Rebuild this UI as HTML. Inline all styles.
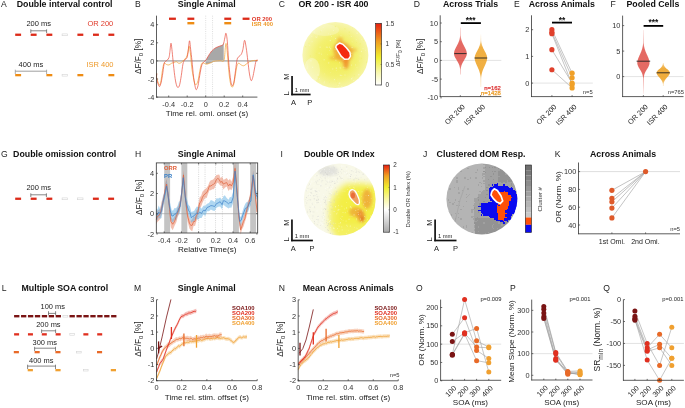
<!DOCTYPE html><html><head><meta charset="utf-8"><style>html,body{margin:0;padding:0;background:#fff;width:685px;height:408px;overflow:hidden}svg{display:block;font-family:"Liberation Sans",sans-serif;-webkit-font-smoothing:antialiased;will-change:transform}</style></head><body><svg width="685" height="408" viewBox="0 0 685 408" font-family="Liberation Sans, sans-serif"><defs><filter id="bl3" x="-50%" y="-50%" width="200%" height="200%"><feGaussianBlur stdDeviation="3"/></filter><filter id="bl15" x="-50%" y="-50%" width="200%" height="200%"><feGaussianBlur stdDeviation="1.5"/></filter><radialGradient id="gC" cx="0.52" cy="0.52" r="0.55"><stop offset="0" stop-color="#f1ec4c"/><stop offset="0.55" stop-color="#f3f070"/><stop offset="0.85" stop-color="#f6f4a0"/><stop offset="1" stop-color="#f8f7c0"/></radialGradient><radialGradient id="gC2" cx="0.5" cy="0.5" r="0.5"><stop offset="0" stop-color="#ee6a1c" stop-opacity="0.95"/><stop offset="0.45" stop-color="#f09a30" stop-opacity="0.55"/><stop offset="1" stop-color="#f2d040" stop-opacity="0"/></radialGradient><clipPath id="cC"><circle cx="335.4" cy="55.0" r="33.0"/></clipPath><linearGradient id="cbC" x1="0" y1="1" x2="0" y2="0"><stop offset="0" stop-color="#ffffff"/><stop offset="0.2" stop-color="#f8f8b0"/><stop offset="0.45" stop-color="#f0ee30"/><stop offset="0.7" stop-color="#f0a020"/><stop offset="1" stop-color="#e82010"/></linearGradient><linearGradient id="vg1" x1="0" y1="0" x2="0" y2="1"><stop offset="0" stop-color="#e05048" stop-opacity="0.3"/><stop offset="0.31" stop-color="#e05048" stop-opacity="0.85"/><stop offset="0.78" stop-color="#e05048" stop-opacity="0.85"/><stop offset="1" stop-color="#e05048" stop-opacity="0.5"/></linearGradient><linearGradient id="vg2" x1="0" y1="0" x2="0" y2="1"><stop offset="0" stop-color="#eea428" stop-opacity="0.05"/><stop offset="0.25" stop-color="#eea428" stop-opacity="0.88"/><stop offset="0.73" stop-color="#eea428" stop-opacity="0.88"/><stop offset="1" stop-color="#eea428" stop-opacity="0.3"/></linearGradient><linearGradient id="vg3" x1="0" y1="0" x2="0" y2="1"><stop offset="0" stop-color="#e05048" stop-opacity="0.2"/><stop offset="0.28" stop-color="#e05048" stop-opacity="0.85"/><stop offset="0.76" stop-color="#e05048" stop-opacity="0.85"/><stop offset="1" stop-color="#e05048" stop-opacity="0.15"/></linearGradient><linearGradient id="vg4" x1="0" y1="0" x2="0" y2="1"><stop offset="0" stop-color="#eea428" stop-opacity="0.5"/><stop offset="0.23" stop-color="#eea428" stop-opacity="0.9"/><stop offset="0.71" stop-color="#eea428" stop-opacity="0.9"/><stop offset="1" stop-color="#eea428" stop-opacity="0.4"/></linearGradient><clipPath id="cI"><circle cx="339.7" cy="199.5" r="35.9"/></clipPath><linearGradient id="cbI" x1="0" y1="1" x2="0" y2="0"><stop offset="0" stop-color="#a8a8a8"/><stop offset="0.333" stop-color="#ffffff"/><stop offset="0.5" stop-color="#f8f6a0"/><stop offset="0.667" stop-color="#f0ee30"/><stop offset="0.84" stop-color="#f0a020"/><stop offset="1" stop-color="#e82010"/></linearGradient><clipPath id="cJ"><circle cx="481.9" cy="199.0" r="35.5"/></clipPath></defs><text x="1" y="7.3" font-size="8.6" fill="#222">A</text>
<text x="16.7" y="7.3" font-size="8.8" font-weight="bold" fill="#111">Double interval control</text>
<rect x="15.2" y="33.6" width="5.9" height="2.3" fill="#dc2a18"/>
<rect x="30.7" y="33.6" width="5.9" height="2.3" fill="#dc2a18"/>
<rect x="46.4" y="33.6" width="5.9" height="2.3" fill="#dc2a18"/>
<rect x="62.1" y="33.9" width="5.4" height="1.8" fill="none" stroke="#d4d4d4" stroke-width="0.6"/>
<rect x="77.4" y="33.6" width="5.9" height="2.3" fill="#dc2a18"/>
<rect x="93" y="33.6" width="5.9" height="2.3" fill="#dc2a18"/>
<rect x="108.4" y="33.6" width="5.9" height="2.3" fill="#dc2a18"/>
<text x="26.4" y="26.2" font-size="7.5" fill="#222">200 ms</text>
<line x1="30.8" y1="30.8" x2="46.6" y2="30.8" stroke="#555" stroke-width="0.7"/>
<line x1="30.8" y1="29.3" x2="30.8" y2="33" stroke="#555" stroke-width="0.7"/>
<line x1="46.6" y1="29.3" x2="46.6" y2="33" stroke="#555" stroke-width="0.7"/>
<text x="113.3" y="26.2" font-size="7.5" text-anchor="end" fill="#e03a2a">OR 200</text>
<rect x="15.2" y="74" width="5.9" height="2.3" fill="#ee8c14"/>
<rect x="46.4" y="74" width="5.9" height="2.3" fill="#ee8c14"/>
<rect x="62.1" y="74.3" width="5.4" height="1.8" fill="none" stroke="#d4d4d4" stroke-width="0.6"/>
<rect x="77.4" y="74" width="5.9" height="2.3" fill="#ee8c14"/>
<rect x="108.4" y="74" width="5.9" height="2.3" fill="#ee8c14"/>
<text x="18.6" y="66.7" font-size="7.5" fill="#222">400 ms</text>
<line x1="15.3" y1="71.2" x2="46.6" y2="71.2" stroke="#888" stroke-width="0.8"/>
<line x1="15.3" y1="69.7" x2="15.3" y2="74" stroke="#888" stroke-width="0.7"/>
<line x1="46.6" y1="69.7" x2="46.6" y2="74" stroke="#888" stroke-width="0.7"/>
<text x="113.5" y="66.7" font-size="7.5" text-anchor="end" fill="#ee9a2a">ISR 400</text>
<text x="135.1" y="7.4" font-size="8.6" fill="#222">B</text>
<text x="177.8" y="7.4" font-size="8.8" font-weight="bold" fill="#111">Single Animal</text>
<line x1="205.7" y1="15.65" x2="205.7" y2="97.1" stroke="#c8c8c8" stroke-width="0.6" stroke-dasharray="1 1.2"/>
<line x1="212.54" y1="15.65" x2="212.54" y2="97.1" stroke="#c8c8c8" stroke-width="0.6" stroke-dasharray="1 1.2"/>
<path d="M205.7 60.28 L206.1 59.77 L206.5 59.1 L206.9 58.44 L207.3 57.77 L207.7 57.1 L208.1 56.44 L208.5 55.78 L208.9 55.18 L209.3 54.58 L209.7 53.98 L210.1 53.38 L210.5 52.78 L210.9 52.18 L211.3 51.58 L211.7 50.99 L212.1 50.67 L212.5 50.35 L212.9 50.03 L213.3 49.71 L213.7 49.39 L214.1 49.07 L214.5 48.75 L214.9 48.43 L215.3 48.11 L215.7 47.79 L216.1 47.6 L216.5 47.44 L216.9 47.28 L217.3 47.12 L217.7 46.96 L218.1 46.8 L218.5 46.64 L218.9 46.48 L219.3 46.32 L219.7 46.16 L220.1 45.98 L220.5 45.78 L220.9 45.58 L221.3 45.38 L221.7 45.18 L222.1 44.98 L222.5 44.78 L222.9 44.58 L223.3 43.99 L223.7 42.39 L223.7 60.4 L223.3 60.44 L222.9 60.48 L222.5 60.52 L222.1 60.56 L221.7 60.6 L221.3 60.64 L220.9 60.68 L220.5 60.71 L220.1 60.73 L219.7 60.75 L219.3 60.77 L218.9 60.79 L218.5 60.81 L218.1 60.83 L217.7 60.85 L217.3 60.88 L216.9 60.93 L216.5 60.97 L216.1 61.02 L215.7 61.07 L215.3 61.12 L214.9 61.17 L214.5 61.21 L214.1 61.26 L213.7 61.31 L213.3 61.38 L212.9 61.66 L212.5 61.94 L212.1 62.22 L211.7 62.5 L211.3 62.63 L210.9 62.77 L210.5 62.9 L210.1 63.03 L209.7 63.17 L209.3 63.3 L208.9 63.43 L208.5 63.57 L208.1 63.7 L207.7 63.83 L207.3 63.97 L206.9 64.1 L206.5 64.06 L206.1 63.93 L205.7 63.8" fill="#a8a8a8" stroke="none" stroke-width="0.8" stroke="none"/>
<line x1="156.5" y1="60.9" x2="257.4" y2="60.9" stroke="#bcbcbc" stroke-width="1.6"/>
<path d="M156.8 73.04 C156.77 73.75 156.26 75.35 156.64 77.29 C157.03 79.23 158.42 83.87 159.11 84.69 C159.79 85.51 160.2 84.55 160.75 82.22 C161.3 79.9 161.85 73.87 162.39 70.72 C162.94 67.57 163.35 64.37 164.04 63.33 C164.72 62.29 165.68 64.2 166.5 64.48 C167.32 64.75 168.14 65.16 168.97 64.97 C169.79 64.78 170.61 63.74 171.43 63.33 C172.25 62.92 173.07 62.78 173.9 62.51 C174.72 62.23 175.54 61.55 176.36 61.68 C177.18 61.82 178 63.19 178.83 63.33 C179.65 63.46 180.47 63.05 181.29 62.51 C182.11 61.96 182.93 60.86 183.75 60.04 C184.58 59.22 185.53 58.81 186.22 57.58 C186.9 56.34 187.4 54.56 187.86 52.65 C188.33 50.73 188.6 46.07 189.01 46.07 C189.42 46.07 189.83 48.81 190.33 52.65 C190.82 56.48 191.29 64.15 191.97 69.08 C192.65 74.01 193.75 79.62 194.43 82.22 C195.12 84.82 195.48 84.96 196.08 84.69 C196.68 84.41 197.36 83.18 198.05 80.58 C198.73 77.98 199.56 71.95 200.19 69.08 C200.82 66.2 201.14 64.29 201.83 63.33 C202.51 62.37 203.47 63.19 204.29 63.33 C205.12 63.46 205.94 64.15 206.76 64.15 C207.58 64.15 208.4 63.6 209.22 63.33 C210.04 63.05 211 62.83 211.69 62.51 C212.37 62.18 212.37 61.63 213.33 61.36 C214.29 61.08 216.21 60.97 217.44 60.86 C218.67 60.75 219.63 60.78 220.72 60.7 C221.82 60.62 223.24 62.53 224.01 60.37 C224.78 58.21 224.97 50.51 225.33 47.72 C225.68 44.92 225.82 42.79 226.15 43.61 C226.48 44.43 226.83 47.85 227.3 52.65 C227.76 57.44 228.39 67.16 228.94 72.36 C229.49 77.57 230.04 81.4 230.58 83.87 C231.13 86.33 231.68 87.15 232.23 87.15 C232.77 87.15 233.32 86.06 233.87 83.87 C234.42 81.68 234.96 77.16 235.51 74.01 C236.06 70.86 236.61 66.75 237.16 64.97 C237.7 63.19 238.11 63.33 238.8 63.33 C239.48 63.33 240.44 64.56 241.26 64.97 C242.09 65.38 242.91 65.93 243.73 65.79 C244.55 65.65 245.23 64.83 246.19 64.15 C247.15 63.46 248.25 62.29 249.48 61.68 C250.71 61.08 252.22 60.73 253.59 60.53 C254.96 60.34 257.01 60.53 257.69 60.53" fill="none" stroke="#f0a030" stroke-width="0.7" stroke-linejoin="round"/>
<path d="M156.8 73.86 C156.77 74.71 156.26 76.86 156.64 78.94 C157.03 81.01 158.42 85.51 159.11 86.33 C159.79 87.15 160.2 85.65 160.75 83.87 C161.3 82.09 161.85 78.94 162.39 75.65 C162.94 72.36 163.57 66.48 164.04 64.15 C164.5 61.82 164.64 62.37 165.19 61.68 C165.74 61 166.69 60.73 167.32 60.04 C167.95 59.36 168.56 58.81 168.97 57.58 C169.38 56.34 169.46 55.03 169.79 52.65 C170.12 50.26 170.58 43.83 170.94 43.28 C171.29 42.73 171.57 46.43 171.92 49.36 C172.28 52.29 172.61 56.48 173.07 60.86 C173.54 65.24 174.17 71.68 174.72 75.65 C175.27 79.62 175.81 82.72 176.36 84.69 C176.91 86.66 177.46 87.48 178 87.48 C178.55 87.48 179.1 86.66 179.65 84.69 C180.19 82.72 180.74 79.07 181.29 75.65 C181.84 72.23 182.39 66.75 182.93 64.15 C183.48 61.55 183.89 61.14 184.58 60.04 C185.26 58.95 186.44 59.08 187.04 57.58 C187.64 56.07 187.78 53.8 188.19 51 C188.6 48.21 189.09 41.09 189.51 40.82 C189.92 40.54 190.24 46.02 190.66 49.36 C191.07 52.7 191.48 56.21 191.97 60.86 C192.46 65.52 193.07 72.91 193.61 77.29 C194.16 81.68 194.79 85.1 195.26 87.15 C195.72 89.21 195.94 89.89 196.41 89.62 C196.87 89.34 197.5 87.84 198.05 85.51 C198.6 83.18 199.06 79.07 199.69 75.65 C200.32 72.23 201.06 67.3 201.83 64.97 C202.6 62.64 203.61 62.51 204.29 61.68 C204.98 60.86 205.25 61 205.94 60.04 C206.62 59.08 207.44 57.44 208.4 55.93 C209.36 54.43 210.46 52.37 211.69 51 C212.92 49.63 214.43 48.54 215.8 47.72 C217.16 46.9 218.67 46.62 219.9 46.07 C221.14 45.53 222.37 45.8 223.19 44.43 C224.01 43.06 224.37 39.72 224.83 37.86 C225.3 36 225.57 32.71 225.98 33.26 C226.39 33.81 226.86 36.54 227.3 41.14 C227.74 45.75 228.12 54.84 228.61 60.86 C229.1 66.89 229.71 73.19 230.25 77.29 C230.8 81.4 231.3 84.69 231.9 85.51 C232.5 86.33 233.27 84.69 233.87 82.22 C234.47 79.76 234.96 74.55 235.51 70.72 C236.06 66.89 236.61 61.55 237.16 59.22 C237.7 56.89 238.11 57.58 238.8 56.75 C239.48 55.93 240.58 55.52 241.26 54.29 C241.95 53.06 242.36 51.69 242.91 49.36 C243.45 47.03 244 40.6 244.55 40.32 C245.1 40.05 245.65 44.29 246.19 47.72 C246.74 51.14 247.29 56.48 247.84 60.86 C248.38 65.24 248.93 70.72 249.48 74.01 C250.03 77.29 250.57 80.03 251.12 80.58 C251.67 81.13 252.22 79.21 252.77 77.29 C253.31 75.38 253.86 71.82 254.41 69.08 C254.96 66.34 255.5 62.37 256.05 60.86 C256.6 59.36 257.42 60.18 257.69 60.04" fill="none" stroke="#e84c3c" stroke-width="0.7" stroke-linejoin="round"/>
<line x1="156.5" y1="15.65" x2="156.5" y2="97.5" stroke="#333333" stroke-width="0.8"/>
<line x1="156.1" y1="97.1" x2="257.4" y2="97.1" stroke="#333333" stroke-width="0.8"/>
<line x1="156.5" y1="97.1" x2="158.1" y2="97.1" stroke="#333333" stroke-width="0.7"/>
<text x="154.3" y="99.75" font-size="7.35" text-anchor="end" fill="#333333">-4</text>
<line x1="156.5" y1="79" x2="158.1" y2="79" stroke="#333333" stroke-width="0.7"/>
<text x="154.3" y="81.65" font-size="7.35" text-anchor="end" fill="#333333">-2</text>
<line x1="156.5" y1="60.9" x2="158.1" y2="60.9" stroke="#333333" stroke-width="0.7"/>
<text x="154.3" y="63.55" font-size="7.35" text-anchor="end" fill="#333333">0</text>
<line x1="156.5" y1="42.8" x2="158.1" y2="42.8" stroke="#333333" stroke-width="0.7"/>
<text x="154.3" y="45.45" font-size="7.35" text-anchor="end" fill="#333333">2</text>
<line x1="156.5" y1="24.7" x2="158.1" y2="24.7" stroke="#333333" stroke-width="0.7"/>
<text x="154.3" y="27.35" font-size="7.35" text-anchor="end" fill="#333333">4</text>
<line x1="168.7" y1="97.1" x2="168.7" y2="95.5" stroke="#333333" stroke-width="0.7"/>
<text x="168.7" y="106.5" font-size="7.35" text-anchor="middle" fill="#333333">-0.4</text>
<line x1="187.2" y1="97.1" x2="187.2" y2="95.5" stroke="#333333" stroke-width="0.7"/>
<text x="187.2" y="106.5" font-size="7.35" text-anchor="middle" fill="#333333">-0.2</text>
<line x1="205.7" y1="97.1" x2="205.7" y2="95.5" stroke="#333333" stroke-width="0.7"/>
<text x="205.7" y="106.5" font-size="7.35" text-anchor="middle" fill="#333333">0</text>
<line x1="224.2" y1="97.1" x2="224.2" y2="95.5" stroke="#333333" stroke-width="0.7"/>
<text x="224.2" y="106.5" font-size="7.35" text-anchor="middle" fill="#333333">0.2</text>
<line x1="242.7" y1="97.1" x2="242.7" y2="95.5" stroke="#333333" stroke-width="0.7"/>
<text x="242.7" y="106.5" font-size="7.35" text-anchor="middle" fill="#333333">0.4</text>
<text x="141.2" y="56.3" font-size="8.2" text-anchor="middle" fill="#222" transform="rotate(-90 141.2 56.3)">ΔF/F<tspan font-size="6.0" dy="2.3">0</tspan><tspan dy="-2.3"> [%]</tspan></text>
<text x="207" y="115.8" font-size="8.1" text-anchor="middle" fill="#222">Time rel. omi. onset (s)</text>
<rect x="169" y="17.6" width="6.9" height="2.3" fill="#dc2a18"/>
<rect x="187.4" y="17.6" width="6.9" height="2.3" fill="#dc2a18"/>
<rect x="224.3" y="17.6" width="6.9" height="2.3" fill="#dc2a18"/>
<rect x="242.6" y="17.6" width="6.9" height="2.3" fill="#dc2a18"/>
<rect x="187.4" y="22" width="6.9" height="2.4" fill="#ee8c14"/>
<rect x="224.3" y="22" width="6.9" height="2.4" fill="#ee8c14"/>
<text x="251.8" y="20.9" font-size="5.9" font-weight="bold" fill="#e03a2a">OR 200</text>
<text x="251.8" y="26" font-size="5.9" font-weight="bold" fill="#ee9a2a">ISR 400</text>
<text x="278.7" y="7.4" font-size="8.6" fill="#222">C</text>
<text x="298.5" y="7.4" font-size="8.8" font-weight="bold" fill="#111">OR 200 - ISR 400</text>
<circle cx="335.4" cy="55" r="33" fill="url(#gC)"/>
<g clip-path="url(#cC)">
<ellipse cx="312" cy="70" rx="8" ry="12" fill="#fafad8" opacity="0.45"/>
<ellipse cx="325" cy="30" rx="14" ry="6" fill="#fafad8" opacity="0.35"/>
<g filter="url(#bl15)">
<ellipse cx="343" cy="52" rx="9" ry="11" fill="#f09a30" opacity="0.75" transform="rotate(-35 343 52)"/>
<ellipse cx="346" cy="63" rx="3" ry="6" fill="#f08a28" opacity="0.8"/>
<ellipse cx="336" cy="58" rx="7" ry="1.8" fill="#f0a030" opacity="0.6"/>
<ellipse cx="352" cy="50" rx="5" ry="1.8" fill="#f0a030" opacity="0.55"/>
<ellipse cx="340" cy="40" rx="3" ry="3" fill="#f0a030" opacity="0.55"/>
</g>
</g>
<g opacity="0.5"><rect x="332.96" y="46.64" width="0.68" height="0.68" fill="#f0ee60"/><rect x="338.98" y="62.7" width="0.62" height="0.62" fill="#f8f8d0"/><rect x="365.18" y="49.89" width="0.7" height="0.7" fill="#fbfbe8"/><rect x="309.72" y="55.41" width="1.15" height="1.15" fill="#f0ee60"/><rect x="306.58" y="67.44" width="1.07" height="1.07" fill="#fbfbe8"/><rect x="317.2" y="74.34" width="1.13" height="1.13" fill="#f8f8d0"/><rect x="362.55" y="48.17" width="0.8" height="0.8" fill="#fbfbe8"/><rect x="327.4" y="54.45" width="0.61" height="0.61" fill="#f8f8d0"/><rect x="350.99" y="78.15" width="1.18" height="1.18" fill="#fbfbe8"/><rect x="310.4" y="60.19" width="1.14" height="1.14" fill="#fbfbe8"/><rect x="324.19" y="80.9" width="0.68" height="0.68" fill="#fbfbe8"/><rect x="335.45" y="59.82" width="0.92" height="0.92" fill="#fbfbe8"/><rect x="330.13" y="48.28" width="0.98" height="0.98" fill="#fbfbe8"/><rect x="348.66" y="31.59" width="1.16" height="1.16" fill="#f0ee60"/><rect x="339.03" y="62.02" width="0.69" height="0.69" fill="#f8f8d0"/><rect x="351.03" y="59.97" width="0.62" height="0.62" fill="#f0ee60"/><rect x="328.96" y="81.81" width="0.7" height="0.7" fill="#f0ee60"/><rect x="305.24" y="46.15" width="1" height="1" fill="#f0ee60"/><rect x="339.71" y="67.39" width="1.12" height="1.12" fill="#fbfbe8"/><rect x="359.43" y="60.55" width="0.87" height="0.87" fill="#f8f8d0"/><rect x="351.62" y="47.01" width="0.96" height="0.96" fill="#fbfbe8"/><rect x="331.02" y="36.09" width="0.87" height="0.87" fill="#f8f8d0"/><rect x="356.17" y="42.27" width="0.77" height="0.77" fill="#f0ee60"/><rect x="353.93" y="75.3" width="0.9" height="0.9" fill="#f0ee60"/><rect x="353.73" y="59.36" width="0.64" height="0.64" fill="#f0ee60"/><rect x="328.86" y="46.62" width="1.12" height="1.12" fill="#f8f8d0"/><rect x="311.58" y="41.16" width="1.02" height="1.02" fill="#f8f8d0"/><rect x="355.83" y="39.36" width="0.7" height="0.7" fill="#fbfbe8"/><rect x="328.07" y="62.36" width="1.18" height="1.18" fill="#f8f8d0"/><rect x="321.21" y="53.74" width="0.77" height="0.77" fill="#fbfbe8"/><rect x="351.73" y="41.54" width="0.67" height="0.67" fill="#f8f8d0"/><rect x="332.19" y="68.45" width="1.06" height="1.06" fill="#f8f8d0"/><rect x="341.22" y="74.98" width="1" height="1" fill="#f8f8d0"/><rect x="353.33" y="80.1" width="0.9" height="0.9" fill="#fbfbe8"/><rect x="363.33" y="40.27" width="0.68" height="0.68" fill="#f0ee60"/><rect x="356.55" y="32.71" width="1.07" height="1.07" fill="#fbfbe8"/><rect x="315.79" y="53.26" width="0.95" height="0.95" fill="#f0ee60"/><rect x="328.03" y="33.42" width="0.89" height="0.89" fill="#f8f8d0"/><rect x="337.74" y="84.12" width="0.62" height="0.62" fill="#f0ee60"/><rect x="361.07" y="57.93" width="0.91" height="0.91" fill="#f0ee60"/><rect x="344.75" y="74.54" width="1.13" height="1.13" fill="#f0ee60"/><rect x="338.18" y="41.82" width="1.03" height="1.03" fill="#f0ee60"/><rect x="334.85" y="25.99" width="1.13" height="1.13" fill="#f0ee60"/><rect x="305.89" y="61.79" width="0.82" height="0.82" fill="#f8f8d0"/><rect x="317.65" y="76.33" width="1.04" height="1.04" fill="#f0ee60"/><rect x="335.13" y="38.04" width="0.97" height="0.97" fill="#fbfbe8"/><rect x="342.88" y="66.75" width="0.84" height="0.84" fill="#fbfbe8"/><rect x="352.08" y="27.57" width="0.62" height="0.62" fill="#f0ee60"/><rect x="333.44" y="57.35" width="0.62" height="0.62" fill="#fbfbe8"/><rect x="324.43" y="73.67" width="0.61" height="0.61" fill="#f8f8d0"/><rect x="341.36" y="86.44" width="1.19" height="1.19" fill="#fbfbe8"/><rect x="309.41" y="45.02" width="0.74" height="0.74" fill="#fbfbe8"/><rect x="315.08" y="36.6" width="0.67" height="0.67" fill="#fbfbe8"/><rect x="307.33" y="64.59" width="0.65" height="0.65" fill="#fbfbe8"/><rect x="351.31" y="52.86" width="0.91" height="0.91" fill="#f8f8d0"/><rect x="319.12" y="62.31" width="1.18" height="1.18" fill="#f0ee60"/><rect x="318.98" y="78.21" width="0.96" height="0.96" fill="#fbfbe8"/><rect x="344.57" y="66.96" width="0.68" height="0.68" fill="#fbfbe8"/><rect x="308.63" y="42.97" width="0.75" height="0.75" fill="#f0ee60"/><rect x="323.64" y="59.18" width="1.13" height="1.13" fill="#f8f8d0"/><rect x="330.79" y="27.18" width="0.78" height="0.78" fill="#f8f8d0"/><rect x="342.69" y="59.52" width="0.86" height="0.86" fill="#fbfbe8"/><rect x="324.15" y="25.89" width="0.66" height="0.66" fill="#f8f8d0"/><rect x="338.3" y="34.45" width="1.03" height="1.03" fill="#f0ee60"/><rect x="365.91" y="61.57" width="1.16" height="1.16" fill="#f0ee60"/><rect x="350.81" y="35.94" width="0.93" height="0.93" fill="#f8f8d0"/><rect x="307.41" y="66.21" width="0.85" height="0.85" fill="#fbfbe8"/><rect x="359.62" y="43.36" width="1.1" height="1.1" fill="#f0ee60"/><rect x="335.55" y="52.57" width="0.6" height="0.6" fill="#f0ee60"/><rect x="315.94" y="36.77" width="1.19" height="1.19" fill="#f8f8d0"/><rect x="345.25" y="48.1" width="1.13" height="1.13" fill="#f0ee60"/><rect x="359.71" y="55.58" width="0.81" height="0.81" fill="#f8f8d0"/><rect x="339.84" y="74.77" width="1.07" height="1.07" fill="#fbfbe8"/><rect x="334" y="79.14" width="1.01" height="1.01" fill="#fbfbe8"/><rect x="320.41" y="31.48" width="0.87" height="0.87" fill="#f0ee60"/><rect x="312.08" y="66.79" width="1.05" height="1.05" fill="#fbfbe8"/><rect x="338.4" y="83.31" width="0.62" height="0.62" fill="#fbfbe8"/><rect x="337.89" y="84.74" width="1.06" height="1.06" fill="#f8f8d0"/><rect x="311.28" y="35.91" width="0.93" height="0.93" fill="#f8f8d0"/><rect x="316.69" y="35.39" width="1.01" height="1.01" fill="#f8f8d0"/><rect x="325.82" y="46.56" width="0.82" height="0.82" fill="#f8f8d0"/><rect x="360.92" y="50.87" width="1.04" height="1.04" fill="#fbfbe8"/><rect x="339.09" y="82.58" width="1.18" height="1.18" fill="#fbfbe8"/><rect x="361.2" y="39.17" width="0.75" height="0.75" fill="#f8f8d0"/><rect x="337.46" y="83.57" width="0.92" height="0.92" fill="#f0ee60"/><rect x="341.12" y="86.07" width="0.99" height="0.99" fill="#f8f8d0"/><rect x="321.11" y="30.56" width="0.78" height="0.78" fill="#fbfbe8"/><rect x="318.6" y="52.64" width="1.02" height="1.02" fill="#f8f8d0"/><rect x="313.82" y="31.49" width="0.94" height="0.94" fill="#fbfbe8"/><rect x="344.45" y="74.49" width="1.15" height="1.15" fill="#f8f8d0"/><rect x="358.17" y="74.13" width="1.15" height="1.15" fill="#fbfbe8"/><rect x="329.86" y="71.39" width="1.1" height="1.1" fill="#f0ee60"/><rect x="344.38" y="28.24" width="1.18" height="1.18" fill="#f0ee60"/><rect x="319.63" y="46.67" width="1.06" height="1.06" fill="#f8f8d0"/><rect x="351.13" y="64.68" width="0.88" height="0.88" fill="#fbfbe8"/><rect x="333.07" y="30.14" width="0.79" height="0.79" fill="#fbfbe8"/><rect x="329.77" y="39.94" width="1.17" height="1.17" fill="#f8f8d0"/><rect x="323.73" y="82.39" width="0.93" height="0.93" fill="#fbfbe8"/><rect x="319.45" y="80.28" width="0.86" height="0.86" fill="#f8f8d0"/><rect x="339.2" y="68.56" width="0.65" height="0.65" fill="#f0ee60"/><rect x="329.34" y="50.13" width="0.71" height="0.71" fill="#fbfbe8"/><rect x="340.18" y="55.54" width="1.11" height="1.11" fill="#f8f8d0"/><rect x="348.77" y="34.69" width="0.98" height="0.98" fill="#f0ee60"/><rect x="336.42" y="80.98" width="0.62" height="0.62" fill="#f0ee60"/><rect x="323.06" y="52.18" width="0.77" height="0.77" fill="#f0ee60"/><rect x="330.37" y="72.19" width="0.63" height="0.63" fill="#f8f8d0"/><rect x="356.58" y="66.9" width="0.73" height="0.73" fill="#f8f8d0"/><rect x="326.48" y="46.71" width="1.2" height="1.2" fill="#f8f8d0"/><rect x="335.96" y="70.17" width="0.64" height="0.64" fill="#fbfbe8"/><rect x="355.12" y="64.54" width="0.85" height="0.85" fill="#fbfbe8"/><rect x="322.8" y="27.2" width="0.76" height="0.76" fill="#fbfbe8"/><rect x="340.49" y="35.26" width="0.97" height="0.97" fill="#f8f8d0"/><rect x="335.81" y="67.6" width="1.13" height="1.13" fill="#fbfbe8"/><rect x="337.17" y="65.76" width="0.69" height="0.69" fill="#f0ee60"/><rect x="330.19" y="33.99" width="0.78" height="0.78" fill="#f8f8d0"/><rect x="345.52" y="53.33" width="1.05" height="1.05" fill="#f0ee60"/><rect x="335.82" y="78.81" width="0.64" height="0.64" fill="#f0ee60"/><rect x="344.29" y="53.47" width="0.65" height="0.65" fill="#f8f8d0"/><rect x="352.16" y="77.53" width="0.8" height="0.8" fill="#f8f8d0"/><rect x="334.66" y="49.26" width="0.9" height="0.9" fill="#fbfbe8"/></g>
<path d="M336.2 45.39 L339.53 43.04 L343.06 44.41 L346.59 47.94 L349.92 52.25 L350.51 56.18 L348.55 59.12 L344.63 59.31 L341.1 56.18 L338.16 51.27 L335.8 47.35 L336.2 45.39" fill="#f42a10" stroke="#ffffff" stroke-width="1.5" stroke-linejoin="round"/>
<rect x="375.6" y="23.4" width="6" height="61.6" fill="url(#cbC)" stroke="#222" stroke-width="0.6"/>
<line x1="381.6" y1="85" x2="380.6" y2="85" stroke="#333" stroke-width="0.5"/>
<text x="385.4" y="87.2" font-size="6.3" fill="#333">0</text>
<line x1="381.6" y1="64.47" x2="380.6" y2="64.47" stroke="#333" stroke-width="0.5"/>
<text x="385.4" y="66.67" font-size="6.3" fill="#333">0.5</text>
<line x1="381.6" y1="43.93" x2="380.6" y2="43.93" stroke="#333" stroke-width="0.5"/>
<text x="385.4" y="46.13" font-size="6.3" fill="#333">1</text>
<line x1="381.6" y1="23.4" x2="380.6" y2="23.4" stroke="#333" stroke-width="0.5"/>
<text x="385.4" y="25.6" font-size="6.3" fill="#333">1.5</text>
<text x="400" y="53" font-size="6.2" text-anchor="middle" fill="#333" transform="rotate(-90 400 53)">ΔF/F<tspan font-size="4.8" dy="1.7">0</tspan><tspan dy="-1.7"> [%]</tspan></text>
<line x1="292.05" y1="76" x2="292.05" y2="95.35" stroke="#111" stroke-width="1.7"/>
<line x1="291.2" y1="94.5" x2="310.6" y2="94.5" stroke="#111" stroke-width="1.7"/>
<text x="288.95" y="76.5" font-size="7.5" text-anchor="middle" fill="#222" transform="rotate(-90 288.95 76.5)">M</text>
<text x="288.95" y="93.5" font-size="7.5" text-anchor="middle" fill="#222" transform="rotate(-90 288.95 93.5)">L</text>
<text x="294.85" y="91.5" font-size="5.8" fill="#222">1 mm</text>
<text x="293.45" y="104.8" font-size="7.5" text-anchor="middle" fill="#222">A</text>
<text x="309.7" y="104.8" font-size="7.5" text-anchor="middle" fill="#222">P</text>
<text x="413.8" y="7.4" font-size="8.6" fill="#222">D</text>
<text x="442.9" y="7.4" font-size="8.8" font-weight="bold" fill="#111">Across Trials</text>
<line x1="440.2" y1="60.4" x2="501.3" y2="60.4" stroke="#d0d0d0" stroke-width="0.6"/>
<path d="M460.65 27.5 L460.65 28.15 L460.65 28.8 L460.65 29.46 L460.65 30.11 L460.65 30.76 L460.65 31.41 L460.65 32.07 L460.65 32.72 L460.65 33.37 L460.65 34.02 L460.65 34.68 L460.66 35.33 L460.72 35.98 L460.8 36.64 L460.89 37.29 L461 37.94 L461.13 38.59 L461.28 39.25 L461.45 39.9 L461.64 40.55 L461.85 41.2 L462.09 41.86 L462.35 42.51 L462.64 43.16 L462.94 43.81 L463.26 44.47 L463.6 45.12 L463.94 45.77 L464.29 46.42 L464.64 47.08 L464.99 47.73 L465.32 48.38 L465.63 49.03 L465.92 49.69 L466.18 50.34 L466.39 50.99 L466.57 51.64 L466.7 52.3 L466.77 52.95 L466.8 53.6 L466.78 54.12 L466.71 54.65 L466.6 55.17 L466.46 55.69 L466.27 56.21 L466.05 56.73 L465.81 57.26 L465.54 57.78 L465.24 58.3 L464.94 58.83 L464.62 59.35 L464.3 59.87 L463.98 60.39 L463.66 60.91 L463.35 61.44 L463.05 61.96 L462.77 62.48 L462.5 63.01 L462.25 63.53 L462.02 64.05 L461.8 64.57 L461.61 65.09 L461.44 65.62 L461.28 66.14 L461.15 66.66 L461.03 67.19 L460.92 67.71 L460.83 68.23 L460.75 68.75 L460.69 69.28 L460.65 69.8 L460.65 70.32 L460.65 70.84 L460.65 71.36 L460.65 71.89 L460.65 72.41 L460.65 72.93 L460.65 73.45 L460.65 73.98 L460.65 74.5 L460.15 74.5 L460.15 73.98 L460.15 73.45 L460.15 72.93 L460.15 72.41 L460.15 71.89 L460.15 71.36 L460.15 70.84 L460.15 70.32 L460.15 69.8 L460.11 69.28 L460.05 68.75 L459.97 68.23 L459.88 67.71 L459.77 67.19 L459.65 66.66 L459.52 66.14 L459.36 65.62 L459.19 65.09 L459 64.57 L458.78 64.05 L458.55 63.53 L458.3 63.01 L458.03 62.48 L457.75 61.96 L457.45 61.44 L457.14 60.91 L456.82 60.39 L456.5 59.87 L456.18 59.35 L455.86 58.83 L455.56 58.3 L455.26 57.78 L454.99 57.26 L454.75 56.73 L454.53 56.21 L454.34 55.69 L454.2 55.17 L454.09 54.65 L454.02 54.12 L454 53.6 L454.03 52.95 L454.1 52.3 L454.23 51.64 L454.41 50.99 L454.62 50.34 L454.88 49.69 L455.17 49.03 L455.48 48.38 L455.81 47.73 L456.16 47.08 L456.51 46.42 L456.86 45.77 L457.2 45.12 L457.54 44.47 L457.86 43.81 L458.16 43.16 L458.45 42.51 L458.71 41.86 L458.95 41.2 L459.16 40.55 L459.35 39.9 L459.52 39.25 L459.67 38.59 L459.8 37.94 L459.91 37.29 L460 36.64 L460.08 35.98 L460.14 35.33 L460.15 34.68 L460.15 34.02 L460.15 33.37 L460.15 32.72 L460.15 32.07 L460.15 31.41 L460.15 30.76 L460.15 30.11 L460.15 29.46 L460.15 28.8 L460.15 28.15 L460.15 27.5" fill="url(#vg1)" stroke="none" stroke-width="0.8"/>
<path d="M481.15 34 L481.15 34.6 L481.15 35.2 L481.15 35.8 L481.15 36.4 L481.15 37 L481.15 37.6 L481.15 38.2 L481.15 38.8 L481.15 39.4 L481.15 40 L481.18 40.6 L481.25 41.2 L481.33 41.8 L481.42 42.4 L481.52 43 L481.65 43.6 L481.79 44.2 L481.95 44.8 L482.13 45.4 L482.33 46 L482.55 46.6 L482.79 47.2 L483.04 47.8 L483.32 48.4 L483.61 49 L483.92 49.6 L484.23 50.2 L484.55 50.8 L484.88 51.4 L485.19 52 L485.5 52.6 L485.8 53.2 L486.08 53.8 L486.33 54.4 L486.56 55 L486.75 55.6 L486.9 56.2 L487.01 56.8 L487.08 57.4 L487.1 58 L487.07 58.73 L487 59.45 L486.88 60.17 L486.71 60.9 L486.5 61.62 L486.25 62.35 L485.97 63.08 L485.67 63.8 L485.35 64.53 L485.01 65.25 L484.67 65.97 L484.33 66.7 L484 67.42 L483.67 68.15 L483.36 68.88 L483.07 69.6 L482.79 70.33 L482.54 71.05 L482.31 71.78 L482.1 72.5 L481.91 73.22 L481.75 73.95 L481.61 74.67 L481.48 75.4 L481.38 76.12 L481.29 76.85 L481.21 77.58 L481.15 78.3 L481.15 79.03 L481.15 79.75 L481.15 80.47 L481.15 81.2 L481.15 81.92 L481.15 82.65 L481.15 83.38 L481.15 84.1 L481.15 84.83 L481.15 85.55 L481.15 86.28 L481.15 87 L480.65 87 L480.65 86.28 L480.65 85.55 L480.65 84.83 L480.65 84.1 L480.65 83.38 L480.65 82.65 L480.65 81.92 L480.65 81.2 L480.65 80.47 L480.65 79.75 L480.65 79.03 L480.65 78.3 L480.59 77.58 L480.51 76.85 L480.42 76.12 L480.32 75.4 L480.19 74.67 L480.05 73.95 L479.89 73.22 L479.7 72.5 L479.49 71.78 L479.26 71.05 L479.01 70.33 L478.73 69.6 L478.44 68.88 L478.13 68.15 L477.8 67.42 L477.47 66.7 L477.13 65.97 L476.79 65.25 L476.45 64.53 L476.13 63.8 L475.83 63.08 L475.55 62.35 L475.3 61.62 L475.09 60.9 L474.92 60.17 L474.8 59.45 L474.73 58.73 L474.7 58 L474.72 57.4 L474.79 56.8 L474.9 56.2 L475.05 55.6 L475.24 55 L475.47 54.4 L475.72 53.8 L476 53.2 L476.3 52.6 L476.61 52 L476.92 51.4 L477.25 50.8 L477.57 50.2 L477.88 49.6 L478.19 49 L478.48 48.4 L478.76 47.8 L479.01 47.2 L479.25 46.6 L479.47 46 L479.67 45.4 L479.85 44.8 L480.01 44.2 L480.15 43.6 L480.28 43 L480.38 42.4 L480.47 41.8 L480.55 41.2 L480.62 40.6 L480.65 40 L480.65 39.4 L480.65 38.8 L480.65 38.2 L480.65 37.6 L480.65 37 L480.65 36.4 L480.65 35.8 L480.65 35.2 L480.65 34.6 L480.65 34" fill="url(#vg2)" stroke="none" stroke-width="0.8"/>
<line x1="454.3" y1="53.6" x2="466.5" y2="53.6" stroke="#222" stroke-width="0.9"/>
<line x1="474.6" y1="58" x2="487.2" y2="58" stroke="#222" stroke-width="0.9"/>
<line x1="460.8" y1="23.1" x2="480.9" y2="23.1" stroke="#000" stroke-width="1.8"/>
<text x="470.6" y="22.8" font-size="8.4" text-anchor="middle" font-weight="bold" fill="#111">***</text>
<line x1="440.2" y1="15.3" x2="440.2" y2="97" stroke="#333333" stroke-width="0.8"/>
<line x1="439.8" y1="96.6" x2="501.3" y2="96.6" stroke="#333333" stroke-width="0.8"/>
<line x1="440.2" y1="97.8" x2="441.8" y2="97.8" stroke="#333333" stroke-width="0.7"/>
<text x="438" y="100.45" font-size="7.35" text-anchor="end" fill="#333333">-10</text>
<line x1="440.2" y1="79.1" x2="441.8" y2="79.1" stroke="#333333" stroke-width="0.7"/>
<text x="438" y="81.75" font-size="7.35" text-anchor="end" fill="#333333">-5</text>
<line x1="440.2" y1="60.4" x2="441.8" y2="60.4" stroke="#333333" stroke-width="0.7"/>
<text x="438" y="63.05" font-size="7.35" text-anchor="end" fill="#333333">0</text>
<line x1="440.2" y1="41.7" x2="441.8" y2="41.7" stroke="#333333" stroke-width="0.7"/>
<text x="438" y="44.35" font-size="7.35" text-anchor="end" fill="#333333">5</text>
<line x1="440.2" y1="23" x2="441.8" y2="23" stroke="#333333" stroke-width="0.7"/>
<text x="438" y="25.65" font-size="7.35" text-anchor="end" fill="#333333">10</text>
<line x1="460.3" y1="96.6" x2="460.3" y2="95.2" stroke="#333333" stroke-width="0.7"/>
<line x1="480.5" y1="96.6" x2="480.5" y2="95.2" stroke="#333333" stroke-width="0.7"/>
<text x="500.8" y="89.8" font-size="5.9" text-anchor="end" fill="#dc3434" stroke="#dc3434" stroke-width="0.25">n=162</text>
<text x="500.8" y="94.6" font-size="5.9" text-anchor="end" fill="#eb9a22" stroke="#eb9a22" stroke-width="0.25">n=1428</text>
<text x="423.2" y="56.3" font-size="8.2" text-anchor="middle" fill="#222" transform="rotate(-90 423.2 56.3)">ΔF/F<tspan font-size="6.0" dy="2.3">0</tspan><tspan dy="-2.3"> [%]</tspan></text>
<text x="465.3" y="107.4" font-size="7.2" text-anchor="end" fill="#222" transform="rotate(-45 465.3 107.4)">OR 200</text>
<text x="485.5" y="107.4" font-size="7.2" text-anchor="end" fill="#222" transform="rotate(-45 485.5 107.4)">ISR 400</text>
<text x="514.1" y="7.4" font-size="8.6" fill="#222">E</text>
<text x="528.7" y="7.4" font-size="8.8" font-weight="bold" fill="#111">Across Animals</text>
<line x1="531.5" y1="83.1" x2="592.8" y2="83.1" stroke="#d0d0d0" stroke-width="0.6"/>
<line x1="551.9" y1="29.7" x2="572.1" y2="73.22" stroke="#a0a0a0" stroke-width="0.6"/>
<line x1="551.9" y1="32.37" x2="572.1" y2="77.76" stroke="#a0a0a0" stroke-width="0.6"/>
<line x1="551.9" y1="33.7" x2="572.1" y2="84.43" stroke="#a0a0a0" stroke-width="0.6"/>
<line x1="551.9" y1="49.72" x2="572.1" y2="83.1" stroke="#a0a0a0" stroke-width="0.6"/>
<line x1="551.9" y1="69.75" x2="572.1" y2="87.91" stroke="#a0a0a0" stroke-width="0.6"/>
<circle cx="551.9" cy="29.7" r="2.6" fill="#e0402c"/>
<circle cx="551.9" cy="32.37" r="2.6" fill="#e0402c"/>
<circle cx="551.9" cy="33.7" r="2.6" fill="#e0402c"/>
<circle cx="551.9" cy="49.72" r="2.6" fill="#e0402c"/>
<circle cx="551.9" cy="69.75" r="2.6" fill="#e0402c"/>
<circle cx="572.1" cy="73.22" r="2.6" fill="#f0a028"/>
<circle cx="572.1" cy="77.76" r="2.6" fill="#f0a028"/>
<circle cx="572.1" cy="83.1" r="2.6" fill="#f0a028"/>
<circle cx="572.1" cy="84.43" r="2.6" fill="#f0a028"/>
<circle cx="572.1" cy="87.91" r="2.6" fill="#f0a028"/>
<line x1="552" y1="22.6" x2="572" y2="22.6" stroke="#000" stroke-width="1.8"/>
<text x="562" y="23" font-size="8.4" text-anchor="middle" font-weight="bold" fill="#111">**</text>
<line x1="531.5" y1="15.3" x2="531.5" y2="97" stroke="#333333" stroke-width="0.8"/>
<line x1="531.1" y1="96.6" x2="592.8" y2="96.6" stroke="#333333" stroke-width="0.8"/>
<line x1="531.5" y1="83.1" x2="533.1" y2="83.1" stroke="#333333" stroke-width="0.7"/>
<text x="529.3" y="85.75" font-size="7.35" text-anchor="end" fill="#333333">0</text>
<line x1="531.5" y1="56.4" x2="533.1" y2="56.4" stroke="#333333" stroke-width="0.7"/>
<text x="529.3" y="59.05" font-size="7.35" text-anchor="end" fill="#333333">1</text>
<line x1="531.5" y1="29.7" x2="533.1" y2="29.7" stroke="#333333" stroke-width="0.7"/>
<text x="529.3" y="32.35" font-size="7.35" text-anchor="end" fill="#333333">2</text>
<line x1="551.9" y1="96.6" x2="551.9" y2="95.2" stroke="#333333" stroke-width="0.7"/>
<line x1="572.1" y1="96.6" x2="572.1" y2="95.2" stroke="#333333" stroke-width="0.7"/>
<text x="592.7" y="93.8" font-size="5.8" text-anchor="end" fill="#333">n=5</text>
<text x="556.9" y="107.4" font-size="7.2" text-anchor="end" fill="#222" transform="rotate(-45 556.9 107.4)">OR 200</text>
<text x="577.1" y="107.4" font-size="7.2" text-anchor="end" fill="#222" transform="rotate(-45 577.1 107.4)">ISR 400</text>
<text x="610.5" y="7.2" font-size="8.6" fill="#222">F</text>
<text x="626.5" y="7.2" font-size="8.8" font-weight="bold" fill="#111">Pooled Cells</text>
<line x1="622.6" y1="76.6" x2="683.5" y2="76.6" stroke="#d0d0d0" stroke-width="0.6"/>
<path d="M643.65 30 L643.65 30.82 L643.65 31.65 L643.65 32.48 L643.65 33.3 L643.65 34.12 L643.65 34.95 L643.65 35.77 L643.65 36.6 L643.65 37.42 L643.65 38.25 L643.65 39.08 L643.65 39.9 L643.65 40.73 L643.65 41.55 L643.65 42.38 L643.69 43.2 L643.77 44.02 L643.87 44.85 L643.98 45.67 L644.13 46.5 L644.29 47.33 L644.49 48.15 L644.71 48.98 L644.96 49.8 L645.24 50.62 L645.55 51.45 L645.88 52.27 L646.24 53.1 L646.61 53.92 L646.98 54.75 L647.37 55.58 L647.74 56.4 L648.1 57.23 L648.44 58.05 L648.74 58.88 L649 59.7 L649.21 60.52 L649.37 61.35 L649.47 62.17 L649.5 63 L649.45 63.77 L649.3 64.55 L649.06 65.33 L648.74 66.1 L648.35 66.88 L647.92 67.65 L647.45 68.42 L646.98 69.2 L646.5 69.97 L646.05 70.75 L645.62 71.53 L645.23 72.3 L644.89 73.08 L644.59 73.85 L644.33 74.62 L644.12 75.4 L643.95 76.17 L643.81 76.95 L643.7 77.72 L643.65 78.5 L643.65 79.28 L643.65 80.05 L643.65 80.83 L643.65 81.6 L643.65 82.38 L643.65 83.15 L643.65 83.92 L643.65 84.7 L643.65 85.47 L643.65 86.25 L643.65 87.03 L643.65 87.8 L643.65 88.58 L643.65 89.35 L643.65 90.12 L643.65 90.9 L643.65 91.67 L643.65 92.45 L643.65 93.22 L643.65 94 L643.15 94 L643.15 93.22 L643.15 92.45 L643.15 91.67 L643.15 90.9 L643.15 90.12 L643.15 89.35 L643.15 88.58 L643.15 87.8 L643.15 87.03 L643.15 86.25 L643.15 85.47 L643.15 84.7 L643.15 83.92 L643.15 83.15 L643.15 82.38 L643.15 81.6 L643.15 80.83 L643.15 80.05 L643.15 79.28 L643.15 78.5 L643.1 77.72 L642.99 76.95 L642.85 76.17 L642.68 75.4 L642.47 74.62 L642.21 73.85 L641.91 73.08 L641.57 72.3 L641.18 71.53 L640.75 70.75 L640.3 69.97 L639.82 69.2 L639.35 68.42 L638.88 67.65 L638.45 66.88 L638.06 66.1 L637.74 65.33 L637.5 64.55 L637.35 63.77 L637.3 63 L637.33 62.17 L637.43 61.35 L637.59 60.52 L637.8 59.7 L638.06 58.88 L638.36 58.05 L638.7 57.23 L639.06 56.4 L639.43 55.58 L639.82 54.75 L640.19 53.92 L640.56 53.1 L640.92 52.27 L641.25 51.45 L641.56 50.62 L641.84 49.8 L642.09 48.98 L642.31 48.15 L642.51 47.33 L642.67 46.5 L642.82 45.67 L642.93 44.85 L643.03 44.02 L643.11 43.2 L643.15 42.38 L643.15 41.55 L643.15 40.73 L643.15 39.9 L643.15 39.08 L643.15 38.25 L643.15 37.42 L643.15 36.6 L643.15 35.77 L643.15 34.95 L643.15 34.12 L643.15 33.3 L643.15 32.48 L643.15 31.65 L643.15 30.82 L643.15 30" fill="url(#vg3)" stroke="none" stroke-width="0.8"/>
<path d="M663.45 63 L663.45 63.24 L663.45 63.49 L663.48 63.73 L663.53 63.98 L663.59 64.22 L663.65 64.47 L663.73 64.72 L663.82 64.96 L663.91 65.2 L664.02 65.45 L664.14 65.69 L664.27 65.94 L664.42 66.19 L664.58 66.43 L664.75 66.67 L664.94 66.92 L665.14 67.16 L665.35 67.41 L665.58 67.66 L665.81 67.9 L666.06 68.14 L666.32 68.39 L666.58 68.63 L666.85 68.88 L667.12 69.12 L667.39 69.37 L667.66 69.61 L667.93 69.86 L668.19 70.11 L668.44 70.35 L668.67 70.59 L668.89 70.84 L669.09 71.08 L669.27 71.33 L669.43 71.58 L669.56 71.82 L669.66 72.06 L669.74 72.31 L669.78 72.55 L669.8 72.8 L669.78 73.13 L669.73 73.46 L669.64 73.79 L669.52 74.12 L669.37 74.45 L669.19 74.78 L668.99 75.11 L668.76 75.44 L668.51 75.77 L668.24 76.1 L667.97 76.43 L667.68 76.76 L667.39 77.09 L667.1 77.42 L666.8 77.75 L666.52 78.08 L666.23 78.41 L665.96 78.74 L665.7 79.07 L665.45 79.4 L665.22 79.73 L665 80.06 L664.79 80.39 L664.6 80.72 L664.43 81.05 L664.27 81.38 L664.13 81.71 L664 82.04 L663.89 82.37 L663.79 82.7 L663.7 83.03 L663.62 83.36 L663.55 83.69 L663.49 84.02 L663.45 84.35 L663.45 84.68 L663.45 85.01 L663.45 85.34 L663.45 85.67 L663.45 86 L662.95 86 L662.95 85.67 L662.95 85.34 L662.95 85.01 L662.95 84.68 L662.95 84.35 L662.91 84.02 L662.85 83.69 L662.78 83.36 L662.7 83.03 L662.61 82.7 L662.51 82.37 L662.4 82.04 L662.27 81.71 L662.13 81.38 L661.97 81.05 L661.8 80.72 L661.61 80.39 L661.4 80.06 L661.18 79.73 L660.95 79.4 L660.7 79.07 L660.44 78.74 L660.17 78.41 L659.88 78.08 L659.6 77.75 L659.3 77.42 L659.01 77.09 L658.72 76.76 L658.43 76.43 L658.16 76.1 L657.89 75.77 L657.64 75.44 L657.41 75.11 L657.21 74.78 L657.03 74.45 L656.88 74.12 L656.76 73.79 L656.67 73.46 L656.62 73.13 L656.6 72.8 L656.62 72.55 L656.66 72.31 L656.74 72.06 L656.84 71.82 L656.97 71.58 L657.13 71.33 L657.31 71.08 L657.51 70.84 L657.73 70.59 L657.96 70.35 L658.21 70.11 L658.47 69.86 L658.74 69.61 L659.01 69.37 L659.28 69.12 L659.55 68.88 L659.82 68.63 L660.08 68.39 L660.34 68.14 L660.59 67.9 L660.82 67.66 L661.05 67.41 L661.26 67.16 L661.46 66.92 L661.65 66.67 L661.82 66.43 L661.98 66.19 L662.13 65.94 L662.26 65.69 L662.38 65.45 L662.49 65.2 L662.58 64.96 L662.67 64.72 L662.75 64.47 L662.81 64.22 L662.87 63.98 L662.92 63.73 L662.95 63.49 L662.95 63.24 L662.95 63" fill="url(#vg4)" stroke="none" stroke-width="0.8"/>
<line x1="636.6" y1="61.2" x2="650.2" y2="61.2" stroke="#222" stroke-width="0.9"/>
<line x1="656.6" y1="72.8" x2="669.8" y2="72.8" stroke="#222" stroke-width="0.9"/>
<line x1="643.6" y1="25.9" x2="663.2" y2="25.9" stroke="#000" stroke-width="1.8"/>
<text x="653.4" y="25.1" font-size="8.4" text-anchor="middle" font-weight="bold" fill="#111">***</text>
<line x1="622.6" y1="15.6" x2="622.6" y2="97" stroke="#333333" stroke-width="0.8"/>
<line x1="622.2" y1="96.6" x2="683.5" y2="96.6" stroke="#333333" stroke-width="0.8"/>
<line x1="622.6" y1="76.6" x2="624.2" y2="76.6" stroke="#333333" stroke-width="0.7"/>
<text x="620.4" y="79.25" font-size="7.35" text-anchor="end" fill="#333333">0</text>
<line x1="622.6" y1="51.1" x2="624.2" y2="51.1" stroke="#333333" stroke-width="0.7"/>
<text x="620.4" y="53.75" font-size="7.35" text-anchor="end" fill="#333333">5</text>
<line x1="622.6" y1="25.6" x2="624.2" y2="25.6" stroke="#333333" stroke-width="0.7"/>
<text x="620.4" y="28.25" font-size="7.35" text-anchor="end" fill="#333333">10</text>
<line x1="643.4" y1="96.6" x2="643.4" y2="95.2" stroke="#333333" stroke-width="0.7"/>
<line x1="663.2" y1="96.6" x2="663.2" y2="95.2" stroke="#333333" stroke-width="0.7"/>
<text x="684" y="94" font-size="5.8" text-anchor="end" fill="#333">n=765</text>
<text x="648.4" y="107.4" font-size="7.2" text-anchor="end" fill="#222" transform="rotate(-45 648.4 107.4)">OR 200</text>
<text x="668.2" y="107.4" font-size="7.2" text-anchor="end" fill="#222" transform="rotate(-45 668.2 107.4)">ISR 400</text>
<text x="0.9" y="157.3" font-size="8.6" fill="#222">G</text>
<text x="13.1" y="157.3" font-size="8.8" font-weight="bold" fill="#111">Double omission control</text>
<rect x="15.2" y="197.6" width="5.9" height="2.3" fill="#dc2a18"/>
<rect x="30.7" y="197.6" width="5.9" height="2.3" fill="#dc2a18"/>
<rect x="46.4" y="197.6" width="5.9" height="2.3" fill="#dc2a18"/>
<rect x="62.1" y="197.9" width="5.4" height="1.8" fill="none" stroke="#d4d4d4" stroke-width="0.6"/>
<rect x="77.6" y="197.9" width="5.4" height="1.8" fill="none" stroke="#d4d4d4" stroke-width="0.6"/>
<rect x="92.9" y="197.6" width="5.9" height="2.3" fill="#dc2a18"/>
<rect x="108.2" y="197.6" width="5.9" height="2.3" fill="#dc2a18"/>
<text x="26.4" y="190.3" font-size="7.5" fill="#222">200 ms</text>
<line x1="30.8" y1="194.8" x2="46.4" y2="194.8" stroke="#555" stroke-width="0.7"/>
<line x1="30.8" y1="193.3" x2="30.8" y2="197" stroke="#555" stroke-width="0.7"/>
<line x1="46.4" y1="193.3" x2="46.4" y2="197" stroke="#555" stroke-width="0.7"/>
<text x="135.1" y="156.9" font-size="8.6" fill="#222">H</text>
<text x="177.8" y="156.9" font-size="8.8" font-weight="bold" fill="#111">Single Animal</text>
<rect x="164.2" y="162.9" width="5.9" height="70.1" fill="#c4c4c4"/>
<rect x="181.4" y="162.9" width="5.9" height="70.1" fill="#c4c4c4"/>
<rect x="233" y="162.9" width="5.9" height="70.1" fill="#c4c4c4"/>
<rect x="250.2" y="162.9" width="5.9" height="70.1" fill="#c4c4c4"/>
<line x1="198.6" y1="162.9" x2="198.6" y2="233" stroke="#c0c0c0" stroke-width="0.6" stroke-dasharray="1 1.2"/>
<line x1="205.05" y1="162.9" x2="205.05" y2="233" stroke="#c0c0c0" stroke-width="0.6" stroke-dasharray="1 1.2"/>
<line x1="215.54" y1="162.9" x2="215.54" y2="233" stroke="#c0c0c0" stroke-width="0.6" stroke-dasharray="1 1.2"/>
<line x1="222.42" y1="162.9" x2="222.42" y2="233" stroke="#c0c0c0" stroke-width="0.6" stroke-dasharray="1 1.2"/>
<line x1="156.3" y1="213.7" x2="257.7" y2="213.7" stroke="#9a9a9a" stroke-width="0.6"/>
<path d="M156.3 214.19 L157.51 210.44 L158.72 209.71 L160.12 208.68 L161.52 202.08 L162.73 198.37 L163.94 193.22 L165.24 183.72 L166.54 178.66 L168.41 192.1 L169.62 202.89 L170.83 216.41 L172.69 219.43 L174.55 216.41 L176.41 211.02 L177.62 206.95 L178.83 205.09 L181.07 193.48 L182.28 182.7 L183.49 170.04 L185.35 191.93 L187.58 211.49 L189.44 217.6 L190.84 221.11 L192.24 219.13 L193.63 216.31 L195.03 217.05 L196.24 210.48 L197.45 208.94 L199.68 197.16 L201.08 196 L202.48 191.74 L203.87 190.3 L205.27 189.01 L206.67 187.63 L208.06 185.71 L209.46 182.12 L210.86 180.22 L212.25 179.89 L213.65 179.12 L215.04 177 L216.44 175.02 L217.84 174.63 L219.23 174.59 L220.63 178.37 L222.03 176.56 L223.42 179.85 L224.82 179.28 L226.68 177.97 L228.54 180.4 L229.94 178.79 L231.34 181.73 L233.2 176.56 L235.06 163.05 L236.92 183.51 L238.78 212.03 L240.65 224.87 L242.04 221.47 L243.44 216.62 L244.83 213.86 L246.23 207.43 L247.63 201.42 L249.02 198.9 L250.89 189.45 L253.12 170.56 L254.98 187.07 L257.1 208.21 L257.1 215.61 L254.98 195.91 L253.12 181.18 L250.89 199.3 L249.02 206.26 L247.63 212.27 L246.23 217.79 L244.83 222.37 L243.44 226.72 L242.04 229.15 L240.65 234.38 L238.78 220.75 L236.92 192.51 L235.06 173.45 L233.2 186.52 L231.34 190.2 L229.94 189.07 L228.54 191 L226.68 186.62 L224.82 187.8 L223.42 189.38 L222.03 185.71 L220.63 185.82 L219.23 184.35 L217.84 182.51 L216.44 183.83 L215.04 187.33 L213.65 189.17 L212.25 189.37 L210.86 190.37 L209.46 190.27 L208.06 193.85 L206.67 197.96 L205.27 197.72 L203.87 199.97 L202.48 202.76 L201.08 206.58 L199.68 208.12 L197.45 218.45 L196.24 221.64 L195.03 226.01 L193.63 225.86 L192.24 231.32 L190.84 230.16 L189.44 228.57 L187.58 221.36 L185.35 202.47 L183.49 180.81 L182.28 192.05 L181.07 204.63 L178.83 214.55 L177.62 217.31 L176.41 221.95 L174.55 225.8 L172.69 230.21 L170.83 227.13 L169.62 215.11 L168.41 201.71 L166.54 189.06 L165.24 194.28 L163.94 201.77 L162.73 209.81 L161.52 214.69 L160.12 219.04 L158.72 220.7 L157.51 221.66 L156.3 224.25" fill="#e88060" stroke="none" stroke-width="0.8" fill-opacity="0.5"/>
<path d="M156.3 208.78 L157.51 209.56 L158.72 205.43 L160.12 209 L161.52 204.46 L162.91 196.24 L164.31 191.91 L166.54 179.87 L167.75 187.26 L168.96 197.41 L170.36 204.11 L171.76 210.43 L173.15 210.48 L174.55 208.01 L175.95 208.25 L177.34 206.38 L178.74 201.98 L180.13 200.65 L181.72 187.15 L183.3 172.74 L184.51 183.94 L185.72 196.01 L187.12 199.74 L188.51 205.07 L189.91 206.36 L191.31 211.92 L192.7 211.52 L194.1 211.08 L195.5 208.6 L196.89 206.53 L198.29 207.06 L199.68 206.35 L201.55 208.84 L203.41 205.74 L205.27 205.68 L207.13 203.67 L208.99 203.09 L210.86 200.12 L212.72 200.69 L214.58 201.98 L216.44 198.29 L218.3 198.53 L220.16 197.43 L222.03 199.85 L223.42 196.32 L224.82 195.34 L226.68 198.11 L228.54 199.63 L229.94 196.9 L231.34 197.21 L233.2 191.6 L235.06 167.04 L237.29 191.83 L238.5 203.81 L239.71 216.49 L241.11 216.74 L242.51 211.16 L243.9 206.96 L245.3 203.71 L246.7 201.94 L248.09 202.14 L249.49 197.41 L250.89 196.33 L253.12 171.14 L254.33 176.92 L255.54 189.11 L257.4 193.18 L257.4 200.85 L255.54 197.6 L254.33 187.39 L253.12 180.37 L250.89 205.11 L249.49 207.55 L248.09 211.91 L246.7 212.35 L245.3 213.56 L243.9 216.52 L242.51 220.17 L241.11 225.08 L239.71 226.55 L238.5 213.55 L237.29 201.03 L235.06 175.1 L233.2 202.78 L231.34 207.7 L229.94 207.45 L228.54 208.41 L226.68 207.31 L224.82 206.03 L223.42 204.47 L222.03 209.36 L220.16 206.42 L218.3 206.86 L216.44 207.67 L214.58 211 L212.72 210.45 L210.86 209.57 L208.99 211.31 L207.13 211.27 L205.27 216 L203.41 214.5 L201.55 218.03 L199.68 217.95 L198.29 219.67 L196.89 219.23 L195.5 218.79 L194.1 221.46 L192.7 221.62 L191.31 222.65 L189.91 218.74 L188.51 215.74 L187.12 211.77 L185.72 207.05 L184.51 195.58 L183.3 183.7 L181.72 197.43 L180.13 212.36 L178.74 214.11 L177.34 216.46 L175.95 220.62 L174.55 219.3 L173.15 222.61 L171.76 221.94 L170.36 216.88 L168.96 207.57 L167.75 197.28 L166.54 190.99 L164.31 203.08 L162.91 208.5 L161.52 217.9 L160.12 218.67 L158.72 217.54 L157.51 220.46 L156.3 218.49" fill="#60b0e4" stroke="none" stroke-width="0.8" fill-opacity="0.5"/>
<path d="M156.3 219.58 L157.51 216.11 L158.72 215.86 L160.12 213.66 L161.52 208.41 L162.73 203.98 L163.94 197.24 L165.24 189.64 L166.54 184.2 L168.41 197.24 L169.62 209.32 L170.83 221.44 L172.69 224.23 L174.55 221.44 L176.41 215.86 L177.62 212.84 L178.83 210.27 L181.07 199.1 L182.28 187.66 L183.49 174.89 L185.35 197.24 L187.58 215.86 L189.44 223.3 L190.84 225.5 L192.24 225.16 L193.63 221.52 L195.03 221.44 L196.24 215.64 L197.45 213.99 L199.68 202.82 L201.08 201.51 L202.48 197.24 L203.87 195.08 L205.27 193.51 L206.67 192.81 L208.06 189.79 L209.46 185.74 L210.86 186.07 L212.25 184.89 L213.65 184.2 L215.04 182.85 L216.44 179.55 L217.84 178.36 L219.23 179.55 L220.63 182.44 L222.03 181.41 L223.42 184.11 L224.82 183.27 L226.68 182.6 L228.54 186.07 L229.94 183.98 L231.34 186.07 L233.2 182.34 L235.06 168.38 L236.92 187.93 L238.78 215.86 L240.65 229.82 L242.04 225.81 L243.44 221.44 L244.83 218.72 L246.23 212.13 L247.63 206.95 L249.02 202.82 L250.89 193.51 L253.12 175.83 L254.98 191.65 L257.1 212.13" fill="none" stroke="#e0603a" stroke-width="0.7"/>
<path d="M156.3 213.99 L157.51 215.07 L158.72 212.13 L160.12 213.64 L161.52 211.2 L162.91 202.27 L164.31 197.24 L166.54 186.07 L167.75 192.62 L168.96 202.82 L170.36 210.82 L171.76 215.86 L173.15 215.96 L174.55 213.99 L175.95 213.81 L177.34 212.13 L178.74 208.49 L180.13 206.55 L181.72 192.58 L183.3 177.69 L184.51 189.79 L185.72 200.96 L187.12 205.97 L188.51 210.27 L189.91 212.49 L191.31 217.72 L192.7 216.48 L194.1 215.86 L195.5 213.99 L196.89 213.06 L198.29 213.58 L199.68 212.13 L201.55 213.38 L203.41 210.27 L205.27 210.85 L207.13 207.48 L208.99 206.74 L210.86 205.62 L212.72 205.84 L214.58 206.55 L216.44 203.66 L218.3 202.82 L220.16 201.71 L222.03 204.68 L223.42 200.74 L224.82 200.96 L226.68 202.2 L228.54 203.75 L229.94 202.49 L231.34 202.82 L233.2 197.24 L235.06 171.17 L237.29 197.24 L238.5 208.81 L239.71 221.44 L241.11 220.37 L242.51 215.86 L243.9 212.25 L245.3 208.41 L246.7 207.74 L248.09 206.55 L249.49 202.59 L250.89 200.96 L253.12 174.89 L254.33 182.11 L255.54 193.51 L257.4 197.24" fill="none" stroke="#3a80c8" stroke-width="0.7"/>
<rect x="156.3" y="162.9" width="101.4" height="70.1" fill="none" stroke="#333333" stroke-width="0.8"/>
<line x1="156.3" y1="233.9" x2="157.9" y2="233.9" stroke="#333333" stroke-width="0.7"/>
<text x="154.1" y="236.55" font-size="7.35" text-anchor="end" fill="#333333">-2</text>
<line x1="156.3" y1="213.7" x2="157.9" y2="213.7" stroke="#333333" stroke-width="0.7"/>
<text x="154.1" y="216.35" font-size="7.35" text-anchor="end" fill="#333333">0</text>
<line x1="156.3" y1="193.5" x2="157.9" y2="193.5" stroke="#333333" stroke-width="0.7"/>
<text x="154.1" y="196.15" font-size="7.35" text-anchor="end" fill="#333333">2</text>
<line x1="156.3" y1="173.3" x2="157.9" y2="173.3" stroke="#333333" stroke-width="0.7"/>
<text x="154.1" y="175.95" font-size="7.35" text-anchor="end" fill="#333333">4</text>
<line x1="164.2" y1="233" x2="164.2" y2="231.4" stroke="#333333" stroke-width="0.7"/>
<text x="164.2" y="242.6" font-size="7.35" text-anchor="middle" fill="#333333">-0.4</text>
<line x1="181.4" y1="233" x2="181.4" y2="231.4" stroke="#333333" stroke-width="0.7"/>
<text x="181.4" y="242.6" font-size="7.35" text-anchor="middle" fill="#333333">-0.2</text>
<line x1="198.6" y1="233" x2="198.6" y2="231.4" stroke="#333333" stroke-width="0.7"/>
<text x="198.6" y="242.6" font-size="7.35" text-anchor="middle" fill="#333333">0</text>
<line x1="215.8" y1="233" x2="215.8" y2="231.4" stroke="#333333" stroke-width="0.7"/>
<text x="215.8" y="242.6" font-size="7.35" text-anchor="middle" fill="#333333">0.2</text>
<line x1="233" y1="233" x2="233" y2="231.4" stroke="#333333" stroke-width="0.7"/>
<text x="233" y="242.6" font-size="7.35" text-anchor="middle" fill="#333333">0.4</text>
<line x1="250.2" y1="233" x2="250.2" y2="231.4" stroke="#333333" stroke-width="0.7"/>
<text x="250.2" y="242.6" font-size="7.35" text-anchor="middle" fill="#333333">0.6</text>
<line x1="164.2" y1="162.9" x2="164.2" y2="164.5" stroke="#333333" stroke-width="0.7"/>
<line x1="181.4" y1="162.9" x2="181.4" y2="164.5" stroke="#333333" stroke-width="0.7"/>
<line x1="198.6" y1="162.9" x2="198.6" y2="164.5" stroke="#333333" stroke-width="0.7"/>
<line x1="215.8" y1="162.9" x2="215.8" y2="164.5" stroke="#333333" stroke-width="0.7"/>
<line x1="233" y1="162.9" x2="233" y2="164.5" stroke="#333333" stroke-width="0.7"/>
<line x1="250.2" y1="162.9" x2="250.2" y2="164.5" stroke="#333333" stroke-width="0.7"/>
<line x1="257.7" y1="233.9" x2="256.1" y2="233.9" stroke="#333333" stroke-width="0.7"/>
<line x1="257.7" y1="213.7" x2="256.1" y2="213.7" stroke="#333333" stroke-width="0.7"/>
<line x1="257.7" y1="193.5" x2="256.1" y2="193.5" stroke="#333333" stroke-width="0.7"/>
<line x1="257.7" y1="173.3" x2="256.1" y2="173.3" stroke="#333333" stroke-width="0.7"/>
<text x="142.2" y="197.3" font-size="8.2" text-anchor="middle" fill="#222" transform="rotate(-90 142.2 197.3)">ΔF/F<tspan font-size="6.0" dy="2.3">0</tspan><tspan dy="-2.3"> [%]</tspan></text>
<text x="207.2" y="252.4" font-size="8.1" text-anchor="middle" fill="#222">Relative Time(s)</text>
<text x="164.1" y="170.3" font-size="5.8" font-weight="bold" fill="#e0603a">ORR</text>
<text x="164.1" y="178.1" font-size="5.8" font-weight="bold" fill="#3a80c8">PR</text>
<text x="280.5" y="157.3" font-size="8.6" fill="#222">I</text>
<text x="303.9" y="157.3" font-size="8.8" font-weight="bold" fill="#111">Double OR Index</text>
<circle cx="339.7" cy="199.5" r="35.9" fill="#f8f8e8"/>
<g clip-path="url(#cI)">
<g filter="url(#bl3)">
<path d="M345 184 L334 194 L329 207 L329 226 L337 240 L380 240 L380 186 L362 183" fill="#f4f060" stroke="none" stroke-width="0.8"/>
<path d="M345 186 L338 200 L338 225 L376 225 L376 186" fill="#f3ee44" stroke="none" stroke-width="0.8"/>
</g>
<g filter="url(#bl15)">
<ellipse cx="367" cy="199" rx="5" ry="10" fill="#ec8a30" opacity="0.6"/>
<ellipse cx="356" cy="212" rx="7" ry="5" fill="#ec8a30" opacity="0.55"/>
<ellipse cx="361" cy="216" rx="4" ry="6" fill="#ea7a2c" opacity="0.6"/>
<ellipse cx="362.5" cy="219" rx="1.2" ry="3" fill="#d84018" opacity="0.9"/>
<ellipse cx="328" cy="171" rx="10" ry="5" fill="#d4d4d4" opacity="0.6"/>
</g>
</g>
<g opacity="0.5"><rect x="305.88" y="197.03" width="1.07" height="1.07" fill="#d0d0d0"/><rect x="337.48" y="181.3" width="0.83" height="0.83" fill="#ffffff"/><rect x="321.7" y="216.1" width="0.74" height="0.74" fill="#dcdcdc"/><rect x="315.26" y="220.84" width="0.58" height="0.58" fill="#ffffff"/><rect x="335.74" y="173.09" width="1.08" height="1.08" fill="#d0d0d0"/><rect x="318.84" y="179.07" width="1.09" height="1.09" fill="#dcdcdc"/><rect x="329.73" y="175.52" width="0.59" height="0.59" fill="#d0d0d0"/><rect x="327.63" y="222.29" width="0.85" height="0.85" fill="#ffffff"/><rect x="326.05" y="222.37" width="0.79" height="0.79" fill="#c4c4c4"/><rect x="317.07" y="197.53" width="0.61" height="0.61" fill="#c4c4c4"/><rect x="330.09" y="205.14" width="0.51" height="0.51" fill="#d0d0d0"/><rect x="321.47" y="222.44" width="0.78" height="0.78" fill="#ffffff"/><rect x="329.27" y="201.27" width="0.97" height="0.97" fill="#d0d0d0"/><rect x="330.17" y="184.84" width="0.76" height="0.76" fill="#d0d0d0"/><rect x="318.77" y="200.42" width="0.72" height="0.72" fill="#dcdcdc"/><rect x="328.21" y="229.96" width="0.83" height="0.83" fill="#c4c4c4"/><rect x="309.61" y="206.73" width="1.05" height="1.05" fill="#d0d0d0"/><rect x="320.84" y="206.25" width="1" height="1" fill="#ffffff"/><rect x="350.54" y="174.06" width="1.09" height="1.09" fill="#d0d0d0"/><rect x="344.3" y="173.13" width="1.04" height="1.04" fill="#ffffff"/><rect x="311.46" y="194.8" width="0.59" height="0.59" fill="#ffffff"/><rect x="324.97" y="196.14" width="1.1" height="1.1" fill="#dcdcdc"/><rect x="332.79" y="174.12" width="0.73" height="0.73" fill="#ffffff"/><rect x="310.2" y="183.15" width="0.97" height="0.97" fill="#ffffff"/><rect x="329.74" y="220.04" width="0.96" height="0.96" fill="#ffffff"/><rect x="329.89" y="214.18" width="0.67" height="0.67" fill="#ffffff"/><rect x="328.22" y="176.43" width="1.01" height="1.01" fill="#ffffff"/><rect x="341.81" y="175.53" width="1" height="1" fill="#ffffff"/><rect x="324.11" y="169.26" width="0.9" height="0.9" fill="#ffffff"/><rect x="316.14" y="219.63" width="0.85" height="0.85" fill="#ffffff"/><rect x="325.53" y="203.32" width="1.02" height="1.02" fill="#c4c4c4"/><rect x="315.29" y="195.27" width="0.89" height="0.89" fill="#dcdcdc"/><rect x="358.3" y="176.56" width="0.93" height="0.93" fill="#ffffff"/><rect x="329.01" y="211.17" width="0.54" height="0.54" fill="#dcdcdc"/><rect x="320.88" y="228.45" width="0.5" height="0.5" fill="#ffffff"/><rect x="325" y="200.41" width="1.07" height="1.07" fill="#c4c4c4"/><rect x="314" y="206.39" width="0.84" height="0.84" fill="#dcdcdc"/><rect x="329.01" y="227.75" width="0.5" height="0.5" fill="#d0d0d0"/><rect x="327.21" y="229.4" width="0.82" height="0.82" fill="#c4c4c4"/><rect x="330.79" y="194.59" width="0.64" height="0.64" fill="#c4c4c4"/><rect x="331.36" y="224.99" width="0.6" height="0.6" fill="#ffffff"/><rect x="338.04" y="172.35" width="0.87" height="0.87" fill="#ffffff"/><rect x="313.6" y="191.77" width="0.79" height="0.79" fill="#ffffff"/><rect x="323.02" y="174.71" width="1.09" height="1.09" fill="#c4c4c4"/><rect x="324.07" y="214.44" width="0.87" height="0.87" fill="#ffffff"/><rect x="311.53" y="212.96" width="0.61" height="0.61" fill="#ffffff"/><rect x="331.94" y="224.77" width="0.62" height="0.62" fill="#c4c4c4"/><rect x="326.13" y="175.48" width="0.92" height="0.92" fill="#ffffff"/><rect x="334.36" y="202.47" width="0.53" height="0.53" fill="#dcdcdc"/><rect x="322.99" y="169.72" width="0.54" height="0.54" fill="#d0d0d0"/><rect x="327.71" y="194.43" width="0.54" height="0.54" fill="#ffffff"/><rect x="364.26" y="179.34" width="0.89" height="0.89" fill="#d0d0d0"/><rect x="354.95" y="173.27" width="0.68" height="0.68" fill="#ffffff"/><rect x="314.55" y="207.44" width="0.75" height="0.75" fill="#dcdcdc"/><rect x="344.81" y="172.1" width="0.74" height="0.74" fill="#ffffff"/><rect x="313.45" y="194.59" width="0.69" height="0.69" fill="#ffffff"/><rect x="313.73" y="184.76" width="0.84" height="0.84" fill="#ffffff"/><rect x="343.28" y="179.44" width="0.54" height="0.54" fill="#dcdcdc"/><rect x="322.05" y="217.49" width="0.81" height="0.81" fill="#dcdcdc"/><rect x="336.35" y="191.52" width="0.58" height="0.58" fill="#d0d0d0"/><rect x="350.83" y="169.72" width="0.9" height="0.9" fill="#d0d0d0"/><rect x="336.36" y="191.59" width="0.78" height="0.78" fill="#c4c4c4"/><rect x="311.52" y="201.7" width="0.83" height="0.83" fill="#ffffff"/><rect x="319.82" y="171.93" width="1.08" height="1.08" fill="#ffffff"/><rect x="362.72" y="173.64" width="0.87" height="0.87" fill="#c4c4c4"/><rect x="325.05" y="208.93" width="1.08" height="1.08" fill="#c4c4c4"/><rect x="332.2" y="170.56" width="0.52" height="0.52" fill="#dcdcdc"/><rect x="317.84" y="198.78" width="1.06" height="1.06" fill="#c4c4c4"/><rect x="334.58" y="197.03" width="0.56" height="0.56" fill="#dcdcdc"/><rect x="350.71" y="168.71" width="1.02" height="1.02" fill="#ffffff"/><rect x="314.72" y="181.84" width="0.67" height="0.67" fill="#dcdcdc"/><rect x="328.52" y="217.59" width="0.69" height="0.69" fill="#d0d0d0"/><rect x="312.27" y="211.6" width="0.67" height="0.67" fill="#dcdcdc"/><rect x="356.16" y="175.32" width="0.62" height="0.62" fill="#d0d0d0"/><rect x="317.05" y="189.55" width="0.54" height="0.54" fill="#ffffff"/><rect x="315.53" y="180.87" width="0.9" height="0.9" fill="#d0d0d0"/><rect x="333.25" y="166.83" width="0.83" height="0.83" fill="#ffffff"/><rect x="317.3" y="180.38" width="1.06" height="1.06" fill="#d0d0d0"/><rect x="335.48" y="189.28" width="0.75" height="0.75" fill="#ffffff"/><rect x="341.3" y="173.13" width="0.51" height="0.51" fill="#c4c4c4"/><rect x="313.76" y="198.3" width="0.97" height="0.97" fill="#c4c4c4"/><rect x="321.38" y="169.65" width="0.76" height="0.76" fill="#ffffff"/><rect x="331.07" y="218.83" width="0.5" height="0.5" fill="#c4c4c4"/><rect x="315.96" y="182.45" width="0.91" height="0.91" fill="#c4c4c4"/><rect x="306.24" y="202.54" width="0.94" height="0.94" fill="#d0d0d0"/><rect x="313.14" y="189.24" width="1.02" height="1.02" fill="#ffffff"/><rect x="304.99" y="201.47" width="0.58" height="0.58" fill="#dcdcdc"/><rect x="355.99" y="170.44" width="0.82" height="0.82" fill="#dcdcdc"/><rect x="349.07" y="173.94" width="0.96" height="0.96" fill="#ffffff"/><rect x="360.86" y="172.09" width="0.69" height="0.69" fill="#dcdcdc"/><rect x="333.92" y="167.36" width="1.09" height="1.09" fill="#d0d0d0"/><rect x="337.13" y="178.06" width="0.99" height="0.99" fill="#c4c4c4"/><rect x="329.06" y="181.42" width="1.09" height="1.09" fill="#d0d0d0"/><rect x="314.07" y="223.31" width="0.79" height="0.79" fill="#d0d0d0"/><rect x="310.53" y="192.1" width="0.95" height="0.95" fill="#c4c4c4"/><rect x="317.06" y="191.54" width="0.69" height="0.69" fill="#d0d0d0"/><rect x="318.65" y="184.16" width="0.52" height="0.52" fill="#c4c4c4"/><rect x="329.03" y="221.12" width="1.06" height="1.06" fill="#ffffff"/><rect x="347.67" y="178.59" width="0.81" height="0.81" fill="#d0d0d0"/><rect x="316.59" y="210.49" width="1.04" height="1.04" fill="#ffffff"/><rect x="326.88" y="186.88" width="1.01" height="1.01" fill="#ffffff"/><rect x="321.68" y="170.78" width="0.68" height="0.68" fill="#c4c4c4"/><rect x="333.46" y="176.91" width="0.89" height="0.89" fill="#ffffff"/><rect x="333.73" y="194.14" width="0.82" height="0.82" fill="#dcdcdc"/><rect x="325.51" y="183.76" width="0.86" height="0.86" fill="#c4c4c4"/><rect x="312.1" y="203.99" width="0.86" height="0.86" fill="#dcdcdc"/><rect x="334.95" y="187.01" width="0.56" height="0.56" fill="#c4c4c4"/><rect x="338.03" y="170.84" width="0.62" height="0.62" fill="#dcdcdc"/><rect x="311.81" y="187.71" width="0.72" height="0.72" fill="#d0d0d0"/><rect x="326.97" y="218.86" width="0.61" height="0.61" fill="#ffffff"/><rect x="318.62" y="190.48" width="0.78" height="0.78" fill="#d0d0d0"/><rect x="331.16" y="188.2" width="0.95" height="0.95" fill="#ffffff"/><rect x="325.05" y="171.99" width="0.79" height="0.79" fill="#c4c4c4"/><rect x="357.72" y="177.63" width="0.71" height="0.71" fill="#dcdcdc"/><rect x="324.66" y="199.41" width="0.92" height="0.92" fill="#d0d0d0"/><rect x="327.99" y="224.49" width="0.81" height="0.81" fill="#d0d0d0"/><rect x="323.26" y="215.3" width="0.59" height="0.59" fill="#d0d0d0"/><rect x="316.72" y="224.19" width="1.01" height="1.01" fill="#dcdcdc"/><rect x="310.39" y="189.14" width="0.99" height="0.99" fill="#d0d0d0"/><rect x="362.53" y="173.71" width="0.99" height="0.99" fill="#d0d0d0"/><rect x="321.81" y="196.5" width="0.73" height="0.73" fill="#ffffff"/><rect x="317.72" y="221.29" width="0.51" height="0.51" fill="#ffffff"/><rect x="309.93" y="183.64" width="1.07" height="1.07" fill="#ffffff"/><rect x="340.26" y="167.41" width="0.74" height="0.74" fill="#ffffff"/><rect x="335.01" y="206.22" width="1.04" height="1.04" fill="#ffffff"/><rect x="349.45" y="166.19" width="0.51" height="0.51" fill="#ffffff"/><rect x="315.76" y="187.9" width="0.68" height="0.68" fill="#dcdcdc"/><rect x="334.06" y="183.05" width="0.78" height="0.78" fill="#c4c4c4"/><rect x="309.32" y="212.96" width="0.52" height="0.52" fill="#ffffff"/><rect x="313.59" y="180.58" width="1.05" height="1.05" fill="#ffffff"/><rect x="334.6" y="182.75" width="0.95" height="0.95" fill="#c4c4c4"/><rect x="327.79" y="179.01" width="0.68" height="0.68" fill="#ffffff"/><rect x="330.27" y="197.9" width="0.85" height="0.85" fill="#dcdcdc"/><rect x="331.46" y="180.65" width="0.9" height="0.9" fill="#d0d0d0"/><rect x="333.87" y="199.8" width="0.87" height="0.87" fill="#c4c4c4"/><rect x="307.83" y="199.54" width="0.52" height="0.52" fill="#ffffff"/><rect x="323.59" y="205.47" width="0.86" height="0.86" fill="#ffffff"/><rect x="309.36" y="195.82" width="0.94" height="0.94" fill="#ffffff"/><rect x="348.26" y="170.67" width="0.81" height="0.81" fill="#ffffff"/><rect x="330.59" y="192.95" width="0.77" height="0.77" fill="#d0d0d0"/><rect x="318.69" y="196.19" width="0.54" height="0.54" fill="#d0d0d0"/><rect x="330.67" y="188.07" width="0.99" height="0.99" fill="#ffffff"/><rect x="322.62" y="223.13" width="0.88" height="0.88" fill="#ffffff"/><rect x="315.73" y="220.26" width="0.92" height="0.92" fill="#ffffff"/><rect x="346.08" y="172.03" width="0.93" height="0.93" fill="#ffffff"/><rect x="346.28" y="166.65" width="0.93" height="0.93" fill="#c4c4c4"/><rect x="355.56" y="168.58" width="0.89" height="0.89" fill="#c4c4c4"/><rect x="312.45" y="217.77" width="0.66" height="0.66" fill="#c4c4c4"/><rect x="325.27" y="226.7" width="0.69" height="0.69" fill="#ffffff"/><rect x="337.23" y="174.76" width="0.63" height="0.63" fill="#c4c4c4"/><rect x="326.39" y="207.52" width="0.77" height="0.77" fill="#dcdcdc"/><rect x="329.13" y="169.28" width="0.76" height="0.76" fill="#ffffff"/><rect x="315.99" y="199.66" width="1.06" height="1.06" fill="#c4c4c4"/><rect x="323.03" y="199.05" width="0.82" height="0.82" fill="#dcdcdc"/><rect x="311.54" y="182.21" width="0.71" height="0.71" fill="#ffffff"/><rect x="322.8" y="208.79" width="0.88" height="0.88" fill="#d0d0d0"/><rect x="353.32" y="171.54" width="0.56" height="0.56" fill="#c4c4c4"/><rect x="331.38" y="209.29" width="0.93" height="0.93" fill="#c4c4c4"/><rect x="324.81" y="187.81" width="1.1" height="1.1" fill="#ffffff"/><rect x="308.3" y="185.24" width="0.61" height="0.61" fill="#d0d0d0"/><rect x="340.16" y="171.08" width="0.75" height="0.75" fill="#dcdcdc"/><rect x="329.8" y="169.04" width="0.73" height="0.73" fill="#dcdcdc"/><rect x="358.99" y="171.84" width="0.82" height="0.82" fill="#d0d0d0"/><rect x="331.13" y="171.85" width="0.68" height="0.68" fill="#ffffff"/><rect x="318.82" y="200.55" width="1.05" height="1.05" fill="#ffffff"/><rect x="350.92" y="176.59" width="0.62" height="0.62" fill="#ffffff"/><rect x="308.91" y="185.58" width="1.01" height="1.01" fill="#ffffff"/><rect x="325.8" y="203.3" width="0.98" height="0.98" fill="#ffffff"/><rect x="322.17" y="175.52" width="0.88" height="0.88" fill="#ffffff"/><rect x="347.23" y="173.24" width="0.62" height="0.62" fill="#d0d0d0"/><rect x="335.77" y="180.4" width="0.65" height="0.65" fill="#d0d0d0"/><rect x="325.19" y="227.14" width="0.88" height="0.88" fill="#d0d0d0"/><rect x="347.27" y="167.76" width="0.67" height="0.67" fill="#ffffff"/><rect x="333.96" y="193.37" width="1.09" height="1.09" fill="#dcdcdc"/><rect x="324.61" y="177.58" width="1.07" height="1.07" fill="#d0d0d0"/><rect x="326.23" y="224.85" width="0.9" height="0.9" fill="#ffffff"/><rect x="330.59" y="179.93" width="0.5" height="0.5" fill="#d0d0d0"/><rect x="356.71" y="175.73" width="0.6" height="0.6" fill="#ffffff"/><rect x="320.9" y="223.13" width="0.89" height="0.89" fill="#ffffff"/><rect x="318.52" y="180.54" width="0.54" height="0.54" fill="#ffffff"/><rect x="330.59" y="205.4" width="0.63" height="0.63" fill="#d0d0d0"/><rect x="330.57" y="206.45" width="0.95" height="0.95" fill="#ffffff"/><rect x="337.08" y="177.21" width="0.61" height="0.61" fill="#dcdcdc"/><rect x="341.26" y="165.38" width="0.98" height="0.98" fill="#ffffff"/><rect x="308.54" y="188.01" width="0.56" height="0.56" fill="#c4c4c4"/><rect x="332.2" y="166.01" width="0.53" height="0.53" fill="#dcdcdc"/><rect x="319.38" y="192.51" width="0.77" height="0.77" fill="#ffffff"/><rect x="341.48" y="178.06" width="0.91" height="0.91" fill="#c4c4c4"/><rect x="333.68" y="210.97" width="0.89" height="0.89" fill="#ffffff"/><rect x="356.4" y="178.15" width="0.85" height="0.85" fill="#d0d0d0"/><rect x="317.59" y="201.9" width="1" height="1" fill="#c4c4c4"/><rect x="348.84" y="176.68" width="0.83" height="0.83" fill="#ffffff"/><rect x="330.34" y="227.18" width="0.66" height="0.66" fill="#ffffff"/><rect x="316.06" y="194.22" width="0.76" height="0.76" fill="#d0d0d0"/><rect x="320.29" y="184.76" width="0.99" height="0.99" fill="#d0d0d0"/><rect x="309.78" y="210.63" width="0.69" height="0.69" fill="#d0d0d0"/><rect x="326.83" y="225.1" width="0.97" height="0.97" fill="#c4c4c4"/><rect x="352.73" y="169.71" width="0.79" height="0.79" fill="#ffffff"/><rect x="319.34" y="185.41" width="0.75" height="0.75" fill="#ffffff"/><rect x="336.08" y="168.71" width="0.9" height="0.9" fill="#dcdcdc"/><rect x="346.16" y="168.83" width="0.73" height="0.73" fill="#ffffff"/><rect x="310.69" y="188.43" width="1.07" height="1.07" fill="#d0d0d0"/><rect x="329.37" y="171.06" width="0.7" height="0.7" fill="#ffffff"/><rect x="327.36" y="212.86" width="0.77" height="0.77" fill="#d0d0d0"/><rect x="326.02" y="196.62" width="1.03" height="1.03" fill="#ffffff"/><rect x="328.7" y="199.99" width="1.01" height="1.01" fill="#ffffff"/><rect x="317.9" y="215.91" width="1.06" height="1.06" fill="#d0d0d0"/><rect x="313.26" y="195.13" width="1.03" height="1.03" fill="#c4c4c4"/><rect x="325.72" y="204.36" width="0.85" height="0.85" fill="#d0d0d0"/><rect x="336.58" y="175.21" width="0.7" height="0.7" fill="#ffffff"/><rect x="306.58" y="189.84" width="1.1" height="1.1" fill="#ffffff"/><rect x="310.16" y="195.03" width="0.66" height="0.66" fill="#c4c4c4"/><rect x="331.82" y="225.12" width="1.1" height="1.1" fill="#dcdcdc"/><rect x="314.18" y="221.06" width="0.83" height="0.83" fill="#c4c4c4"/><rect x="323.75" y="176.05" width="0.75" height="0.75" fill="#ffffff"/><rect x="326.45" y="177.59" width="0.59" height="0.59" fill="#ffffff"/><rect x="340.84" y="172.1" width="0.73" height="0.73" fill="#dcdcdc"/><rect x="321.3" y="199.45" width="0.85" height="0.85" fill="#ffffff"/><rect x="343.61" y="170.72" width="0.7" height="0.7" fill="#c4c4c4"/><rect x="307.06" y="199.47" width="0.66" height="0.66" fill="#ffffff"/><rect x="326.38" y="190.03" width="0.51" height="0.51" fill="#d0d0d0"/><rect x="358.3" y="171.4" width="0.92" height="0.92" fill="#d0d0d0"/><rect x="322.11" y="175.74" width="0.66" height="0.66" fill="#d0d0d0"/><rect x="331.9" y="180.91" width="1.08" height="1.08" fill="#d0d0d0"/><rect x="351.56" y="170.57" width="0.79" height="0.79" fill="#c4c4c4"/><rect x="326.76" y="180.91" width="0.87" height="0.87" fill="#d0d0d0"/><rect x="331.99" y="186.37" width="0.88" height="0.88" fill="#ffffff"/><rect x="325" y="174.34" width="0.51" height="0.51" fill="#ffffff"/><rect x="344.31" y="170" width="0.64" height="0.64" fill="#ffffff"/><rect x="324.03" y="216.06" width="0.62" height="0.62" fill="#dcdcdc"/><rect x="312.33" y="206.11" width="0.92" height="0.92" fill="#ffffff"/><rect x="310.63" y="216.85" width="0.71" height="0.71" fill="#ffffff"/><rect x="315.66" y="175.06" width="0.97" height="0.97" fill="#ffffff"/><rect x="323.84" y="197.37" width="0.86" height="0.86" fill="#c4c4c4"/><rect x="313.41" y="195.63" width="0.84" height="0.84" fill="#dcdcdc"/><rect x="316.77" y="202.82" width="0.62" height="0.62" fill="#dcdcdc"/><rect x="323.7" y="222.96" width="0.66" height="0.66" fill="#c4c4c4"/><rect x="326.18" y="171.69" width="0.65" height="0.65" fill="#ffffff"/><rect x="320.23" y="183.78" width="1.04" height="1.04" fill="#ffffff"/><rect x="332.96" y="227.61" width="1.09" height="1.09" fill="#ffffff"/><rect x="332.37" y="206.55" width="0.62" height="0.62" fill="#c4c4c4"/><rect x="327.56" y="212.73" width="0.72" height="0.72" fill="#ffffff"/><rect x="315.48" y="191.12" width="1" height="1" fill="#dcdcdc"/><rect x="316.44" y="221.85" width="0.79" height="0.79" fill="#ffffff"/><rect x="314.33" y="198.53" width="0.87" height="0.87" fill="#dcdcdc"/><rect x="327.75" y="218.87" width="0.82" height="0.82" fill="#ffffff"/><rect x="326.69" y="199.47" width="0.53" height="0.53" fill="#dcdcdc"/><rect x="308.58" y="199.23" width="1.05" height="1.05" fill="#dcdcdc"/><rect x="327.4" y="182.2" width="0.72" height="0.72" fill="#d0d0d0"/><rect x="326.39" y="220.41" width="0.64" height="0.64" fill="#c4c4c4"/><rect x="329.24" y="181.54" width="0.68" height="0.68" fill="#ffffff"/><rect x="338.17" y="172.04" width="0.81" height="0.81" fill="#c4c4c4"/><rect x="306.92" y="211.51" width="1.02" height="1.02" fill="#d0d0d0"/><rect x="326.58" y="231.55" width="0.53" height="0.53" fill="#ffffff"/><rect x="331.3" y="171.81" width="1" height="1" fill="#ffffff"/><rect x="325.83" y="197.04" width="1.05" height="1.05" fill="#dcdcdc"/><rect x="329.89" y="232.78" width="1.02" height="1.02" fill="#c4c4c4"/><rect x="309.74" y="194.24" width="0.81" height="0.81" fill="#ffffff"/><rect x="341.17" y="168.95" width="1.1" height="1.1" fill="#d0d0d0"/><rect x="311.27" y="180.69" width="1.1" height="1.1" fill="#ffffff"/><rect x="331.77" y="177.39" width="0.9" height="0.9" fill="#ffffff"/><rect x="312.48" y="192.7" width="0.51" height="0.51" fill="#ffffff"/><rect x="328.02" y="180.37" width="0.69" height="0.69" fill="#ffffff"/><rect x="322.38" y="179.88" width="0.79" height="0.79" fill="#c4c4c4"/><rect x="324.72" y="214.8" width="0.53" height="0.53" fill="#ffffff"/><rect x="307.42" y="194.17" width="1" height="1" fill="#ffffff"/><rect x="314.59" y="188.83" width="0.91" height="0.91" fill="#ffffff"/><rect x="334.61" y="179.6" width="1.07" height="1.07" fill="#ffffff"/><rect x="335.73" y="175.3" width="0.72" height="0.72" fill="#d0d0d0"/><rect x="309.06" y="183.67" width="0.89" height="0.89" fill="#c4c4c4"/><rect x="328.76" y="188.38" width="0.6" height="0.6" fill="#dcdcdc"/><rect x="331.16" y="193.11" width="0.86" height="0.86" fill="#ffffff"/><rect x="317.89" y="216.69" width="0.95" height="0.95" fill="#ffffff"/><rect x="330.35" y="191.97" width="0.84" height="0.84" fill="#ffffff"/><rect x="328.83" y="193.22" width="0.67" height="0.67" fill="#c4c4c4"/><rect x="339.15" y="175.84" width="1.03" height="1.03" fill="#d0d0d0"/><rect x="310.06" y="199.3" width="1.08" height="1.08" fill="#d0d0d0"/><rect x="325.51" y="207.21" width="0.8" height="0.8" fill="#ffffff"/><rect x="358.7" y="175.52" width="0.62" height="0.62" fill="#ffffff"/><rect x="354.91" y="177.49" width="0.75" height="0.75" fill="#dcdcdc"/><rect x="353.95" y="178.22" width="0.74" height="0.74" fill="#dcdcdc"/><rect x="324.43" y="207.98" width="0.94" height="0.94" fill="#c4c4c4"/><rect x="332.26" y="207.29" width="0.97" height="0.97" fill="#dcdcdc"/><rect x="322.62" y="169.05" width="0.57" height="0.57" fill="#ffffff"/><rect x="311.28" y="192.86" width="0.89" height="0.89" fill="#d0d0d0"/><rect x="345.17" y="171.83" width="0.58" height="0.58" fill="#d0d0d0"/><rect x="328.9" y="172.85" width="0.99" height="0.99" fill="#dcdcdc"/><rect x="313.26" y="218.14" width="0.63" height="0.63" fill="#ffffff"/><rect x="320.34" y="202.98" width="0.86" height="0.86" fill="#ffffff"/><rect x="349.07" y="173.22" width="0.52" height="0.52" fill="#d0d0d0"/><rect x="320.08" y="222.4" width="0.79" height="0.79" fill="#ffffff"/><rect x="312.42" y="215.46" width="1.07" height="1.07" fill="#d0d0d0"/><rect x="317.66" y="221.56" width="0.82" height="0.82" fill="#dcdcdc"/><rect x="327.37" y="211.31" width="0.89" height="0.89" fill="#d0d0d0"/><rect x="328.15" y="191.58" width="0.57" height="0.57" fill="#d0d0d0"/><rect x="314.29" y="177.29" width="1.07" height="1.07" fill="#ffffff"/><rect x="331.24" y="206.59" width="0.61" height="0.61" fill="#dcdcdc"/><rect x="309.83" y="211.15" width="1.09" height="1.09" fill="#c4c4c4"/><rect x="322.88" y="216.05" width="1.04" height="1.04" fill="#ffffff"/><rect x="331.57" y="226.4" width="0.69" height="0.69" fill="#dcdcdc"/><rect x="346.22" y="174.33" width="0.62" height="0.62" fill="#dcdcdc"/><rect x="330.66" y="182.08" width="0.8" height="0.8" fill="#d0d0d0"/><rect x="336.26" y="169.2" width="1.02" height="1.02" fill="#dcdcdc"/><rect x="330.81" y="171.77" width="0.96" height="0.96" fill="#dcdcdc"/><rect x="337.56" y="183.04" width="0.72" height="0.72" fill="#ffffff"/><rect x="337.06" y="178.68" width="1.09" height="1.09" fill="#dcdcdc"/><rect x="315.01" y="191.19" width="1.02" height="1.02" fill="#dcdcdc"/><rect x="328.42" y="171.23" width="0.69" height="0.69" fill="#dcdcdc"/><rect x="329.8" y="223.62" width="1.09" height="1.09" fill="#c4c4c4"/><rect x="317.03" y="194.58" width="0.6" height="0.6" fill="#dcdcdc"/><rect x="307.81" y="195.16" width="1.01" height="1.01" fill="#dcdcdc"/><rect x="316.42" y="175.2" width="1" height="1" fill="#c4c4c4"/><rect x="349.76" y="178.07" width="0.89" height="0.89" fill="#d0d0d0"/><rect x="307.06" y="188.02" width="0.64" height="0.64" fill="#d0d0d0"/><rect x="328.15" y="222.96" width="0.83" height="0.83" fill="#c4c4c4"/><rect x="309.49" y="190.26" width="0.54" height="0.54" fill="#ffffff"/><rect x="323" y="193.96" width="0.73" height="0.73" fill="#ffffff"/><rect x="322.89" y="175.29" width="0.71" height="0.71" fill="#ffffff"/><rect x="328.51" y="200.05" width="0.6" height="0.6" fill="#ffffff"/><rect x="305.02" y="199.37" width="0.54" height="0.54" fill="#c4c4c4"/><rect x="327.43" y="180.73" width="0.88" height="0.88" fill="#ffffff"/><rect x="310.96" y="219.12" width="0.71" height="0.71" fill="#ffffff"/><rect x="330.57" y="202.23" width="0.84" height="0.84" fill="#c4c4c4"/><rect x="321.28" y="181.33" width="1.05" height="1.05" fill="#dcdcdc"/><rect x="354.22" y="176.41" width="0.75" height="0.75" fill="#ffffff"/><rect x="333.51" y="201.44" width="1.02" height="1.02" fill="#dcdcdc"/><rect x="317.81" y="219.34" width="1.09" height="1.09" fill="#dcdcdc"/><rect x="322.08" y="224.1" width="1.04" height="1.04" fill="#ffffff"/><rect x="308.36" y="213.93" width="1.09" height="1.09" fill="#ffffff"/><rect x="317.62" y="212.64" width="0.71" height="0.71" fill="#ffffff"/><rect x="311.37" y="212.65" width="0.76" height="0.76" fill="#ffffff"/><rect x="325.89" y="181.23" width="0.5" height="0.5" fill="#dcdcdc"/><rect x="323.42" y="229.64" width="0.86" height="0.86" fill="#ffffff"/><rect x="308.87" y="208.49" width="0.73" height="0.73" fill="#ffffff"/><rect x="309.86" y="203.46" width="0.86" height="0.86" fill="#ffffff"/><rect x="321.66" y="220.82" width="0.74" height="0.74" fill="#dcdcdc"/><rect x="328.99" y="186.74" width="1.01" height="1.01" fill="#dcdcdc"/><rect x="324.29" y="201.94" width="1.08" height="1.08" fill="#c4c4c4"/><rect x="322.85" y="212.67" width="0.87" height="0.87" fill="#c4c4c4"/><rect x="313.43" y="211.54" width="0.85" height="0.85" fill="#c4c4c4"/><rect x="326.27" y="173.62" width="1.09" height="1.09" fill="#c4c4c4"/><rect x="333.68" y="180.84" width="1.03" height="1.03" fill="#dcdcdc"/><rect x="321.34" y="185.54" width="0.8" height="0.8" fill="#dcdcdc"/><rect x="334.6" y="211.23" width="0.52" height="0.52" fill="#d0d0d0"/><rect x="323.54" y="218.15" width="0.7" height="0.7" fill="#ffffff"/><rect x="318.78" y="223.4" width="0.51" height="0.51" fill="#ffffff"/><rect x="314.7" y="190.06" width="1.08" height="1.08" fill="#d0d0d0"/><rect x="305.54" y="205.18" width="0.55" height="0.55" fill="#d0d0d0"/><rect x="328.2" y="215.76" width="0.77" height="0.77" fill="#c4c4c4"/><rect x="333.06" y="166.53" width="1.07" height="1.07" fill="#d0d0d0"/><rect x="315.73" y="190.93" width="0.98" height="0.98" fill="#c4c4c4"/><rect x="314.25" y="222.66" width="0.62" height="0.62" fill="#dcdcdc"/><rect x="316.78" y="184.39" width="0.58" height="0.58" fill="#c4c4c4"/><rect x="321.41" y="177.83" width="0.76" height="0.76" fill="#dcdcdc"/><rect x="321.17" y="209.71" width="0.86" height="0.86" fill="#ffffff"/><rect x="320" y="225.09" width="0.85" height="0.85" fill="#dcdcdc"/><rect x="342.01" y="179.33" width="0.7" height="0.7" fill="#ffffff"/><rect x="341.6" y="165.9" width="0.88" height="0.88" fill="#ffffff"/><rect x="355.41" y="177.77" width="0.79" height="0.79" fill="#c4c4c4"/><rect x="357.69" y="177.73" width="0.7" height="0.7" fill="#dcdcdc"/><rect x="332.86" y="165.36" width="0.61" height="0.61" fill="#dcdcdc"/><rect x="346.84" y="175.3" width="0.89" height="0.89" fill="#ffffff"/><rect x="336.77" y="181.47" width="0.93" height="0.93" fill="#d0d0d0"/><rect x="314.02" y="206.63" width="0.92" height="0.92" fill="#dcdcdc"/><rect x="331.98" y="233.28" width="1.07" height="1.07" fill="#dcdcdc"/><rect x="316.77" y="195.99" width="0.86" height="0.86" fill="#d0d0d0"/><rect x="345.8" y="167.65" width="1.04" height="1.04" fill="#ffffff"/><rect x="355.68" y="171.96" width="0.83" height="0.83" fill="#c4c4c4"/><rect x="317.28" y="199.78" width="1.03" height="1.03" fill="#d0d0d0"/><rect x="322.33" y="185.03" width="0.5" height="0.5" fill="#ffffff"/><rect x="340.21" y="167.6" width="0.83" height="0.83" fill="#d0d0d0"/><rect x="305.88" y="190.32" width="1" height="1" fill="#dcdcdc"/><rect x="334.55" y="177.66" width="1.02" height="1.02" fill="#ffffff"/><rect x="340.21" y="177.47" width="0.9" height="0.9" fill="#c4c4c4"/><rect x="317.63" y="209.49" width="0.68" height="0.68" fill="#ffffff"/><rect x="349.64" y="177.69" width="0.79" height="0.79" fill="#ffffff"/><rect x="330.35" y="166.78" width="0.67" height="0.67" fill="#ffffff"/><rect x="360.71" y="177.22" width="0.69" height="0.69" fill="#dcdcdc"/><rect x="343.46" y="165.53" width="0.91" height="0.91" fill="#ffffff"/><rect x="327.56" y="166.6" width="0.78" height="0.78" fill="#d0d0d0"/><rect x="309.21" y="209.26" width="0.93" height="0.93" fill="#c4c4c4"/><rect x="319.53" y="226" width="0.78" height="0.78" fill="#ffffff"/><rect x="317.87" y="175.49" width="0.96" height="0.96" fill="#ffffff"/><rect x="335.29" y="188.14" width="0.64" height="0.64" fill="#dcdcdc"/><rect x="317.76" y="190.92" width="0.87" height="0.87" fill="#ffffff"/><rect x="358.16" y="179.02" width="1.07" height="1.07" fill="#d0d0d0"/><rect x="317.35" y="216.13" width="0.68" height="0.68" fill="#c4c4c4"/><rect x="311.74" y="202.71" width="0.86" height="0.86" fill="#d0d0d0"/><rect x="333.41" y="222.52" width="1" height="1" fill="#d0d0d0"/><rect x="356.39" y="171.26" width="0.84" height="0.84" fill="#d0d0d0"/><rect x="324.19" y="219.47" width="0.78" height="0.78" fill="#d0d0d0"/><rect x="310.55" y="190.28" width="0.92" height="0.92" fill="#ffffff"/><rect x="322.24" y="219.67" width="0.96" height="0.96" fill="#ffffff"/><rect x="332.78" y="222.81" width="0.73" height="0.73" fill="#ffffff"/><rect x="328" y="223.85" width="0.52" height="0.52" fill="#d0d0d0"/><rect x="329.23" y="189.41" width="0.97" height="0.97" fill="#ffffff"/><rect x="333.03" y="172.94" width="0.67" height="0.67" fill="#ffffff"/><rect x="320.09" y="170.78" width="0.85" height="0.85" fill="#ffffff"/><rect x="316.35" y="219.07" width="1.07" height="1.07" fill="#d0d0d0"/><rect x="325.46" y="179.81" width="0.63" height="0.63" fill="#d0d0d0"/><rect x="349.89" y="175.94" width="1.05" height="1.05" fill="#c4c4c4"/><rect x="366.65" y="178.47" width="0.92" height="0.92" fill="#dcdcdc"/><rect x="314.98" y="202.83" width="0.82" height="0.82" fill="#ffffff"/><rect x="328.18" y="207.73" width="0.62" height="0.62" fill="#ffffff"/><rect x="341.24" y="166.77" width="0.61" height="0.61" fill="#ffffff"/><rect x="320.18" y="172.28" width="1.04" height="1.04" fill="#c4c4c4"/><rect x="308.93" y="193.14" width="1.07" height="1.07" fill="#ffffff"/><rect x="339.79" y="167.8" width="0.91" height="0.91" fill="#ffffff"/><rect x="324.73" y="203.96" width="0.6" height="0.6" fill="#ffffff"/><rect x="353.4" y="179.32" width="1.01" height="1.01" fill="#c4c4c4"/><rect x="319.05" y="224.32" width="0.88" height="0.88" fill="#ffffff"/><rect x="329.38" y="197.27" width="0.93" height="0.93" fill="#ffffff"/><rect x="321.42" y="180.18" width="0.72" height="0.72" fill="#dcdcdc"/><rect x="338" y="173.88" width="0.61" height="0.61" fill="#c4c4c4"/><rect x="327.14" y="174.23" width="0.95" height="0.95" fill="#c4c4c4"/><rect x="319.85" y="176.76" width="0.95" height="0.95" fill="#dcdcdc"/><rect x="320.44" y="186.2" width="0.58" height="0.58" fill="#d0d0d0"/><rect x="306.91" y="200.16" width="0.66" height="0.66" fill="#d0d0d0"/><rect x="316.52" y="202.14" width="0.71" height="0.71" fill="#c4c4c4"/><rect x="307.17" y="209.66" width="0.69" height="0.69" fill="#dcdcdc"/></g>
<g opacity="0.5"><rect x="360.76" y="222.62" width="0.74" height="0.74" fill="#f8f8d0"/><rect x="345.91" y="232.92" width="0.87" height="0.87" fill="#f8f8d0"/><rect x="359.1" y="183.18" width="0.9" height="0.9" fill="#f8f8d0"/><rect x="369.18" y="202.32" width="0.55" height="0.55" fill="#f8f8d0"/><rect x="351.4" y="207.4" width="0.54" height="0.54" fill="#f8f8d0"/><rect x="361.26" y="221.38" width="0.72" height="0.72" fill="#ffffff"/><rect x="358.05" y="213.91" width="0.9" height="0.9" fill="#ffffff"/><rect x="372.11" y="205.86" width="0.6" height="0.6" fill="#f8f8d0"/><rect x="338.75" y="223.39" width="0.6" height="0.6" fill="#ffffff"/><rect x="349.28" y="181.18" width="0.71" height="0.71" fill="#f8f8d0"/><rect x="366.99" y="201.31" width="0.56" height="0.56" fill="#f8f8d0"/><rect x="348.34" y="185.58" width="0.69" height="0.69" fill="#f8f8d0"/><rect x="347.11" y="226.1" width="0.72" height="0.72" fill="#f8f8d0"/><rect x="360.96" y="200.7" width="0.74" height="0.74" fill="#f8f8d0"/><rect x="352.64" y="196.01" width="0.86" height="0.86" fill="#ffffff"/><rect x="347.06" y="210.72" width="0.75" height="0.75" fill="#f8f8d0"/><rect x="339.46" y="209.15" width="0.73" height="0.73" fill="#f8f8d0"/><rect x="370.08" y="190.6" width="0.8" height="0.8" fill="#f8f8d0"/><rect x="363.23" y="203.8" width="0.81" height="0.81" fill="#ffffff"/><rect x="344.71" y="212.57" width="0.69" height="0.69" fill="#f8f8d0"/><rect x="347.84" y="193.91" width="0.89" height="0.89" fill="#f8f8d0"/><rect x="352.69" y="181.07" width="0.66" height="0.66" fill="#ffffff"/><rect x="337.02" y="228.19" width="0.81" height="0.81" fill="#ffffff"/><rect x="348.07" y="229.96" width="0.58" height="0.58" fill="#f8f8d0"/><rect x="336.25" y="213.41" width="0.9" height="0.9" fill="#ffffff"/><rect x="370.87" y="198" width="0.72" height="0.72" fill="#f8f8d0"/><rect x="338.08" y="205.2" width="0.92" height="0.92" fill="#f8f8d0"/><rect x="365.41" y="183.69" width="0.98" height="0.98" fill="#f8f8d0"/><rect x="355.05" y="181.52" width="0.8" height="0.8" fill="#ffffff"/><rect x="354.11" y="188.26" width="0.54" height="0.54" fill="#ffffff"/><rect x="357.15" y="209.51" width="0.56" height="0.56" fill="#f8f8d0"/><rect x="344.61" y="191.48" width="0.61" height="0.61" fill="#ffffff"/><rect x="353.74" y="214.95" width="0.56" height="0.56" fill="#ffffff"/><rect x="361.61" y="191.36" width="0.88" height="0.88" fill="#f8f8d0"/><rect x="364.46" y="201.71" width="0.93" height="0.93" fill="#ffffff"/><rect x="355.24" y="209.92" width="0.9" height="0.9" fill="#f8f8d0"/><rect x="342.59" y="211.97" width="0.8" height="0.8" fill="#ffffff"/><rect x="342.77" y="220.06" width="0.61" height="0.61" fill="#f8f8d0"/><rect x="367.97" y="195.04" width="0.98" height="0.98" fill="#ffffff"/><rect x="357.66" y="212.13" width="0.86" height="0.86" fill="#f8f8d0"/><rect x="362.38" y="210.58" width="0.77" height="0.77" fill="#ffffff"/><rect x="341.64" y="216.15" width="0.99" height="0.99" fill="#f8f8d0"/><rect x="335.08" y="223.37" width="0.53" height="0.53" fill="#ffffff"/><rect x="338.62" y="196.89" width="0.63" height="0.63" fill="#f8f8d0"/><rect x="342.99" y="181.04" width="0.83" height="0.83" fill="#f8f8d0"/><rect x="344.26" y="208.61" width="0.74" height="0.74" fill="#f8f8d0"/><rect x="338.71" y="226.03" width="0.88" height="0.88" fill="#f8f8d0"/><rect x="336.69" y="228.97" width="0.51" height="0.51" fill="#f8f8d0"/><rect x="348.5" y="218.76" width="0.96" height="0.96" fill="#ffffff"/><rect x="357.87" y="229.16" width="0.57" height="0.57" fill="#ffffff"/><rect x="341.16" y="219.35" width="0.74" height="0.74" fill="#f8f8d0"/><rect x="367.2" y="187.2" width="0.86" height="0.86" fill="#f8f8d0"/><rect x="366.07" y="210.23" width="0.9" height="0.9" fill="#ffffff"/><rect x="346.09" y="207.5" width="0.99" height="0.99" fill="#ffffff"/><rect x="359.97" y="218.56" width="0.98" height="0.98" fill="#ffffff"/><rect x="365.51" y="216.66" width="0.73" height="0.73" fill="#ffffff"/><rect x="338.24" y="208.89" width="0.66" height="0.66" fill="#ffffff"/><rect x="337.48" y="192.64" width="0.51" height="0.51" fill="#ffffff"/><rect x="365.67" y="195.04" width="0.63" height="0.63" fill="#f8f8d0"/><rect x="367.25" y="218.85" width="0.75" height="0.75" fill="#ffffff"/><rect x="351.3" y="208.26" width="0.5" height="0.5" fill="#f8f8d0"/><rect x="343.79" y="181.89" width="0.92" height="0.92" fill="#f8f8d0"/><rect x="354.24" y="226.93" width="0.61" height="0.61" fill="#ffffff"/><rect x="366.63" y="189.25" width="0.59" height="0.59" fill="#ffffff"/><rect x="338.08" y="209.5" width="0.74" height="0.74" fill="#f8f8d0"/><rect x="351.37" y="199.77" width="0.76" height="0.76" fill="#f8f8d0"/><rect x="349.78" y="189.53" width="0.89" height="0.89" fill="#f8f8d0"/><rect x="339.99" y="222.29" width="0.99" height="0.99" fill="#ffffff"/><rect x="346.39" y="224.82" width="0.86" height="0.86" fill="#ffffff"/><rect x="355.99" y="227.77" width="0.62" height="0.62" fill="#ffffff"/><rect x="342.71" y="190.93" width="0.61" height="0.61" fill="#f8f8d0"/><rect x="349.83" y="225.62" width="0.95" height="0.95" fill="#ffffff"/><rect x="356.09" y="218.46" width="0.95" height="0.95" fill="#ffffff"/><rect x="347.74" y="198.62" width="0.66" height="0.66" fill="#f8f8d0"/><rect x="350.29" y="206.13" width="0.8" height="0.8" fill="#ffffff"/><rect x="341.46" y="205.79" width="0.79" height="0.79" fill="#ffffff"/><rect x="345.14" y="212.22" width="0.73" height="0.73" fill="#f8f8d0"/><rect x="338.65" y="225.23" width="0.55" height="0.55" fill="#ffffff"/><rect x="338.34" y="209.4" width="0.82" height="0.82" fill="#f8f8d0"/><rect x="341.28" y="226.43" width="0.96" height="0.96" fill="#f8f8d0"/><rect x="348.26" y="193.62" width="0.59" height="0.59" fill="#f8f8d0"/><rect x="362.81" y="197.73" width="0.55" height="0.55" fill="#f8f8d0"/><rect x="338.51" y="230.73" width="0.74" height="0.74" fill="#ffffff"/><rect x="366.08" y="182.95" width="0.61" height="0.61" fill="#f8f8d0"/><rect x="358.06" y="209.41" width="0.64" height="0.64" fill="#ffffff"/><rect x="357.13" y="228.43" width="0.53" height="0.53" fill="#ffffff"/><rect x="341.75" y="229.53" width="0.84" height="0.84" fill="#ffffff"/><rect x="349.7" y="216.16" width="0.56" height="0.56" fill="#ffffff"/><rect x="340.1" y="217.96" width="0.76" height="0.76" fill="#f8f8d0"/><rect x="351.55" y="215.95" width="0.78" height="0.78" fill="#f8f8d0"/><rect x="346.47" y="202.33" width="0.59" height="0.59" fill="#ffffff"/><rect x="354.18" y="183.9" width="0.65" height="0.65" fill="#f8f8d0"/><rect x="356.78" y="189.67" width="0.52" height="0.52" fill="#f8f8d0"/><rect x="363.8" y="219.8" width="0.8" height="0.8" fill="#f8f8d0"/><rect x="350.9" y="207.39" width="0.75" height="0.75" fill="#ffffff"/><rect x="373.32" y="202.75" width="0.53" height="0.53" fill="#ffffff"/><rect x="345.63" y="220.63" width="0.93" height="0.93" fill="#f8f8d0"/><rect x="349.87" y="206.55" width="1" height="1" fill="#ffffff"/><rect x="357.94" y="191.08" width="0.78" height="0.78" fill="#ffffff"/><rect x="365.01" y="207.08" width="0.76" height="0.76" fill="#ffffff"/><rect x="347.35" y="188.98" width="0.78" height="0.78" fill="#ffffff"/><rect x="361.1" y="196.1" width="0.56" height="0.56" fill="#ffffff"/><rect x="334.18" y="227.9" width="0.72" height="0.72" fill="#ffffff"/><rect x="351.31" y="191.69" width="0.81" height="0.81" fill="#f8f8d0"/><rect x="356.24" y="219.73" width="0.5" height="0.5" fill="#ffffff"/><rect x="353.63" y="214.3" width="0.88" height="0.88" fill="#ffffff"/><rect x="349.57" y="218.75" width="0.56" height="0.56" fill="#f8f8d0"/><rect x="337.13" y="212.6" width="0.61" height="0.61" fill="#f8f8d0"/><rect x="364.05" y="216.22" width="0.78" height="0.78" fill="#ffffff"/><rect x="349.33" y="187.2" width="0.99" height="0.99" fill="#f8f8d0"/><rect x="365.58" y="183.31" width="0.72" height="0.72" fill="#f8f8d0"/><rect x="364.65" y="222.49" width="0.67" height="0.67" fill="#f8f8d0"/><rect x="353.38" y="186.86" width="0.89" height="0.89" fill="#ffffff"/><rect x="370.19" y="215.64" width="0.78" height="0.78" fill="#ffffff"/><rect x="347.74" y="194.78" width="0.53" height="0.53" fill="#f8f8d0"/><rect x="337.49" y="209.66" width="0.89" height="0.89" fill="#ffffff"/><rect x="349.47" y="185.13" width="0.57" height="0.57" fill="#ffffff"/><rect x="336.71" y="194.45" width="0.67" height="0.67" fill="#ffffff"/><rect x="373.66" y="192.01" width="0.74" height="0.74" fill="#f8f8d0"/><rect x="360.21" y="213.75" width="0.6" height="0.6" fill="#ffffff"/></g>
<path d="M349.5 191.5 C349.92 191.18 351.08 189.68 352 189.6 C352.92 189.52 354.08 190.02 355 191 C355.92 191.98 356.78 193.92 357.5 195.5 C358.22 197.08 359.08 199.03 359.3 200.5 C359.52 201.97 359.35 203.72 358.8 204.3 C358.25 204.88 357.05 204.63 356 204 C354.95 203.37 353.58 201.75 352.5 200.5 C351.42 199.25 350 198 349.5 196.5 C349 195 349.08 192.65 349.5 191.5 C349.92 190.35 351.58 189.92 352 189.6" fill="#f0a060" stroke="#ffffff" stroke-width="1.3" stroke-linejoin="round"/>
<ellipse cx="353" cy="195.5" rx="2" ry="3" fill="#e86030" opacity="0.8"/>
<rect x="383.4" y="165" width="6.1" height="67.2" fill="url(#cbI)" stroke="#222" stroke-width="0.6"/>
<line x1="389.5" y1="232.2" x2="388.5" y2="232.2" stroke="#333" stroke-width="0.5"/>
<text x="393.2" y="234.4" font-size="6.3" fill="#333">-1</text>
<line x1="389.5" y1="209.8" x2="388.5" y2="209.8" stroke="#333" stroke-width="0.5"/>
<text x="393.2" y="212" font-size="6.3" fill="#333">0</text>
<line x1="389.5" y1="187.4" x2="388.5" y2="187.4" stroke="#333" stroke-width="0.5"/>
<text x="393.2" y="189.6" font-size="6.3" fill="#333">1</text>
<line x1="389.5" y1="165" x2="388.5" y2="165" stroke="#333" stroke-width="0.5"/>
<text x="393.2" y="167.2" font-size="6.3" fill="#333">2</text>
<text x="409.9" y="199.2" font-size="5.95" text-anchor="middle" fill="#333" transform="rotate(-90 409.9 199.2)">Double OR Index (%)</text>
<line x1="291.95" y1="219.4" x2="291.95" y2="241.35" stroke="#111" stroke-width="1.7"/>
<line x1="291.1" y1="240.5" x2="312.9" y2="240.5" stroke="#111" stroke-width="1.7"/>
<text x="288.85" y="222.5" font-size="7.5" text-anchor="middle" fill="#222" transform="rotate(-90 288.85 222.5)">M</text>
<text x="288.85" y="239.5" font-size="7.5" text-anchor="middle" fill="#222" transform="rotate(-90 288.85 239.5)">L</text>
<text x="294.75" y="237.5" font-size="5.8" fill="#222">1 mm</text>
<text x="293.35" y="250.8" font-size="7.5" text-anchor="middle" fill="#222">A</text>
<text x="312" y="250.8" font-size="7.5" text-anchor="middle" fill="#222">P</text>
<text x="423" y="157" font-size="8.6" fill="#222">J</text>
<text x="436.6" y="157" font-size="8.8" font-weight="bold" fill="#111">Clustered dOM Resp.</text>
<g clip-path="url(#cJ)" shape-rendering="crispEdges"><rect x="445.4" y="162.5" width="73.49" height="1.41" fill="#a9a9a9"/><rect x="445.4" y="163.86" width="38.13" height="1.41" fill="#b4b4b4"/><rect x="483.48" y="163.86" width="15.01" height="1.41" fill="#a2a2a2"/><rect x="498.44" y="163.86" width="1.41" height="1.41" fill="#939393"/><rect x="499.8" y="163.86" width="1.41" height="1.41" fill="#a0a0a0"/><rect x="501.16" y="163.86" width="5.49" height="1.41" fill="#939393"/><rect x="506.6" y="163.86" width="1.41" height="1.41" fill="#a0a0a0"/><rect x="507.96" y="163.86" width="10.93" height="1.41" fill="#939393"/><rect x="445.4" y="165.22" width="1.41" height="1.41" fill="#a4a4a4"/><rect x="446.76" y="165.22" width="1.41" height="1.41" fill="#b4b4b4"/><rect x="448.12" y="165.22" width="1.41" height="1.41" fill="#a4a4a4"/><rect x="449.48" y="165.22" width="4.13" height="1.41" fill="#b4b4b4"/><rect x="453.56" y="165.22" width="1.41" height="1.41" fill="#a4a4a4"/><rect x="454.92" y="165.22" width="29.97" height="1.41" fill="#b4b4b4"/><rect x="484.84" y="165.22" width="13.65" height="1.41" fill="#a2a2a2"/><rect x="498.44" y="165.22" width="1.41" height="1.41" fill="#939393"/><rect x="499.8" y="165.22" width="1.41" height="1.41" fill="#a0a0a0"/><rect x="501.16" y="165.22" width="17.73" height="1.41" fill="#939393"/><rect x="445.4" y="166.58" width="5.49" height="1.41" fill="#b4b4b4"/><rect x="450.84" y="166.58" width="1.41" height="1.41" fill="#a4a4a4"/><rect x="452.2" y="166.58" width="31.33" height="1.41" fill="#b4b4b4"/><rect x="483.48" y="166.58" width="1.41" height="1.41" fill="#a2a2a2"/><rect x="484.84" y="166.58" width="1.41" height="1.41" fill="#939393"/><rect x="486.2" y="166.58" width="2.77" height="1.41" fill="#a2a2a2"/><rect x="488.92" y="166.58" width="1.41" height="1.41" fill="#939393"/><rect x="490.28" y="166.58" width="1.41" height="1.41" fill="#a2a2a2"/><rect x="491.64" y="166.58" width="1.41" height="1.41" fill="#939393"/><rect x="493" y="166.58" width="1.41" height="1.41" fill="#a2a2a2"/><rect x="494.36" y="166.58" width="1.41" height="1.41" fill="#939393"/><rect x="495.72" y="166.58" width="1.41" height="1.41" fill="#a2a2a2"/><rect x="497.08" y="166.58" width="12.29" height="1.41" fill="#939393"/><rect x="509.32" y="166.58" width="1.41" height="1.41" fill="#a0a0a0"/><rect x="510.68" y="166.58" width="8.21" height="1.41" fill="#939393"/><rect x="445.4" y="167.94" width="21.81" height="1.41" fill="#b4b4b4"/><rect x="467.16" y="167.94" width="1.41" height="1.41" fill="#a4a4a4"/><rect x="468.52" y="167.94" width="15.01" height="1.41" fill="#b4b4b4"/><rect x="483.48" y="167.94" width="15.01" height="1.41" fill="#a2a2a2"/><rect x="498.44" y="167.94" width="17.73" height="1.41" fill="#939393"/><rect x="516.12" y="167.94" width="1.41" height="1.41" fill="#a0a0a0"/><rect x="517.48" y="167.94" width="1.41" height="1.41" fill="#939393"/><rect x="445.4" y="169.3" width="9.57" height="1.41" fill="#b4b4b4"/><rect x="454.92" y="169.3" width="4.13" height="1.41" fill="#a4a4a4"/><rect x="459" y="169.3" width="17.73" height="1.41" fill="#b4b4b4"/><rect x="476.68" y="169.3" width="1.41" height="1.41" fill="#a4a4a4"/><rect x="478.04" y="169.3" width="6.85" height="1.41" fill="#b4b4b4"/><rect x="484.84" y="169.3" width="13.65" height="1.41" fill="#a2a2a2"/><rect x="498.44" y="169.3" width="1.41" height="1.41" fill="#a0a0a0"/><rect x="499.8" y="169.3" width="19.09" height="1.41" fill="#939393"/><rect x="445.4" y="170.66" width="2.77" height="1.41" fill="#b4b4b4"/><rect x="448.12" y="170.66" width="1.41" height="1.41" fill="#a4a4a4"/><rect x="449.48" y="170.66" width="10.93" height="1.41" fill="#b4b4b4"/><rect x="460.36" y="170.66" width="1.41" height="1.41" fill="#a4a4a4"/><rect x="461.72" y="170.66" width="21.81" height="1.41" fill="#b4b4b4"/><rect x="483.48" y="170.66" width="1.41" height="1.41" fill="#939393"/><rect x="484.84" y="170.66" width="6.85" height="1.41" fill="#a2a2a2"/><rect x="491.64" y="170.66" width="1.41" height="1.41" fill="#939393"/><rect x="493" y="170.66" width="1.41" height="1.41" fill="#a2a2a2"/><rect x="494.36" y="170.66" width="1.41" height="1.41" fill="#939393"/><rect x="495.72" y="170.66" width="2.77" height="1.41" fill="#a2a2a2"/><rect x="498.44" y="170.66" width="20.45" height="1.41" fill="#939393"/><rect x="445.4" y="172.02" width="29.97" height="1.41" fill="#b4b4b4"/><rect x="475.32" y="172.02" width="1.41" height="1.41" fill="#a4a4a4"/><rect x="476.68" y="172.02" width="8.21" height="1.41" fill="#b4b4b4"/><rect x="484.84" y="172.02" width="1.41" height="1.41" fill="#939393"/><rect x="486.2" y="172.02" width="12.29" height="1.41" fill="#a2a2a2"/><rect x="498.44" y="172.02" width="6.85" height="1.41" fill="#939393"/><rect x="505.24" y="172.02" width="1.41" height="1.41" fill="#a0a0a0"/><rect x="506.6" y="172.02" width="12.29" height="1.41" fill="#939393"/><rect x="445.4" y="173.38" width="36.77" height="1.41" fill="#b4b4b4"/><rect x="482.12" y="173.38" width="1.41" height="1.41" fill="#a4a4a4"/><rect x="483.48" y="173.38" width="9.57" height="1.41" fill="#a2a2a2"/><rect x="493" y="173.38" width="1.41" height="1.41" fill="#939393"/><rect x="494.36" y="173.38" width="4.13" height="1.41" fill="#a2a2a2"/><rect x="498.44" y="173.38" width="6.85" height="1.41" fill="#939393"/><rect x="505.24" y="173.38" width="1.41" height="1.41" fill="#a0a0a0"/><rect x="506.6" y="173.38" width="12.29" height="1.41" fill="#939393"/><rect x="445.4" y="174.74" width="36.77" height="1.41" fill="#b4b4b4"/><rect x="482.12" y="174.74" width="1.41" height="1.41" fill="#a4a4a4"/><rect x="483.48" y="174.74" width="1.41" height="1.41" fill="#b4b4b4"/><rect x="484.84" y="174.74" width="13.65" height="1.41" fill="#a2a2a2"/><rect x="498.44" y="174.74" width="20.45" height="1.41" fill="#939393"/><rect x="445.4" y="176.1" width="38.13" height="1.41" fill="#b4b4b4"/><rect x="483.48" y="176.1" width="6.85" height="1.41" fill="#a2a2a2"/><rect x="490.28" y="176.1" width="1.41" height="1.41" fill="#939393"/><rect x="491.64" y="176.1" width="6.85" height="1.41" fill="#a2a2a2"/><rect x="498.44" y="176.1" width="1.41" height="1.41" fill="#a0a0a0"/><rect x="499.8" y="176.1" width="16.37" height="1.41" fill="#939393"/><rect x="516.12" y="176.1" width="1.41" height="1.41" fill="#a0a0a0"/><rect x="517.48" y="176.1" width="1.41" height="1.41" fill="#939393"/><rect x="445.4" y="177.46" width="10.93" height="1.41" fill="#b4b4b4"/><rect x="456.28" y="177.46" width="1.41" height="1.41" fill="#a4a4a4"/><rect x="457.64" y="177.46" width="6.85" height="1.41" fill="#b4b4b4"/><rect x="464.44" y="177.46" width="1.41" height="1.41" fill="#a4a4a4"/><rect x="465.8" y="177.46" width="4.13" height="1.41" fill="#b4b4b4"/><rect x="469.88" y="177.46" width="1.41" height="1.41" fill="#a4a4a4"/><rect x="471.24" y="177.46" width="4.13" height="1.41" fill="#b4b4b4"/><rect x="475.32" y="177.46" width="1.41" height="1.41" fill="#a4a4a4"/><rect x="476.68" y="177.46" width="5.49" height="1.41" fill="#b4b4b4"/><rect x="482.12" y="177.46" width="1.41" height="1.41" fill="#a4a4a4"/><rect x="483.48" y="177.46" width="1.41" height="1.41" fill="#b4b4b4"/><rect x="484.84" y="177.46" width="13.65" height="1.41" fill="#a2a2a2"/><rect x="498.44" y="177.46" width="20.45" height="1.41" fill="#939393"/><rect x="445.4" y="178.82" width="21.81" height="1.41" fill="#b4b4b4"/><rect x="467.16" y="178.82" width="1.41" height="1.41" fill="#a4a4a4"/><rect x="468.52" y="178.82" width="16.37" height="1.41" fill="#b4b4b4"/><rect x="484.84" y="178.82" width="2.77" height="1.41" fill="#a2a2a2"/><rect x="487.56" y="178.82" width="1.41" height="1.41" fill="#939393"/><rect x="488.92" y="178.82" width="4.13" height="1.41" fill="#a2a2a2"/><rect x="493" y="178.82" width="1.41" height="1.41" fill="#939393"/><rect x="494.36" y="178.82" width="4.13" height="1.41" fill="#a2a2a2"/><rect x="498.44" y="178.82" width="20.45" height="1.41" fill="#939393"/><rect x="445.4" y="180.18" width="10.93" height="1.41" fill="#b4b4b4"/><rect x="456.28" y="180.18" width="1.41" height="1.41" fill="#a4a4a4"/><rect x="457.64" y="180.18" width="25.89" height="1.41" fill="#b4b4b4"/><rect x="483.48" y="180.18" width="15.01" height="1.41" fill="#a2a2a2"/><rect x="498.44" y="180.18" width="8.21" height="1.41" fill="#939393"/><rect x="506.6" y="180.18" width="1.41" height="1.41" fill="#a0a0a0"/><rect x="507.96" y="180.18" width="5.49" height="1.41" fill="#939393"/><rect x="513.4" y="180.18" width="1.41" height="1.41" fill="#a0a0a0"/><rect x="514.76" y="180.18" width="2.77" height="1.41" fill="#939393"/><rect x="517.48" y="180.18" width="1.41" height="1.41" fill="#a0a0a0"/><rect x="445.4" y="181.54" width="2.77" height="1.41" fill="#b4b4b4"/><rect x="448.12" y="181.54" width="1.41" height="1.41" fill="#a4a4a4"/><rect x="449.48" y="181.54" width="6.85" height="1.41" fill="#b4b4b4"/><rect x="456.28" y="181.54" width="1.41" height="1.41" fill="#a4a4a4"/><rect x="457.64" y="181.54" width="21.81" height="1.41" fill="#b4b4b4"/><rect x="479.4" y="181.54" width="1.41" height="1.41" fill="#a4a4a4"/><rect x="480.76" y="181.54" width="4.13" height="1.41" fill="#b4b4b4"/><rect x="484.84" y="181.54" width="16.37" height="1.41" fill="#a2a2a2"/><rect x="501.16" y="181.54" width="1.41" height="1.41" fill="#939393"/><rect x="502.52" y="181.54" width="2.77" height="1.41" fill="#a2a2a2"/><rect x="505.24" y="181.54" width="1.41" height="1.41" fill="#939393"/><rect x="506.6" y="181.54" width="12.29" height="1.41" fill="#a2a2a2"/><rect x="445.4" y="182.9" width="35.41" height="1.41" fill="#b4b4b4"/><rect x="480.76" y="182.9" width="1.41" height="1.41" fill="#a4a4a4"/><rect x="482.12" y="182.9" width="1.41" height="1.41" fill="#b4b4b4"/><rect x="483.48" y="182.9" width="13.65" height="1.41" fill="#a2a2a2"/><rect x="497.08" y="182.9" width="1.41" height="1.41" fill="#0a0af0"/><rect x="498.44" y="182.9" width="12.29" height="1.41" fill="#a2a2a2"/><rect x="510.68" y="182.9" width="1.41" height="1.41" fill="#939393"/><rect x="512.04" y="182.9" width="6.85" height="1.41" fill="#a2a2a2"/><rect x="445.4" y="184.26" width="32.69" height="1.41" fill="#b4b4b4"/><rect x="478.04" y="184.26" width="1.41" height="1.41" fill="#a4a4a4"/><rect x="479.4" y="184.26" width="5.49" height="1.41" fill="#b4b4b4"/><rect x="484.84" y="184.26" width="2.77" height="1.41" fill="#a2a2a2"/><rect x="487.56" y="184.26" width="2.77" height="1.41" fill="#939393"/><rect x="490.28" y="184.26" width="1.41" height="1.41" fill="#a2a2a2"/><rect x="491.64" y="184.26" width="1.41" height="1.41" fill="#0a0af0"/><rect x="493" y="184.26" width="1.41" height="1.41" fill="#a2a2a2"/><rect x="494.36" y="184.26" width="4.13" height="1.41" fill="#0a0af0"/><rect x="498.44" y="184.26" width="4.13" height="1.41" fill="#a2a2a2"/><rect x="502.52" y="184.26" width="2.77" height="1.41" fill="#0a0af0"/><rect x="505.24" y="184.26" width="5.49" height="1.41" fill="#a2a2a2"/><rect x="510.68" y="184.26" width="1.41" height="1.41" fill="#939393"/><rect x="512.04" y="184.26" width="6.85" height="1.41" fill="#a2a2a2"/><rect x="445.4" y="185.62" width="35.41" height="1.41" fill="#b4b4b4"/><rect x="480.76" y="185.62" width="1.41" height="1.41" fill="#a4a4a4"/><rect x="482.12" y="185.62" width="2.77" height="1.41" fill="#b4b4b4"/><rect x="484.84" y="185.62" width="8.21" height="1.41" fill="#a2a2a2"/><rect x="493" y="185.62" width="15.01" height="1.41" fill="#0a0af0"/><rect x="507.96" y="185.62" width="4.13" height="1.41" fill="#a2a2a2"/><rect x="512.04" y="185.62" width="1.41" height="1.41" fill="#939393"/><rect x="513.4" y="185.62" width="5.49" height="1.41" fill="#a2a2a2"/><rect x="445.4" y="186.98" width="8.21" height="1.41" fill="#b4b4b4"/><rect x="453.56" y="186.98" width="1.41" height="1.41" fill="#a4a4a4"/><rect x="454.92" y="186.98" width="2.77" height="1.41" fill="#b4b4b4"/><rect x="457.64" y="186.98" width="1.41" height="1.41" fill="#a4a4a4"/><rect x="459" y="186.98" width="25.89" height="1.41" fill="#b4b4b4"/><rect x="484.84" y="186.98" width="1.41" height="1.41" fill="#a2a2a2"/><rect x="486.2" y="186.98" width="1.41" height="1.41" fill="#939393"/><rect x="487.56" y="186.98" width="2.77" height="1.41" fill="#a2a2a2"/><rect x="490.28" y="186.98" width="19.09" height="1.41" fill="#0a0af0"/><rect x="509.32" y="186.98" width="1.41" height="1.41" fill="#a2a2a2"/><rect x="510.68" y="186.98" width="1.41" height="1.41" fill="#0a0af0"/><rect x="512.04" y="186.98" width="4.13" height="1.41" fill="#a2a2a2"/><rect x="516.12" y="186.98" width="1.41" height="1.41" fill="#939393"/><rect x="517.48" y="186.98" width="1.41" height="1.41" fill="#a2a2a2"/><rect x="445.4" y="188.34" width="4.13" height="1.41" fill="#b4b4b4"/><rect x="449.48" y="188.34" width="1.41" height="1.41" fill="#a4a4a4"/><rect x="450.84" y="188.34" width="6.85" height="1.41" fill="#b4b4b4"/><rect x="457.64" y="188.34" width="1.41" height="1.41" fill="#a4a4a4"/><rect x="459" y="188.34" width="8.21" height="1.41" fill="#b4b4b4"/><rect x="467.16" y="188.34" width="1.41" height="1.41" fill="#a4a4a4"/><rect x="468.52" y="188.34" width="16.37" height="1.41" fill="#b4b4b4"/><rect x="484.84" y="188.34" width="4.13" height="1.41" fill="#a2a2a2"/><rect x="488.92" y="188.34" width="24.53" height="1.41" fill="#0a0af0"/><rect x="513.4" y="188.34" width="5.49" height="1.41" fill="#a2a2a2"/><rect x="445.4" y="189.7" width="16.37" height="1.41" fill="#b4b4b4"/><rect x="461.72" y="189.7" width="1.41" height="1.41" fill="#a4a4a4"/><rect x="463.08" y="189.7" width="20.45" height="1.41" fill="#b4b4b4"/><rect x="483.48" y="189.7" width="2.77" height="1.41" fill="#a2a2a2"/><rect x="486.2" y="189.7" width="1.41" height="1.41" fill="#939393"/><rect x="487.56" y="189.7" width="1.41" height="1.41" fill="#a2a2a2"/><rect x="488.92" y="189.7" width="25.89" height="1.41" fill="#0a0af0"/><rect x="514.76" y="189.7" width="4.13" height="1.41" fill="#a2a2a2"/><rect x="445.4" y="191.06" width="34.05" height="1.41" fill="#b4b4b4"/><rect x="479.4" y="191.06" width="1.41" height="1.41" fill="#a4a4a4"/><rect x="480.76" y="191.06" width="1.41" height="1.41" fill="#b4b4b4"/><rect x="482.12" y="191.06" width="6.85" height="1.41" fill="#a2a2a2"/><rect x="488.92" y="191.06" width="15.01" height="1.41" fill="#0a0af0"/><rect x="503.88" y="191.06" width="1.41" height="1.41" fill="#ff5008"/><rect x="505.24" y="191.06" width="10.93" height="1.41" fill="#0a0af0"/><rect x="516.12" y="191.06" width="2.77" height="1.41" fill="#a2a2a2"/><rect x="445.4" y="192.42" width="12.29" height="1.41" fill="#b4b4b4"/><rect x="457.64" y="192.42" width="2.77" height="1.41" fill="#a4a4a4"/><rect x="460.36" y="192.42" width="20.45" height="1.41" fill="#b4b4b4"/><rect x="480.76" y="192.42" width="8.21" height="1.41" fill="#a2a2a2"/><rect x="488.92" y="192.42" width="8.21" height="1.41" fill="#0a0af0"/><rect x="497.08" y="192.42" width="10.93" height="1.41" fill="#ff5008"/><rect x="507.96" y="192.42" width="8.21" height="1.41" fill="#0a0af0"/><rect x="516.12" y="192.42" width="2.77" height="1.41" fill="#a2a2a2"/><rect x="445.4" y="193.78" width="20.45" height="1.41" fill="#b4b4b4"/><rect x="465.8" y="193.78" width="1.41" height="1.41" fill="#a4a4a4"/><rect x="467.16" y="193.78" width="10.93" height="1.41" fill="#b4b4b4"/><rect x="478.04" y="193.78" width="8.21" height="1.41" fill="#a2a2a2"/><rect x="486.2" y="193.78" width="1.41" height="1.41" fill="#939393"/><rect x="487.56" y="193.78" width="1.41" height="1.41" fill="#a2a2a2"/><rect x="488.92" y="193.78" width="8.21" height="1.41" fill="#0a0af0"/><rect x="497.08" y="193.78" width="10.93" height="1.41" fill="#ff5008"/><rect x="507.96" y="193.78" width="9.57" height="1.41" fill="#0a0af0"/><rect x="517.48" y="193.78" width="1.41" height="1.41" fill="#a2a2a2"/><rect x="445.4" y="195.14" width="32.69" height="1.41" fill="#b4b4b4"/><rect x="478.04" y="195.14" width="10.93" height="1.41" fill="#a2a2a2"/><rect x="488.92" y="195.14" width="6.85" height="1.41" fill="#0a0af0"/><rect x="495.72" y="195.14" width="15.01" height="1.41" fill="#ff5008"/><rect x="510.68" y="195.14" width="6.85" height="1.41" fill="#0a0af0"/><rect x="517.48" y="195.14" width="1.41" height="1.41" fill="#a2a2a2"/><rect x="445.4" y="196.5" width="20.45" height="1.41" fill="#b4b4b4"/><rect x="465.8" y="196.5" width="1.41" height="1.41" fill="#a4a4a4"/><rect x="467.16" y="196.5" width="9.57" height="1.41" fill="#b4b4b4"/><rect x="476.68" y="196.5" width="1.41" height="1.41" fill="#a2a2a2"/><rect x="478.04" y="196.5" width="1.41" height="1.41" fill="#939393"/><rect x="479.4" y="196.5" width="5.49" height="1.41" fill="#a2a2a2"/><rect x="484.84" y="196.5" width="1.41" height="1.41" fill="#939393"/><rect x="486.2" y="196.5" width="2.77" height="1.41" fill="#a2a2a2"/><rect x="488.92" y="196.5" width="6.85" height="1.41" fill="#0a0af0"/><rect x="495.72" y="196.5" width="16.37" height="1.41" fill="#ff5008"/><rect x="512.04" y="196.5" width="5.49" height="1.41" fill="#0a0af0"/><rect x="517.48" y="196.5" width="1.41" height="1.41" fill="#a2a2a2"/><rect x="445.4" y="197.86" width="28.61" height="1.41" fill="#b4b4b4"/><rect x="473.96" y="197.86" width="15.01" height="1.41" fill="#a2a2a2"/><rect x="488.92" y="197.86" width="6.85" height="1.41" fill="#0a0af0"/><rect x="495.72" y="197.86" width="15.01" height="1.41" fill="#ff5008"/><rect x="510.68" y="197.86" width="6.85" height="1.41" fill="#0a0af0"/><rect x="517.48" y="197.86" width="1.41" height="1.41" fill="#a2a2a2"/><rect x="445.4" y="199.22" width="2.77" height="1.41" fill="#b4b4b4"/><rect x="448.12" y="199.22" width="1.41" height="1.41" fill="#a4a4a4"/><rect x="449.48" y="199.22" width="5.49" height="1.41" fill="#b4b4b4"/><rect x="454.92" y="199.22" width="1.41" height="1.41" fill="#a4a4a4"/><rect x="456.28" y="199.22" width="17.73" height="1.41" fill="#b4b4b4"/><rect x="473.96" y="199.22" width="4.13" height="1.41" fill="#a2a2a2"/><rect x="478.04" y="199.22" width="1.41" height="1.41" fill="#939393"/><rect x="479.4" y="199.22" width="10.93" height="1.41" fill="#a2a2a2"/><rect x="490.28" y="199.22" width="4.13" height="1.41" fill="#0a0af0"/><rect x="494.36" y="199.22" width="16.37" height="1.41" fill="#ff5008"/><rect x="510.68" y="199.22" width="8.21" height="1.41" fill="#0a0af0"/><rect x="445.4" y="200.58" width="12.29" height="1.41" fill="#b4b4b4"/><rect x="457.64" y="200.58" width="2.77" height="1.41" fill="#a4a4a4"/><rect x="460.36" y="200.58" width="5.49" height="1.41" fill="#b4b4b4"/><rect x="465.8" y="200.58" width="1.41" height="1.41" fill="#a4a4a4"/><rect x="467.16" y="200.58" width="6.85" height="1.41" fill="#b4b4b4"/><rect x="473.96" y="200.58" width="9.57" height="1.41" fill="#a2a2a2"/><rect x="483.48" y="200.58" width="1.41" height="1.41" fill="#939393"/><rect x="484.84" y="200.58" width="6.85" height="1.41" fill="#a2a2a2"/><rect x="491.64" y="200.58" width="6.85" height="1.41" fill="#0a0af0"/><rect x="498.44" y="200.58" width="10.93" height="1.41" fill="#ff5008"/><rect x="509.32" y="200.58" width="8.21" height="1.41" fill="#0a0af0"/><rect x="517.48" y="200.58" width="1.41" height="1.41" fill="#a2a2a2"/><rect x="445.4" y="201.94" width="4.13" height="1.41" fill="#b4b4b4"/><rect x="449.48" y="201.94" width="1.41" height="1.41" fill="#a4a4a4"/><rect x="450.84" y="201.94" width="2.77" height="1.41" fill="#b4b4b4"/><rect x="453.56" y="201.94" width="1.41" height="1.41" fill="#a4a4a4"/><rect x="454.92" y="201.94" width="20.45" height="1.41" fill="#b4b4b4"/><rect x="475.32" y="201.94" width="12.29" height="1.41" fill="#a2a2a2"/><rect x="487.56" y="201.94" width="12.29" height="1.41" fill="#0a0af0"/><rect x="499.8" y="201.94" width="9.57" height="1.41" fill="#ff5008"/><rect x="509.32" y="201.94" width="9.57" height="1.41" fill="#0a0af0"/><rect x="445.4" y="203.3" width="6.85" height="1.41" fill="#b4b4b4"/><rect x="452.2" y="203.3" width="1.41" height="1.41" fill="#a4a4a4"/><rect x="453.56" y="203.3" width="20.45" height="1.41" fill="#b4b4b4"/><rect x="473.96" y="203.3" width="5.49" height="1.41" fill="#a2a2a2"/><rect x="479.4" y="203.3" width="1.41" height="1.41" fill="#939393"/><rect x="480.76" y="203.3" width="17.73" height="1.41" fill="#0a0af0"/><rect x="498.44" y="203.3" width="10.93" height="1.41" fill="#ff5008"/><rect x="509.32" y="203.3" width="9.57" height="1.41" fill="#0a0af0"/><rect x="445.4" y="204.66" width="10.93" height="1.41" fill="#b4b4b4"/><rect x="456.28" y="204.66" width="1.41" height="1.41" fill="#a4a4a4"/><rect x="457.64" y="204.66" width="1.41" height="1.41" fill="#b4b4b4"/><rect x="459" y="204.66" width="1.41" height="1.41" fill="#a4a4a4"/><rect x="460.36" y="204.66" width="12.29" height="1.41" fill="#b4b4b4"/><rect x="472.6" y="204.66" width="6.85" height="1.41" fill="#a2a2a2"/><rect x="479.4" y="204.66" width="1.41" height="1.41" fill="#939393"/><rect x="480.76" y="204.66" width="16.37" height="1.41" fill="#0a0af0"/><rect x="497.08" y="204.66" width="1.41" height="1.41" fill="#ff5008"/><rect x="498.44" y="204.66" width="1.41" height="1.41" fill="#0a0af0"/><rect x="499.8" y="204.66" width="9.57" height="1.41" fill="#ff5008"/><rect x="509.32" y="204.66" width="9.57" height="1.41" fill="#0a0af0"/><rect x="445.4" y="206.02" width="17.73" height="1.41" fill="#b4b4b4"/><rect x="463.08" y="206.02" width="1.41" height="1.41" fill="#a4a4a4"/><rect x="464.44" y="206.02" width="9.57" height="1.41" fill="#b4b4b4"/><rect x="473.96" y="206.02" width="4.13" height="1.41" fill="#a2a2a2"/><rect x="478.04" y="206.02" width="19.09" height="1.41" fill="#0a0af0"/><rect x="497.08" y="206.02" width="10.93" height="1.41" fill="#ff5008"/><rect x="507.96" y="206.02" width="9.57" height="1.41" fill="#0a0af0"/><rect x="517.48" y="206.02" width="1.41" height="1.41" fill="#a2a2a2"/><rect x="445.4" y="207.38" width="28.61" height="1.41" fill="#b4b4b4"/><rect x="473.96" y="207.38" width="1.41" height="1.41" fill="#939393"/><rect x="475.32" y="207.38" width="5.49" height="1.41" fill="#a2a2a2"/><rect x="480.76" y="207.38" width="16.37" height="1.41" fill="#0a0af0"/><rect x="497.08" y="207.38" width="10.93" height="1.41" fill="#ff5008"/><rect x="507.96" y="207.38" width="8.21" height="1.41" fill="#0a0af0"/><rect x="516.12" y="207.38" width="2.77" height="1.41" fill="#a2a2a2"/><rect x="445.4" y="208.74" width="15.01" height="1.41" fill="#b4b4b4"/><rect x="460.36" y="208.74" width="1.41" height="1.41" fill="#a4a4a4"/><rect x="461.72" y="208.74" width="9.57" height="1.41" fill="#b4b4b4"/><rect x="471.24" y="208.74" width="1.41" height="1.41" fill="#a4a4a4"/><rect x="472.6" y="208.74" width="8.21" height="1.41" fill="#a2a2a2"/><rect x="480.76" y="208.74" width="16.37" height="1.41" fill="#0a0af0"/><rect x="497.08" y="208.74" width="9.57" height="1.41" fill="#ff5008"/><rect x="506.6" y="208.74" width="9.57" height="1.41" fill="#0a0af0"/><rect x="516.12" y="208.74" width="2.77" height="1.41" fill="#a2a2a2"/><rect x="445.4" y="210.1" width="1.41" height="1.41" fill="#b4b4b4"/><rect x="446.76" y="210.1" width="1.41" height="1.41" fill="#a4a4a4"/><rect x="448.12" y="210.1" width="23.17" height="1.41" fill="#b4b4b4"/><rect x="471.24" y="210.1" width="1.41" height="1.41" fill="#a4a4a4"/><rect x="472.6" y="210.1" width="1.41" height="1.41" fill="#b4b4b4"/><rect x="473.96" y="210.1" width="4.13" height="1.41" fill="#a2a2a2"/><rect x="478.04" y="210.1" width="19.09" height="1.41" fill="#0a0af0"/><rect x="497.08" y="210.1" width="8.21" height="1.41" fill="#ff5008"/><rect x="505.24" y="210.1" width="9.57" height="1.41" fill="#0a0af0"/><rect x="514.76" y="210.1" width="4.13" height="1.41" fill="#a2a2a2"/><rect x="445.4" y="211.46" width="25.89" height="1.41" fill="#b4b4b4"/><rect x="471.24" y="211.46" width="1.41" height="1.41" fill="#a4a4a4"/><rect x="472.6" y="211.46" width="1.41" height="1.41" fill="#b4b4b4"/><rect x="473.96" y="211.46" width="4.13" height="1.41" fill="#a2a2a2"/><rect x="478.04" y="211.46" width="1.41" height="1.41" fill="#939393"/><rect x="479.4" y="211.46" width="1.41" height="1.41" fill="#a2a2a2"/><rect x="480.76" y="211.46" width="16.37" height="1.41" fill="#0a0af0"/><rect x="497.08" y="211.46" width="8.21" height="1.41" fill="#ff5008"/><rect x="505.24" y="211.46" width="9.57" height="1.41" fill="#0a0af0"/><rect x="514.76" y="211.46" width="4.13" height="1.41" fill="#a2a2a2"/><rect x="445.4" y="212.82" width="9.57" height="1.41" fill="#b4b4b4"/><rect x="454.92" y="212.82" width="1.41" height="1.41" fill="#a4a4a4"/><rect x="456.28" y="212.82" width="1.41" height="1.41" fill="#b4b4b4"/><rect x="457.64" y="212.82" width="1.41" height="1.41" fill="#a4a4a4"/><rect x="459" y="212.82" width="15.01" height="1.41" fill="#b4b4b4"/><rect x="473.96" y="212.82" width="8.21" height="1.41" fill="#a2a2a2"/><rect x="482.12" y="212.82" width="16.37" height="1.41" fill="#0a0af0"/><rect x="498.44" y="212.82" width="8.21" height="1.41" fill="#ff5008"/><rect x="506.6" y="212.82" width="8.21" height="1.41" fill="#0a0af0"/><rect x="514.76" y="212.82" width="4.13" height="1.41" fill="#a2a2a2"/><rect x="445.4" y="214.18" width="5.49" height="1.41" fill="#b4b4b4"/><rect x="450.84" y="214.18" width="1.41" height="1.41" fill="#a4a4a4"/><rect x="452.2" y="214.18" width="21.81" height="1.41" fill="#b4b4b4"/><rect x="473.96" y="214.18" width="6.85" height="1.41" fill="#a2a2a2"/><rect x="480.76" y="214.18" width="1.41" height="1.41" fill="#0a0af0"/><rect x="482.12" y="214.18" width="1.41" height="1.41" fill="#a2a2a2"/><rect x="483.48" y="214.18" width="15.01" height="1.41" fill="#0a0af0"/><rect x="498.44" y="214.18" width="6.85" height="1.41" fill="#ff5008"/><rect x="505.24" y="214.18" width="6.85" height="1.41" fill="#0a0af0"/><rect x="512.04" y="214.18" width="6.85" height="1.41" fill="#a2a2a2"/><rect x="445.4" y="215.54" width="25.89" height="1.41" fill="#b4b4b4"/><rect x="471.24" y="215.54" width="2.77" height="1.41" fill="#a4a4a4"/><rect x="473.96" y="215.54" width="15.01" height="1.41" fill="#a2a2a2"/><rect x="488.92" y="215.54" width="9.57" height="1.41" fill="#0a0af0"/><rect x="498.44" y="215.54" width="6.85" height="1.41" fill="#ff5008"/><rect x="505.24" y="215.54" width="5.49" height="1.41" fill="#0a0af0"/><rect x="510.68" y="215.54" width="8.21" height="1.41" fill="#a2a2a2"/><rect x="445.4" y="216.9" width="5.49" height="1.41" fill="#b4b4b4"/><rect x="450.84" y="216.9" width="1.41" height="1.41" fill="#a4a4a4"/><rect x="452.2" y="216.9" width="5.49" height="1.41" fill="#b4b4b4"/><rect x="457.64" y="216.9" width="1.41" height="1.41" fill="#a4a4a4"/><rect x="459" y="216.9" width="12.29" height="1.41" fill="#b4b4b4"/><rect x="471.24" y="216.9" width="1.41" height="1.41" fill="#a4a4a4"/><rect x="472.6" y="216.9" width="1.41" height="1.41" fill="#b4b4b4"/><rect x="473.96" y="216.9" width="2.77" height="1.41" fill="#a2a2a2"/><rect x="476.68" y="216.9" width="1.41" height="1.41" fill="#939393"/><rect x="478.04" y="216.9" width="12.29" height="1.41" fill="#a2a2a2"/><rect x="490.28" y="216.9" width="8.21" height="1.41" fill="#0a0af0"/><rect x="498.44" y="216.9" width="8.21" height="1.41" fill="#ff5008"/><rect x="506.6" y="216.9" width="4.13" height="1.41" fill="#0a0af0"/><rect x="510.68" y="216.9" width="8.21" height="1.41" fill="#a2a2a2"/><rect x="445.4" y="218.26" width="9.57" height="1.41" fill="#b4b4b4"/><rect x="454.92" y="218.26" width="1.41" height="1.41" fill="#a4a4a4"/><rect x="456.28" y="218.26" width="4.13" height="1.41" fill="#b4b4b4"/><rect x="460.36" y="218.26" width="1.41" height="1.41" fill="#a4a4a4"/><rect x="461.72" y="218.26" width="10.93" height="1.41" fill="#b4b4b4"/><rect x="472.6" y="218.26" width="1.41" height="1.41" fill="#a4a4a4"/><rect x="473.96" y="218.26" width="1.41" height="1.41" fill="#a2a2a2"/><rect x="475.32" y="218.26" width="19.09" height="1.41" fill="#939393"/><rect x="494.36" y="218.26" width="4.13" height="1.41" fill="#0a0af0"/><rect x="498.44" y="218.26" width="5.49" height="1.41" fill="#ff5008"/><rect x="503.88" y="218.26" width="6.85" height="1.41" fill="#0a0af0"/><rect x="510.68" y="218.26" width="8.21" height="1.41" fill="#939393"/><rect x="445.4" y="219.62" width="28.61" height="1.41" fill="#b4b4b4"/><rect x="473.96" y="219.62" width="1.41" height="1.41" fill="#a2a2a2"/><rect x="475.32" y="219.62" width="1.41" height="1.41" fill="#939393"/><rect x="476.68" y="219.62" width="1.41" height="1.41" fill="#a0a0a0"/><rect x="478.04" y="219.62" width="17.73" height="1.41" fill="#939393"/><rect x="495.72" y="219.62" width="6.85" height="1.41" fill="#0a0af0"/><rect x="502.52" y="219.62" width="1.41" height="1.41" fill="#ff5008"/><rect x="503.88" y="219.62" width="4.13" height="1.41" fill="#0a0af0"/><rect x="507.96" y="219.62" width="9.57" height="1.41" fill="#939393"/><rect x="517.48" y="219.62" width="1.41" height="1.41" fill="#a0a0a0"/><rect x="445.4" y="220.98" width="8.21" height="1.41" fill="#b4b4b4"/><rect x="453.56" y="220.98" width="1.41" height="1.41" fill="#a4a4a4"/><rect x="454.92" y="220.98" width="19.09" height="1.41" fill="#b4b4b4"/><rect x="473.96" y="220.98" width="1.41" height="1.41" fill="#a2a2a2"/><rect x="475.32" y="220.98" width="1.41" height="1.41" fill="#a0a0a0"/><rect x="476.68" y="220.98" width="23.17" height="1.41" fill="#939393"/><rect x="499.8" y="220.98" width="4.13" height="1.41" fill="#0a0af0"/><rect x="503.88" y="220.98" width="1.41" height="1.41" fill="#a0a0a0"/><rect x="505.24" y="220.98" width="1.41" height="1.41" fill="#939393"/><rect x="506.6" y="220.98" width="1.41" height="1.41" fill="#0a0af0"/><rect x="507.96" y="220.98" width="1.41" height="1.41" fill="#939393"/><rect x="509.32" y="220.98" width="1.41" height="1.41" fill="#a0a0a0"/><rect x="510.68" y="220.98" width="8.21" height="1.41" fill="#939393"/><rect x="445.4" y="222.34" width="28.61" height="1.41" fill="#b4b4b4"/><rect x="473.96" y="222.34" width="9.57" height="1.41" fill="#939393"/><rect x="483.48" y="222.34" width="1.41" height="1.41" fill="#a0a0a0"/><rect x="484.84" y="222.34" width="13.65" height="1.41" fill="#939393"/><rect x="498.44" y="222.34" width="1.41" height="1.41" fill="#a0a0a0"/><rect x="499.8" y="222.34" width="2.77" height="1.41" fill="#939393"/><rect x="502.52" y="222.34" width="2.77" height="1.41" fill="#0a0af0"/><rect x="505.24" y="222.34" width="4.13" height="1.41" fill="#939393"/><rect x="509.32" y="222.34" width="1.41" height="1.41" fill="#a0a0a0"/><rect x="510.68" y="222.34" width="8.21" height="1.41" fill="#939393"/><rect x="445.4" y="223.7" width="29.97" height="1.41" fill="#b4b4b4"/><rect x="475.32" y="223.7" width="17.73" height="1.41" fill="#939393"/><rect x="493" y="223.7" width="1.41" height="1.41" fill="#a0a0a0"/><rect x="494.36" y="223.7" width="6.85" height="1.41" fill="#939393"/><rect x="501.16" y="223.7" width="1.41" height="1.41" fill="#a0a0a0"/><rect x="502.52" y="223.7" width="16.37" height="1.41" fill="#939393"/><rect x="445.4" y="225.06" width="20.45" height="1.41" fill="#b4b4b4"/><rect x="465.8" y="225.06" width="1.41" height="1.41" fill="#a4a4a4"/><rect x="467.16" y="225.06" width="6.85" height="1.41" fill="#b4b4b4"/><rect x="473.96" y="225.06" width="1.41" height="1.41" fill="#a2a2a2"/><rect x="475.32" y="225.06" width="16.37" height="1.41" fill="#939393"/><rect x="491.64" y="225.06" width="1.41" height="1.41" fill="#a0a0a0"/><rect x="493" y="225.06" width="8.21" height="1.41" fill="#939393"/><rect x="501.16" y="225.06" width="1.41" height="1.41" fill="#a0a0a0"/><rect x="502.52" y="225.06" width="9.57" height="1.41" fill="#939393"/><rect x="512.04" y="225.06" width="1.41" height="1.41" fill="#a0a0a0"/><rect x="513.4" y="225.06" width="5.49" height="1.41" fill="#939393"/><rect x="445.4" y="226.42" width="17.73" height="1.41" fill="#b4b4b4"/><rect x="463.08" y="226.42" width="1.41" height="1.41" fill="#a4a4a4"/><rect x="464.44" y="226.42" width="1.41" height="1.41" fill="#b4b4b4"/><rect x="465.8" y="226.42" width="1.41" height="1.41" fill="#a4a4a4"/><rect x="467.16" y="226.42" width="6.85" height="1.41" fill="#b4b4b4"/><rect x="473.96" y="226.42" width="1.41" height="1.41" fill="#a2a2a2"/><rect x="475.32" y="226.42" width="2.77" height="1.41" fill="#939393"/><rect x="478.04" y="226.42" width="1.41" height="1.41" fill="#a0a0a0"/><rect x="479.4" y="226.42" width="12.29" height="1.41" fill="#939393"/><rect x="491.64" y="226.42" width="1.41" height="1.41" fill="#a0a0a0"/><rect x="493" y="226.42" width="19.09" height="1.41" fill="#939393"/><rect x="512.04" y="226.42" width="1.41" height="1.41" fill="#a0a0a0"/><rect x="513.4" y="226.42" width="5.49" height="1.41" fill="#939393"/><rect x="445.4" y="227.78" width="29.97" height="1.41" fill="#b4b4b4"/><rect x="475.32" y="227.78" width="17.73" height="1.41" fill="#939393"/><rect x="493" y="227.78" width="1.41" height="1.41" fill="#a0a0a0"/><rect x="494.36" y="227.78" width="2.77" height="1.41" fill="#939393"/><rect x="497.08" y="227.78" width="1.41" height="1.41" fill="#a0a0a0"/><rect x="498.44" y="227.78" width="10.93" height="1.41" fill="#939393"/><rect x="509.32" y="227.78" width="1.41" height="1.41" fill="#a0a0a0"/><rect x="510.68" y="227.78" width="8.21" height="1.41" fill="#939393"/><rect x="445.4" y="229.14" width="5.49" height="1.41" fill="#b4b4b4"/><rect x="450.84" y="229.14" width="1.41" height="1.41" fill="#a4a4a4"/><rect x="452.2" y="229.14" width="21.81" height="1.41" fill="#b4b4b4"/><rect x="473.96" y="229.14" width="1.41" height="1.41" fill="#a4a4a4"/><rect x="475.32" y="229.14" width="43.57" height="1.41" fill="#939393"/><rect x="445.4" y="230.5" width="29.97" height="1.41" fill="#b4b4b4"/><rect x="475.32" y="230.5" width="2.77" height="1.41" fill="#939393"/><rect x="478.04" y="230.5" width="1.41" height="1.41" fill="#a0a0a0"/><rect x="479.4" y="230.5" width="36.77" height="1.41" fill="#939393"/><rect x="516.12" y="230.5" width="2.77" height="1.41" fill="#a0a0a0"/><rect x="445.4" y="231.86" width="2.77" height="1.41" fill="#b4b4b4"/><rect x="448.12" y="231.86" width="1.41" height="1.41" fill="#a4a4a4"/><rect x="449.48" y="231.86" width="10.93" height="1.41" fill="#b4b4b4"/><rect x="460.36" y="231.86" width="1.41" height="1.41" fill="#a4a4a4"/><rect x="461.72" y="231.86" width="9.57" height="1.41" fill="#b4b4b4"/><rect x="471.24" y="231.86" width="1.41" height="1.41" fill="#a4a4a4"/><rect x="472.6" y="231.86" width="2.77" height="1.41" fill="#b4b4b4"/><rect x="475.32" y="231.86" width="12.29" height="1.41" fill="#939393"/><rect x="487.56" y="231.86" width="1.41" height="1.41" fill="#a0a0a0"/><rect x="488.92" y="231.86" width="4.13" height="1.41" fill="#939393"/><rect x="493" y="231.86" width="1.41" height="1.41" fill="#a0a0a0"/><rect x="494.36" y="231.86" width="24.53" height="1.41" fill="#939393"/><rect x="445.4" y="233.22" width="6.85" height="1.41" fill="#b4b4b4"/><rect x="452.2" y="233.22" width="1.41" height="1.41" fill="#a4a4a4"/><rect x="453.56" y="233.22" width="13.65" height="1.41" fill="#b4b4b4"/><rect x="467.16" y="233.22" width="2.77" height="1.41" fill="#a4a4a4"/><rect x="469.88" y="233.22" width="5.49" height="1.41" fill="#b4b4b4"/><rect x="475.32" y="233.22" width="9.57" height="1.41" fill="#939393"/><rect x="484.84" y="233.22" width="1.41" height="1.41" fill="#a0a0a0"/><rect x="486.2" y="233.22" width="4.13" height="1.41" fill="#939393"/><rect x="490.28" y="233.22" width="1.41" height="1.41" fill="#a0a0a0"/><rect x="491.64" y="233.22" width="4.13" height="1.41" fill="#939393"/><rect x="495.72" y="233.22" width="1.41" height="1.41" fill="#a0a0a0"/><rect x="497.08" y="233.22" width="21.81" height="1.41" fill="#939393"/><rect x="445.4" y="234.58" width="9.57" height="1.41" fill="#b4b4b4"/><rect x="454.92" y="234.58" width="1.41" height="1.41" fill="#a4a4a4"/><rect x="456.28" y="234.58" width="1.41" height="1.41" fill="#b4b4b4"/><rect x="457.64" y="234.58" width="1.41" height="1.41" fill="#a4a4a4"/><rect x="459" y="234.58" width="16.37" height="1.41" fill="#b4b4b4"/><rect x="475.32" y="234.58" width="39.49" height="1.41" fill="#939393"/><rect x="514.76" y="234.58" width="1.41" height="1.41" fill="#a0a0a0"/><rect x="516.12" y="234.58" width="2.77" height="1.41" fill="#939393"/></g>
<g clip-path="url(#cJ)" stroke="#a4a4a4" stroke-width="0.8" fill="none"><path d="M455 222 L460 200 L465 186"/><path d="M466 198 L470 194"/></g>
<path d="M491.88 191.41 L494.26 188.84 L497.39 190.49 L501.07 196.01 L502.72 200.97 L500.15 203.54 L496.84 202.07 L493.16 198.4 L490.96 195.09 L491.88 191.41" fill="#ff5008" stroke="#ffffff" stroke-width="1.7" stroke-linejoin="round"/>
<rect x="525.3" y="165" width="6.2" height="5.3" fill="#6e6e6e"/>
<rect x="525.3" y="170.25" width="6.2" height="5.3" fill="#787878"/>
<rect x="525.3" y="175.5" width="6.2" height="5.3" fill="#828282"/>
<rect x="525.3" y="180.75" width="6.2" height="5.3" fill="#8c8c8c"/>
<rect x="525.3" y="186" width="6.2" height="5.3" fill="#969696"/>
<rect x="525.3" y="191.25" width="6.2" height="5.3" fill="#a0a0a0"/>
<rect x="525.3" y="196.5" width="6.2" height="5.3" fill="#aaaaaa"/>
<rect x="525.3" y="201.75" width="6.2" height="5.3" fill="#b4b4b4"/>
<rect x="525.3" y="207" width="6.2" height="5.3" fill="#bebebe"/>
<rect x="525.3" y="212.25" width="6.2" height="5.3" fill="#c8c8c8"/>
<rect x="525.3" y="217.5" width="6.2" height="7.3" fill="#ff5008"/>
<rect x="525.3" y="224.8" width="6.2" height="7.7" fill="#0a0af0"/>
<rect x="525.3" y="165" width="6.2" height="67.5" fill="none" stroke="#222" stroke-width="0.6"/>
<text x="541.9" y="199.3" font-size="6.15" text-anchor="middle" fill="#333" transform="rotate(-90 541.9 199.3)">Cluster #</text>
<line x1="435.1" y1="219.4" x2="435.1" y2="241.35" stroke="#111" stroke-width="1.7"/>
<line x1="434.25" y1="240.5" x2="456.5" y2="240.5" stroke="#111" stroke-width="1.7"/>
<text x="432" y="222.5" font-size="7.5" text-anchor="middle" fill="#222" transform="rotate(-90 432 222.5)">M</text>
<text x="432" y="239.5" font-size="7.5" text-anchor="middle" fill="#222" transform="rotate(-90 432 239.5)">L</text>
<text x="437.9" y="237.5" font-size="5.8" fill="#222">1 mm</text>
<text x="436.5" y="250.8" font-size="7.5" text-anchor="middle" fill="#222">A</text>
<text x="455.6" y="250.8" font-size="7.5" text-anchor="middle" fill="#222">P</text>
<text x="554.8" y="157.1" font-size="8.6" fill="#222">K</text>
<text x="590" y="157.1" font-size="8.8" font-weight="bold" fill="#111">Across Animals</text>
<line x1="578.5" y1="171.6" x2="680" y2="171.6" stroke="#c8c8c8" stroke-width="0.6"/>
<line x1="611.9" y1="190.29" x2="645.6" y2="171.6" stroke="#9a9a9a" stroke-width="0.6"/>
<line x1="611.9" y1="198.3" x2="645.6" y2="171.6" stroke="#9a9a9a" stroke-width="0.6"/>
<line x1="611.9" y1="201.86" x2="645.6" y2="171.6" stroke="#9a9a9a" stroke-width="0.6"/>
<line x1="611.9" y1="208.09" x2="645.6" y2="171.6" stroke="#9a9a9a" stroke-width="0.6"/>
<line x1="611.9" y1="217.88" x2="645.6" y2="171.6" stroke="#9a9a9a" stroke-width="0.6"/>
<circle cx="611.9" cy="190.29" r="2.6" fill="#de5a2a"/>
<circle cx="611.9" cy="198.3" r="2.6" fill="#de5a2a"/>
<circle cx="611.9" cy="201.86" r="2.6" fill="#de5a2a"/>
<circle cx="611.9" cy="208.09" r="2.6" fill="#de5a2a"/>
<circle cx="611.9" cy="217.88" r="2.6" fill="#de5a2a"/>
<circle cx="645.6" cy="171.6" r="2.6" fill="#de5a2a"/>
<line x1="578.5" y1="162.5" x2="578.5" y2="234.2" stroke="#333333" stroke-width="0.8"/>
<line x1="578.1" y1="233.8" x2="680" y2="233.8" stroke="#333333" stroke-width="0.8"/>
<line x1="578.5" y1="225" x2="580.1" y2="225" stroke="#333333" stroke-width="0.7"/>
<text x="576.3" y="227.65" font-size="7.35" text-anchor="end" fill="#333333">40</text>
<line x1="578.5" y1="207.2" x2="580.1" y2="207.2" stroke="#333333" stroke-width="0.7"/>
<text x="576.3" y="209.85" font-size="7.35" text-anchor="end" fill="#333333">60</text>
<line x1="578.5" y1="189.4" x2="580.1" y2="189.4" stroke="#333333" stroke-width="0.7"/>
<text x="576.3" y="192.05" font-size="7.35" text-anchor="end" fill="#333333">80</text>
<line x1="578.5" y1="171.6" x2="580.1" y2="171.6" stroke="#333333" stroke-width="0.7"/>
<text x="576.3" y="174.25" font-size="7.35" text-anchor="end" fill="#333333">100</text>
<line x1="611.9" y1="233.8" x2="611.9" y2="232.4" stroke="#333333" stroke-width="0.7"/>
<line x1="645.6" y1="233.8" x2="645.6" y2="232.4" stroke="#333333" stroke-width="0.7"/>
<text x="611.9" y="243.8" font-size="7" text-anchor="middle" fill="#222">1st Omi.</text>
<text x="645.4" y="243.8" font-size="7" text-anchor="middle" fill="#222">2nd Omi.</text>
<text x="680" y="231.2" font-size="5.8" text-anchor="end" fill="#333">n=5</text>
<text x="561.3" y="197" font-size="8.1" text-anchor="middle" fill="#222" transform="rotate(-90 561.3 197)">OR (Norm. %)</text>
<text x="1.8" y="291.2" font-size="8.6" fill="#222">L</text>
<text x="21.5" y="291.2" font-size="8.8" font-weight="bold" fill="#111">Multiple SOA control</text>
<rect x="14.1" y="315" width="5.3" height="2.4" fill="#7a1414"/>
<rect x="21.03" y="315" width="5.3" height="2.4" fill="#7a1414"/>
<rect x="27.96" y="315" width="5.3" height="2.4" fill="#7a1414"/>
<rect x="34.89" y="315" width="5.3" height="2.4" fill="#7a1414"/>
<rect x="41.82" y="315" width="5.3" height="2.4" fill="#7a1414"/>
<rect x="48.75" y="315" width="5.3" height="2.4" fill="#7a1414"/>
<rect x="55.68" y="315" width="5.3" height="2.4" fill="#7a1414"/>
<rect x="62.91" y="315.3" width="4.9" height="1.8" fill="none" stroke="#d4d4d4" stroke-width="0.6"/>
<rect x="69.54" y="315" width="5.3" height="2.4" fill="#7a1414"/>
<rect x="76.47" y="315" width="5.3" height="2.4" fill="#7a1414"/>
<rect x="83.4" y="315" width="5.3" height="2.4" fill="#7a1414"/>
<rect x="90.33" y="315" width="5.3" height="2.4" fill="#7a1414"/>
<rect x="97.26" y="315" width="5.3" height="2.4" fill="#7a1414"/>
<rect x="104.19" y="315" width="5.3" height="2.4" fill="#7a1414"/>
<rect x="111.12" y="315" width="5.3" height="2.4" fill="#7a1414"/>
<text x="40.6" y="309.4" font-size="7.45" fill="#222">100 ms</text>
<line x1="48.5" y1="313.4" x2="55.6" y2="313.4" stroke="#555" stroke-width="0.7"/>
<line x1="48.5" y1="311.2" x2="48.5" y2="315.2" stroke="#555" stroke-width="0.7"/>
<line x1="55.6" y1="311.2" x2="55.6" y2="315.2" stroke="#555" stroke-width="0.7"/>
<rect x="14.1" y="333.2" width="5" height="2.3" fill="#e03020"/>
<rect x="27.95" y="333.2" width="5" height="2.3" fill="#e03020"/>
<rect x="41.8" y="333.2" width="5" height="2.3" fill="#e03020"/>
<rect x="55.65" y="333.2" width="5" height="2.3" fill="#e03020"/>
<rect x="69.8" y="333.5" width="4.7" height="1.7" fill="none" stroke="#d4d4d4" stroke-width="0.6"/>
<rect x="83.35" y="333.2" width="5" height="2.3" fill="#e03020"/>
<rect x="97.2" y="333.2" width="5" height="2.3" fill="#e03020"/>
<text x="36.2" y="327.4" font-size="7.45" fill="#222">200 ms</text>
<line x1="41.6" y1="330.8" x2="55.6" y2="330.8" stroke="#555" stroke-width="0.7"/>
<line x1="41.6" y1="329.4" x2="41.6" y2="333" stroke="#555" stroke-width="0.7"/>
<line x1="55.6" y1="329.4" x2="55.6" y2="333" stroke="#555" stroke-width="0.7"/>
<rect x="13.8" y="351" width="5.1" height="2.3" fill="#e86a28"/>
<rect x="34.6" y="351" width="5.1" height="2.3" fill="#e86a28"/>
<rect x="55.4" y="351" width="5.1" height="2.3" fill="#e86a28"/>
<rect x="76.5" y="351.3" width="4.7" height="1.7" fill="none" stroke="#d4d4d4" stroke-width="0.6"/>
<rect x="97" y="351" width="5.1" height="2.3" fill="#e86a28"/>
<text x="32.5" y="345" font-size="7.45" fill="#222">300 ms</text>
<line x1="34.6" y1="348.2" x2="55.5" y2="348.2" stroke="#555" stroke-width="0.7"/>
<line x1="34.6" y1="346.8" x2="34.6" y2="351" stroke="#555" stroke-width="0.7"/>
<line x1="55.5" y1="346.8" x2="55.5" y2="351" stroke="#555" stroke-width="0.7"/>
<rect x="27.7" y="369" width="5.2" height="2.3" fill="#f0a030"/>
<rect x="55.4" y="369" width="5.2" height="2.3" fill="#f0a030"/>
<rect x="83.4" y="369.3" width="4.7" height="1.7" fill="none" stroke="#d4d4d4" stroke-width="0.6"/>
<rect x="110.8" y="369" width="5.2" height="2.3" fill="#f0a030"/>
<text x="29" y="363.3" font-size="7.45" fill="#222">400 ms</text>
<line x1="27.6" y1="366.1" x2="55.5" y2="366.1" stroke="#555" stroke-width="0.7"/>
<line x1="27.6" y1="364.7" x2="27.6" y2="369" stroke="#555" stroke-width="0.7"/>
<line x1="55.5" y1="364.7" x2="55.5" y2="369" stroke="#555" stroke-width="0.7"/>
<text x="134.1" y="291" font-size="8.6" fill="#222">M</text>
<text x="177.8" y="291" font-size="8.8" font-weight="bold" fill="#111">Single Animal</text>
<path d="M156.61 376.74 L157.72 373.86 L158.82 371.05 L159.92 369.31 L161.02 365.36 L162.13 362.96 L163.23 360.57 L164.33 357.25 L165.43 354.77 L166.53 353.34 L167.64 352.17 L168.74 351.32 L169.84 351.01 L170.94 350.26 L172.05 349.4 L172.96 347.72 L173.88 347.3 L174.8 346.21 L175.72 346.65 L176.64 346.11 L177.56 344.88 L178.48 343.93 L179.39 344.19 L180.31 343.91 L181.23 342.47 L182.15 342.02 L183.07 341.64 L183.99 341.09 L184.91 340.49 L185.82 340.65 L186.74 340.05 L187.66 339.98 L188.58 340.22 L189.5 340.15 L190.42 339.23 L191.34 340.11 L192.25 339.9 L193.17 339.53 L194.09 339.2 L195.01 339.13 L195.93 338.72 L196.85 338.68 L197.77 339.08 L198.68 338.02 L199.6 338.27 L200.52 337.44 L201.44 338.49 L202.36 338.55 L203.28 337.63 L204.2 337.13 L205.11 336.76 L206.03 336.83 L206.95 336.23 L207.87 336.29 L208.79 336.28 L209.71 337.38 L210.63 336.59 L211.54 336.34 L212.46 336.96 L213.38 335.86 L214.3 336.82 L215.22 336.25 L216.14 336.08 L217.08 335.76 L218.03 335.28 L218.97 336.53 L219.92 336.04 L220.86 336.29 L221.81 335.68 L222.75 336.39 L223.85 336.04 L224.96 336.17 L226.06 336.98 L227.16 337.01 L228.26 336.68 L229.37 337.27 L230.47 337.83 L231.57 338.62 L232.67 340.36 L233.77 340.47 L234.66 340.19 L235.54 338.14 L236.42 338.07 L237.3 337.08 L238.18 336.06 L239.29 335.31 L240.39 335.05 L241.49 336.24 L242.59 335.39 L243.69 334.45 L244.8 335.42 L245.9 334.8 L247 334.83 L247 338.66 L245.9 338.89 L244.8 339.04 L243.69 338.5 L242.59 339.43 L241.49 339.53 L240.39 339.36 L239.29 338.97 L238.18 340.21 L237.3 341.03 L236.42 342.19 L235.54 342.64 L234.66 343.77 L233.77 344.59 L232.67 344.16 L231.57 342.51 L230.47 342.57 L229.37 341.1 L228.26 340.79 L227.16 340.94 L226.06 340.72 L224.96 340.61 L223.85 339.38 L222.75 340.26 L221.81 339.67 L220.86 340.21 L219.92 340.33 L218.97 340.22 L218.03 340 L217.08 339.78 L216.14 340.07 L215.22 340.13 L214.3 340.41 L213.38 339.95 L212.46 340.76 L211.54 340.51 L210.63 341.02 L209.71 340.93 L208.79 339.99 L207.87 340.67 L206.95 340.33 L206.03 340.47 L205.11 341.14 L204.2 341.68 L203.28 341.52 L202.36 342.2 L201.44 342.59 L200.52 341.96 L199.6 342.1 L198.68 342.64 L197.77 342.49 L196.85 342.92 L195.93 343.31 L195.01 343.44 L194.09 343.29 L193.17 343.57 L192.25 343.23 L191.34 343.83 L190.42 343.21 L189.5 344.01 L188.58 344.07 L187.66 344.43 L186.74 344.02 L185.82 344.59 L184.91 344.29 L183.99 344.87 L183.07 345.55 L182.15 346.1 L181.23 346.53 L180.31 347.7 L179.39 348.64 L178.48 347.74 L177.56 349.16 L176.64 349.4 L175.72 351.04 L174.8 350.83 L173.88 351.55 L172.96 352.01 L172.05 353.25 L170.94 354.63 L169.84 354.49 L168.74 355.54 L167.64 356.57 L166.53 357.09 L165.43 358.91 L164.33 361.77 L163.23 363.93 L162.13 367.11 L161.02 369.71 L159.92 373.01 L158.82 375.44 L157.72 377.6 L156.61 380.86" fill="#f0a030" stroke="none" stroke-width="0.8" fill-opacity="0.3"/>
<path d="M156.61 378.77 L157.72 375.96 L158.82 373.33 L159.92 371.02 L161.02 367.75 L162.13 364.95 L163.23 362.25 L164.33 359.59 L165.43 356.73 L166.53 355.25 L167.64 354.54 L168.74 353.42 L169.84 352.84 L170.94 352.3 L172.05 351.22 L172.96 350 L173.88 349.51 L174.8 348.52 L175.72 348.65 L176.64 347.77 L177.56 346.81 L178.48 345.71 L179.39 346.28 L180.31 345.71 L181.23 344.79 L182.15 344.19 L183.07 343.5 L183.99 342.91 L184.91 342.55 L185.82 342.98 L186.74 342.24 L187.66 342.21 L188.58 342.4 L189.5 341.91 L190.42 341.47 L191.34 341.8 L192.25 341.59 L193.17 341.89 L194.09 341.3 L195.01 341.14 L195.93 341.1 L196.85 340.74 L197.77 340.76 L198.68 340.33 L199.6 340.19 L200.52 339.74 L201.44 340.42 L202.36 340.24 L203.28 339.87 L204.2 339.52 L205.11 339.09 L206.03 338.8 L206.95 338.62 L207.87 338.62 L208.79 338.28 L209.71 339.04 L210.63 338.65 L211.54 338.42 L212.46 338.85 L213.38 338.18 L214.3 338.76 L215.22 338.52 L216.14 337.99 L217.08 337.39 L218.03 337.64 L218.97 338.48 L219.92 337.95 L220.86 338.57 L221.81 337.87 L222.75 337.99 L223.85 337.64 L224.96 338.48 L226.06 338.82 L227.16 338.65 L228.26 338.89 L229.37 339.18 L230.47 340.19 L231.57 340.73 L232.67 342.22 L233.77 342.4 L234.66 341.97 L235.54 340.47 L236.42 340.19 L237.3 338.79 L238.18 337.99 L239.29 337.35 L240.39 337.13 L241.49 337.85 L242.59 337.33 L243.69 336.83 L244.8 337.18 L245.9 336.93 L247 336.89" fill="none" stroke="#f0a030" stroke-width="0.8"/>
<path d="M156.61 363.22 L157.72 360.18 L158.82 357.27 L159.92 354.72 L161.02 352.03 L162.13 349.59 L163.23 348.13 L164.33 345.68 L165.43 345.28 L166.53 344 L167.64 342.6 L168.74 342.52 L169.84 341.92 L170.94 340.9 L172.05 340.28 L173.15 339.16 L174.25 338.61 L175.35 337.58 L176.46 337.11 L177.56 337.43 L178.66 336.86 L179.76 336.33 L180.86 336.63 L181.97 335.63 L183.07 335.37 L183.99 336.02 L184.91 335.54 L185.82 336.43 L186.74 335.87 L187.66 335.8 L188.58 336.16 L189.5 336.6 L190.42 335.75 L191.34 336.29 L192.25 336.9 L193.17 337.04 L194.09 337.1 L195.01 335.76 L195.93 336.91 L196.85 336.77 L197.77 335.21 L198.68 335.72 L199.6 336.01 L200.52 334.76 L201.44 335.17 L202.36 334.98 L203.28 334.61 L204.2 335.32 L205.11 334.35 L206.03 333.58 L206.95 333.71 L207.87 334.78 L208.79 333.79 L209.71 333.79 L210.63 334.14 L211.54 334.49 L212.46 333.83 L213.38 333.6 L214.3 333.25 L215.22 333.54 L216.14 333.55 L217.06 333.6 L217.97 333.78 L218.89 333.5 L219.81 332.22 L220.73 332.45 L221.65 332.47 L221.65 336.7 L220.73 336.82 L219.81 337.57 L218.89 338.13 L217.97 337.99 L217.06 338.63 L216.14 338.45 L215.22 338.26 L214.3 337.83 L213.38 337.91 L212.46 338.39 L211.54 338.89 L210.63 338.82 L209.71 338.94 L208.79 338.44 L207.87 339.22 L206.95 338.94 L206.03 338.64 L205.11 339.15 L204.2 339.53 L203.28 339.54 L202.36 339.94 L201.44 339.31 L200.52 339.91 L199.6 340.15 L198.68 340.33 L197.77 339.96 L196.85 341.33 L195.93 341.47 L195.01 340.39 L194.09 341.5 L193.17 341.01 L192.25 341.97 L191.34 340.26 L190.42 340.74 L189.5 341.68 L188.58 340.95 L187.66 340.89 L186.74 340.33 L185.82 341.03 L184.91 339.94 L183.99 340.57 L183.07 340.66 L181.97 339.96 L180.86 341.23 L179.76 341 L178.66 341.29 L177.56 341.82 L176.46 341.44 L175.35 342.77 L174.25 343.23 L173.15 343.67 L172.05 345.08 L170.94 345.28 L169.84 346.72 L168.74 347.61 L167.64 347.65 L166.53 348.12 L165.43 349.49 L164.33 350.38 L163.23 352.33 L162.13 354.28 L161.02 357.4 L159.92 358.91 L158.82 361.87 L157.72 364.93 L156.61 367.56" fill="#e86a28" stroke="none" stroke-width="0.8" fill-opacity="0.3"/>
<path d="M156.61 365.55 L157.72 362.58 L158.82 359.86 L159.92 356.73 L161.02 354.72 L162.13 351.89 L163.23 350.11 L164.33 348.32 L165.43 347.54 L166.53 346.21 L167.64 345.26 L168.74 344.92 L169.84 344.06 L170.94 343.24 L172.05 342.4 L173.15 341.73 L174.25 341.12 L175.35 340.19 L176.46 339.4 L177.56 339.39 L178.66 339.09 L179.76 338.41 L180.86 339.03 L181.97 337.74 L183.07 337.99 L183.99 338.48 L184.91 337.7 L185.82 338.54 L186.74 338.23 L187.66 338.43 L188.58 338.65 L189.5 339.14 L190.42 338.22 L191.34 338.34 L192.25 339.44 L193.17 339.03 L194.09 339.09 L195.01 338.42 L195.93 339.31 L196.85 339.08 L197.77 337.89 L198.68 338.08 L199.6 337.99 L200.52 337.37 L201.44 337.4 L202.36 337.58 L203.28 336.85 L204.2 337.31 L205.11 336.89 L206.03 336.28 L206.95 336.35 L207.87 337.05 L208.79 336.47 L209.71 336.42 L210.63 336.45 L211.54 336.45 L212.46 336.2 L213.38 335.98 L214.3 335.44 L215.22 336.17 L216.14 335.78 L217.06 336.16 L217.97 335.99 L218.89 335.43 L219.81 334.88 L220.73 334.7 L221.65 334.68" fill="none" stroke="#e86a28" stroke-width="0.8"/>
<path d="M156.61 370.04 L157.72 366.85 L158.82 364.11 L159.92 361.46 L161.02 359.62 L162.13 358.58 L163.23 357.07 L164.22 353.57 L165.21 351.14 L166.2 348.35 L167.2 345.53 L168.13 343.04 L169.07 341.16 L170.01 338.04 L170.94 336.02 L172.05 333.23 L173.15 330.54 L174.25 328.05 L175.35 325.97 L176.27 324.33 L177.19 322.62 L178.11 320.71 L179.03 318.16 L179.95 316.75 L180.86 314.71 L181.97 313.88 L183.07 314.02 L184.17 313.34 L185.27 312.25 L186.38 311.86 L187.48 311.54 L188.58 310.8 L189.68 310.71 L190.78 310.86 L191.89 310.04 L192.99 309.89 L194.09 309.39 L195.19 309.08 L196.3 308.7 L196.3 312.97 L195.19 313.26 L194.09 313.32 L192.99 314.1 L191.89 314.19 L190.78 314.93 L189.68 314.82 L188.58 315.22 L187.48 316.12 L186.38 316.13 L185.27 316.21 L184.17 317.16 L183.07 318.14 L181.97 317.91 L180.86 318.9 L179.95 320.8 L179.03 322.68 L178.11 324.7 L177.19 326.7 L176.27 328.36 L175.35 329.92 L174.25 332.53 L173.15 334.7 L172.05 337.7 L170.94 340.36 L170.01 342.01 L169.07 345.27 L168.13 347.37 L167.2 349.8 L166.2 352.34 L165.21 355.6 L164.22 358.32 L163.23 360.81 L162.13 362.91 L161.02 364.39 L159.92 365.28 L158.82 368.6 L157.72 370.85 L156.61 374.18" fill="#e03020" stroke="none" stroke-width="0.8" fill-opacity="0.3"/>
<path d="M156.61 372.16 L157.72 369.03 L158.82 366.43 L159.92 363.34 L161.02 362.02 L162.13 360.68 L163.23 358.93 L164.22 355.93 L165.21 353.21 L166.2 350.38 L167.2 347.91 L168.13 345.21 L169.07 343.14 L170.01 340.17 L170.94 337.99 L172.05 335.53 L173.15 332.8 L174.25 330.38 L175.35 328.07 L176.27 326.18 L177.19 324.66 L178.11 322.64 L179.03 320.33 L179.95 318.7 L180.86 317.05 L181.97 316.1 L183.07 316.02 L184.17 315.31 L185.27 314.4 L186.38 314.2 L187.48 313.78 L188.58 313.08 L189.68 312.94 L190.78 312.78 L191.89 312.32 L192.99 311.75 L194.09 311.27 L195.19 311.45 L196.3 310.87" fill="none" stroke="#e03020" stroke-width="0.8"/>
<path d="M156.61 358.93 L158.38 352.76 L162.13 336.89 L166.53 317.05 L170.94 299.41" fill="none" stroke="#7a1414" stroke-width="0.8"/>
<path d="M158.8 347.9 L162.1 346.1" fill="none" stroke="#7a1414" stroke-width="1.3"/>
<line x1="158.6" y1="341.4" x2="158.6" y2="353.3" stroke="#7a1414" stroke-width="1.3"/>
<line x1="171.4" y1="327" x2="171.4" y2="339" stroke="#e03020" stroke-width="1.3"/>
<line x1="183.9" y1="333.5" x2="183.9" y2="346.2" stroke="#e86a28" stroke-width="1.3"/>
<line x1="196.5" y1="335" x2="196.5" y2="347.7" stroke="#f0a030" stroke-width="1.3"/>
<line x1="156.5" y1="299.7" x2="156.5" y2="381.1" stroke="#333333" stroke-width="0.8"/>
<line x1="156.1" y1="380.7" x2="257.22" y2="380.7" stroke="#333333" stroke-width="0.8"/>
<line x1="156.5" y1="380.7" x2="158.1" y2="380.7" stroke="#333333" stroke-width="0.7"/>
<text x="154.3" y="383.35" font-size="7.35" text-anchor="end" fill="#333333">-2</text>
<line x1="156.5" y1="364.5" x2="158.1" y2="364.5" stroke="#333333" stroke-width="0.7"/>
<text x="154.3" y="367.15" font-size="7.35" text-anchor="end" fill="#333333">-1</text>
<line x1="156.5" y1="348.3" x2="158.1" y2="348.3" stroke="#333333" stroke-width="0.7"/>
<text x="154.3" y="350.95" font-size="7.35" text-anchor="end" fill="#333333">0</text>
<line x1="156.5" y1="332.1" x2="158.1" y2="332.1" stroke="#333333" stroke-width="0.7"/>
<text x="154.3" y="334.75" font-size="7.35" text-anchor="end" fill="#333333">1</text>
<line x1="156.5" y1="315.9" x2="158.1" y2="315.9" stroke="#333333" stroke-width="0.7"/>
<text x="154.3" y="318.55" font-size="7.35" text-anchor="end" fill="#333333">2</text>
<line x1="156.5" y1="299.7" x2="158.1" y2="299.7" stroke="#333333" stroke-width="0.7"/>
<text x="154.3" y="302.35" font-size="7.35" text-anchor="end" fill="#333333">3</text>
<line x1="156.5" y1="380.7" x2="156.5" y2="379.1" stroke="#333333" stroke-width="0.7"/>
<text x="156.5" y="390.1" font-size="7.35" text-anchor="middle" fill="#333333">0</text>
<line x1="181.68" y1="380.7" x2="181.68" y2="379.1" stroke="#333333" stroke-width="0.7"/>
<text x="181.68" y="390.1" font-size="7.35" text-anchor="middle" fill="#333333">0.2</text>
<line x1="206.86" y1="380.7" x2="206.86" y2="379.1" stroke="#333333" stroke-width="0.7"/>
<text x="206.86" y="390.1" font-size="7.35" text-anchor="middle" fill="#333333">0.4</text>
<line x1="232.04" y1="380.7" x2="232.04" y2="379.1" stroke="#333333" stroke-width="0.7"/>
<text x="232.04" y="390.1" font-size="7.35" text-anchor="middle" fill="#333333">0.6</text>
<line x1="257.22" y1="380.7" x2="257.22" y2="379.1" stroke="#333333" stroke-width="0.7"/>
<text x="257.22" y="390.1" font-size="7.35" text-anchor="middle" fill="#333333">0.8</text>
<text x="141.1" y="339.1" font-size="8.2" text-anchor="middle" fill="#222" transform="rotate(-90 141.1 339.1)">ΔF/F<tspan font-size="6.0" dy="2.3">0</tspan><tspan dy="-2.3"> [%]</tspan></text>
<text x="206.86" y="400" font-size="8.1" text-anchor="middle" fill="#222">Time rel. stim. offset (s)</text>
<text x="232" y="309.7" font-size="5.9" font-weight="bold" fill="#7a1414">SOA100</text>
<text x="232" y="314.85" font-size="5.9" font-weight="bold" fill="#e03020">SOA200</text>
<text x="232" y="320" font-size="5.9" font-weight="bold" fill="#e86a28">SOA300</text>
<text x="232" y="325.15" font-size="5.9" font-weight="bold" fill="#f0a030">SOA400</text>
<text x="278.8" y="290.9" font-size="8.6" fill="#222">N</text>
<text x="302.8" y="290.9" font-size="8.8" font-weight="bold" fill="#111">Mean Across Animals</text>
<path d="M298.2 367.6 L298.97 365.8 L299.73 364.6 L300.5 362.9 L301.5 362.02 L302.5 360.94 L303.5 359.78 L304.5 359 L305.32 358.58 L306.14 357.98 L306.96 357.15 L307.78 356.52 L308.6 355.9 L309.5 354.57 L310.4 353.25 L311.3 352.36 L312.2 351.36 L313.1 349.85 L314 349 L314.9 348.36 L315.8 347.13 L316.7 346.28 L317.6 345.31 L318.5 345.13 L319.4 344.11 L320.3 343.1 L321.16 343.07 L322.01 342.6 L322.87 341.91 L323.72 341.82 L324.58 341.65 L325.43 341.1 L326.29 341.39 L327.14 340.7 L328 340.5 L328.91 340.08 L329.82 340.37 L330.73 339.71 L331.63 340.1 L332.54 339.59 L333.45 339.49 L334.36 339.17 L335.27 339.09 L336.17 338.71 L337.08 338.43 L337.99 338.83 L338.9 338.4 L339.82 338.1 L340.75 338.36 L341.67 337.85 L342.6 338.26 L343.52 338.09 L344.45 337.88 L345.38 337.77 L346.3 337.52 L347.23 337.51 L348.15 336.97 L349.07 337.1 L350 337 L350.9 337.15 L351.8 336.63 L352.7 337.05 L353.6 336.94 L354.5 336.53 L355.4 336.41 L356.3 336.39 L357.2 336.27 L358.1 336.61 L359 336.1 L359.9 336.1 L360.82 335.7 L361.74 335.67 L362.65 336.03 L363.57 336.15 L364.49 335.73 L365.41 335.66 L366.33 335.63 L367.25 335.69 L368.16 335.25 L369.08 335.45 L370 335.3 L370.91 335.28 L371.82 335.26 L372.73 334.89 L373.64 334.81 L374.55 334.88 L375.45 335.22 L376.36 334.75 L377.27 334.86 L378.18 334.59 L379.09 334.39 L380 334.6 L380.88 334.22 L381.76 334.67 L382.65 334.58 L383.53 334.22 L384.41 334.36 L385.29 334.29 L386.17 334.37 L387.05 334.34 L387.94 333.88 L388.82 334.22 L389.7 333.8 L389.7 337.8 L388.82 338.22 L387.94 337.88 L387.05 338.34 L386.17 338.37 L385.29 338.29 L384.41 338.36 L383.53 338.22 L382.65 338.58 L381.76 338.67 L380.88 338.22 L380 338.6 L379.09 338.39 L378.18 338.59 L377.27 338.86 L376.36 338.75 L375.45 339.22 L374.55 338.88 L373.64 338.81 L372.73 338.89 L371.82 339.26 L370.91 339.28 L370 339.3 L369.08 339.45 L368.16 339.25 L367.25 339.69 L366.33 339.63 L365.41 339.66 L364.49 339.73 L363.57 340.15 L362.65 340.03 L361.74 339.67 L360.82 339.7 L359.9 340.1 L359 340.1 L358.1 340.61 L357.2 340.27 L356.3 340.39 L355.4 340.41 L354.5 340.53 L353.6 340.94 L352.7 341.05 L351.8 340.63 L350.9 341.15 L350 341 L349.07 341.1 L348.15 340.97 L347.23 341.51 L346.3 341.52 L345.38 341.77 L344.45 341.88 L343.52 342.09 L342.6 342.26 L341.67 341.85 L340.75 342.36 L339.82 342.1 L338.9 342.4 L337.99 342.83 L337.08 342.43 L336.17 342.71 L335.27 343.09 L334.36 343.17 L333.45 343.49 L332.54 343.59 L331.63 344.1 L330.73 343.71 L329.82 344.37 L328.91 344.08 L328 344.5 L327.14 344.7 L326.29 345.39 L325.43 345.1 L324.58 345.65 L323.72 345.82 L322.87 345.91 L322.01 346.6 L321.16 347.07 L320.3 347.1 L319.4 348.11 L318.5 349.13 L317.6 349.31 L316.7 350.28 L315.8 351.13 L314.9 352.36 L314 353 L313.1 353.85 L312.2 355.36 L311.3 356.36 L310.4 357.25 L309.5 358.57 L308.6 359.9 L307.78 360.52 L306.96 361.15 L306.14 361.98 L305.32 362.58 L304.5 363 L303.5 363.78 L302.5 364.94 L301.5 366.02 L300.5 366.9 L299.73 368.6 L298.97 369.8 L298.2 371.6" fill="#f0a030" stroke="none" stroke-width="0.8" fill-opacity="0.3"/>
<path d="M298.2 369.6 L298.97 367.8 L299.73 366.6 L300.5 364.9 L301.5 364.02 L302.5 362.94 L303.5 361.78 L304.5 361 L305.32 360.58 L306.14 359.98 L306.96 359.15 L307.78 358.52 L308.6 357.9 L309.5 356.57 L310.4 355.25 L311.3 354.36 L312.2 353.36 L313.1 351.85 L314 351 L314.9 350.36 L315.8 349.13 L316.7 348.28 L317.6 347.31 L318.5 347.13 L319.4 346.11 L320.3 345.1 L321.16 345.07 L322.01 344.6 L322.87 343.91 L323.72 343.82 L324.58 343.65 L325.43 343.1 L326.29 343.39 L327.14 342.7 L328 342.5 L328.91 342.08 L329.82 342.37 L330.73 341.71 L331.63 342.1 L332.54 341.59 L333.45 341.49 L334.36 341.17 L335.27 341.09 L336.17 340.71 L337.08 340.43 L337.99 340.83 L338.9 340.4 L339.82 340.1 L340.75 340.36 L341.67 339.85 L342.6 340.26 L343.52 340.09 L344.45 339.88 L345.38 339.77 L346.3 339.52 L347.23 339.51 L348.15 338.97 L349.07 339.1 L350 339 L350.9 339.15 L351.8 338.63 L352.7 339.05 L353.6 338.94 L354.5 338.53 L355.4 338.41 L356.3 338.39 L357.2 338.27 L358.1 338.61 L359 338.1 L359.9 338.1 L360.82 337.7 L361.74 337.67 L362.65 338.03 L363.57 338.15 L364.49 337.73 L365.41 337.66 L366.33 337.63 L367.25 337.69 L368.16 337.25 L369.08 337.45 L370 337.3 L370.91 337.28 L371.82 337.26 L372.73 336.89 L373.64 336.81 L374.55 336.88 L375.45 337.22 L376.36 336.75 L377.27 336.86 L378.18 336.59 L379.09 336.39 L380 336.6 L380.88 336.22 L381.76 336.67 L382.65 336.58 L383.53 336.22 L384.41 336.36 L385.29 336.29 L386.17 336.37 L387.05 336.34 L387.94 335.88 L388.82 336.22 L389.7 335.8" fill="none" stroke="#f0a030" stroke-width="0.8"/>
<path d="M298.2 361.9 L299.15 361.3 L300.1 359.93 L301.05 358.99 L302 358.4 L302.86 357.94 L303.72 356.69 L304.58 355.89 L305.44 355.45 L306.3 354.6 L307.18 353.49 L308.05 352.81 L308.93 351.4 L309.8 350.83 L310.68 349.43 L311.55 348.59 L312.43 347.77 L313.3 346.5 L314.25 345.59 L315.2 344.72 L316.15 343.57 L317.1 342.16 L318.05 341.65 L319 340.4 L319.89 339.9 L320.77 339.19 L321.66 338.56 L322.55 338.41 L323.44 337.7 L324.33 337.36 L325.21 336.71 L326.1 336 L327 335.9 L327.9 335.29 L328.8 335 L329.7 334.58 L330.6 333.99 L331.5 334.04 L332.4 333.28 L333.3 333.19 L334.2 332.92 L335.1 332.36 L336 331.9 L336.87 331.5 L337.74 331.72 L338.61 331.44 L339.49 330.97 L340.36 330.7 L341.23 330.8 L342.1 330.32 L342.97 330.67 L343.84 330.23 L344.71 330.05 L345.59 329.8 L346.46 329.77 L347.33 329.74 L348.2 329.3 L349.07 329.12 L349.93 329.09 L350.8 329.15 L351.67 328.91 L352.53 329.02 L353.4 328.93 L354.27 328.79 L355.13 328.87 L356 328.7 L356.9 328.77 L357.8 328.56 L358.7 329.16 L359.6 328.84 L360.5 328.94 L361.4 328.98 L362.3 329.35 L363.2 329.42 L364.1 329.2 L364.1 333.4 L363.2 333.62 L362.3 333.55 L361.4 333.18 L360.5 333.14 L359.6 333.04 L358.7 333.36 L357.8 332.76 L356.9 332.97 L356 332.9 L355.13 333.07 L354.27 332.99 L353.4 333.13 L352.53 333.22 L351.67 333.11 L350.8 333.35 L349.93 333.29 L349.07 333.32 L348.2 333.5 L347.33 333.94 L346.46 333.97 L345.59 334 L344.71 334.25 L343.84 334.43 L342.97 334.87 L342.1 334.52 L341.23 335 L340.36 334.9 L339.49 335.17 L338.61 335.64 L337.74 335.92 L336.87 335.7 L336 336.1 L335.1 336.56 L334.2 337.12 L333.3 337.39 L332.4 337.48 L331.5 338.24 L330.6 338.19 L329.7 338.78 L328.8 339.2 L327.9 339.49 L327 340.1 L326.1 340.2 L325.21 340.91 L324.33 341.56 L323.44 341.9 L322.55 342.61 L321.66 342.76 L320.77 343.39 L319.89 344.1 L319 344.6 L318.05 345.85 L317.1 346.36 L316.15 347.77 L315.2 348.92 L314.25 349.79 L313.3 350.7 L312.43 351.97 L311.55 352.79 L310.68 353.63 L309.8 355.03 L308.93 355.6 L308.05 357.01 L307.18 357.69 L306.3 358.8 L305.44 359.65 L304.58 360.09 L303.72 360.89 L302.86 362.14 L302 362.6 L301.05 363.19 L300.1 364.13 L299.15 365.5 L298.2 366.1" fill="#e86a28" stroke="none" stroke-width="0.8" fill-opacity="0.3"/>
<path d="M298.2 364 L299.15 363.4 L300.1 362.03 L301.05 361.09 L302 360.5 L302.86 360.04 L303.72 358.79 L304.58 357.99 L305.44 357.55 L306.3 356.7 L307.18 355.59 L308.05 354.91 L308.93 353.5 L309.8 352.93 L310.68 351.53 L311.55 350.69 L312.43 349.87 L313.3 348.6 L314.25 347.69 L315.2 346.82 L316.15 345.67 L317.1 344.26 L318.05 343.75 L319 342.5 L319.89 342 L320.77 341.29 L321.66 340.66 L322.55 340.51 L323.44 339.8 L324.33 339.46 L325.21 338.81 L326.1 338.1 L327 338 L327.9 337.39 L328.8 337.1 L329.7 336.68 L330.6 336.09 L331.5 336.14 L332.4 335.38 L333.3 335.29 L334.2 335.02 L335.1 334.46 L336 334 L336.87 333.6 L337.74 333.82 L338.61 333.54 L339.49 333.07 L340.36 332.8 L341.23 332.9 L342.1 332.42 L342.97 332.77 L343.84 332.33 L344.71 332.15 L345.59 331.9 L346.46 331.87 L347.33 331.84 L348.2 331.4 L349.07 331.22 L349.93 331.19 L350.8 331.25 L351.67 331.01 L352.53 331.12 L353.4 331.03 L354.27 330.89 L355.13 330.97 L356 330.8 L356.9 330.87 L357.8 330.66 L358.7 331.26 L359.6 330.94 L360.5 331.04 L361.4 331.08 L362.3 331.45 L363.2 331.52 L364.1 331.3" fill="none" stroke="#e86a28" stroke-width="0.8"/>
<path d="M298.2 362.3 L299.13 361.42 L300.07 360.3 L301 358.9 L302 358.14 L303 356.65 L304 355.96 L305 354.9 L306 352.85 L307 350.92 L308 348.68 L309 346.9 L309.86 344.08 L310.72 341.59 L311.58 338.81 L312.44 336.31 L313.3 333.7 L314.24 331.65 L315.18 329.93 L316.12 328.55 L317.06 326.61 L318 324.9 L318.88 323.97 L319.75 323.17 L320.62 322 L321.5 320.88 L322.38 320.38 L323.25 319.33 L324.12 318.43 L325 317.4 L325.86 316.83 L326.71 316.4 L327.57 315.39 L328.43 314.98 L329.29 314.11 L330.14 313.59 L331 312.9 L331.85 312.6 L332.7 311.99 L333.55 311.45 L334.4 311.28 L335.25 311.03 L336.1 310.55 L336.95 310.07 L337.8 309.7 L337.8 313.9 L336.95 314.27 L336.1 314.75 L335.25 315.23 L334.4 315.48 L333.55 315.65 L332.7 316.19 L331.85 316.8 L331 317.1 L330.14 317.79 L329.29 318.31 L328.43 319.18 L327.57 319.59 L326.71 320.6 L325.86 321.03 L325 321.6 L324.12 322.63 L323.25 323.53 L322.38 324.58 L321.5 325.08 L320.62 326.2 L319.75 327.37 L318.88 328.17 L318 329.1 L317.06 330.81 L316.12 332.75 L315.18 334.13 L314.24 335.85 L313.3 337.9 L312.44 340.51 L311.58 343.01 L310.72 345.79 L309.86 348.28 L309 351.1 L308 352.88 L307 355.12 L306 357.05 L305 359.1 L304 360.16 L303 360.85 L302 362.34 L301 363.1 L300.07 364.5 L299.13 365.62 L298.2 366.5" fill="#e03020" stroke="none" stroke-width="0.8" fill-opacity="0.3"/>
<path d="M298.2 364.4 L299.13 363.52 L300.07 362.4 L301 361 L302 360.24 L303 358.75 L304 358.06 L305 357 L306 354.95 L307 353.02 L308 350.78 L309 349 L309.86 346.18 L310.72 343.69 L311.58 340.91 L312.44 338.41 L313.3 335.8 L314.24 333.75 L315.18 332.03 L316.12 330.65 L317.06 328.71 L318 327 L318.88 326.07 L319.75 325.27 L320.62 324.1 L321.5 322.98 L322.38 322.48 L323.25 321.43 L324.12 320.53 L325 319.5 L325.86 318.93 L326.71 318.5 L327.57 317.49 L328.43 317.08 L329.29 316.21 L330.14 315.69 L331 315 L331.85 314.7 L332.7 314.09 L333.55 313.55 L334.4 313.38 L335.25 313.13 L336.1 312.65 L336.95 312.17 L337.8 311.8" fill="none" stroke="#e03020" stroke-width="0.8"/>
<path d="M299.3 353.2 L301 351 L302.8 348.6 L306 340 L309.5 326 L313.3 309.4" fill="none" stroke="#7a1414" stroke-width="0.8"/>
<line x1="300" y1="342.8" x2="300" y2="355.6" stroke="#7a1414" stroke-width="1.3"/>
<line x1="313.3" y1="332.3" x2="313.3" y2="344.4" stroke="#e03020" stroke-width="1.3"/>
<line x1="326.1" y1="328.8" x2="326.1" y2="341.6" stroke="#e86a28" stroke-width="1.3"/>
<line x1="338.9" y1="335" x2="338.9" y2="348.1" stroke="#f0a030" stroke-width="1.3"/>
<line x1="298.2" y1="299.8" x2="298.2" y2="381.2" stroke="#333333" stroke-width="0.8"/>
<line x1="297.8" y1="380.8" x2="398.28" y2="380.8" stroke="#333333" stroke-width="0.8"/>
<line x1="298.2" y1="380.8" x2="299.8" y2="380.8" stroke="#333333" stroke-width="0.7"/>
<text x="296" y="383.45" font-size="7.35" text-anchor="end" fill="#333333">-2</text>
<line x1="298.2" y1="364.6" x2="299.8" y2="364.6" stroke="#333333" stroke-width="0.7"/>
<text x="296" y="367.25" font-size="7.35" text-anchor="end" fill="#333333">-1</text>
<line x1="298.2" y1="348.4" x2="299.8" y2="348.4" stroke="#333333" stroke-width="0.7"/>
<text x="296" y="351.05" font-size="7.35" text-anchor="end" fill="#333333">0</text>
<line x1="298.2" y1="332.2" x2="299.8" y2="332.2" stroke="#333333" stroke-width="0.7"/>
<text x="296" y="334.85" font-size="7.35" text-anchor="end" fill="#333333">1</text>
<line x1="298.2" y1="316" x2="299.8" y2="316" stroke="#333333" stroke-width="0.7"/>
<text x="296" y="318.65" font-size="7.35" text-anchor="end" fill="#333333">2</text>
<line x1="298.2" y1="299.8" x2="299.8" y2="299.8" stroke="#333333" stroke-width="0.7"/>
<text x="296" y="302.45" font-size="7.35" text-anchor="end" fill="#333333">3</text>
<line x1="298.2" y1="380.8" x2="298.2" y2="379.2" stroke="#333333" stroke-width="0.7"/>
<text x="298.2" y="390.2" font-size="7.35" text-anchor="middle" fill="#333333">0</text>
<line x1="323.22" y1="380.8" x2="323.22" y2="379.2" stroke="#333333" stroke-width="0.7"/>
<text x="323.22" y="390.2" font-size="7.35" text-anchor="middle" fill="#333333">0.2</text>
<line x1="348.24" y1="380.8" x2="348.24" y2="379.2" stroke="#333333" stroke-width="0.7"/>
<text x="348.24" y="390.2" font-size="7.35" text-anchor="middle" fill="#333333">0.4</text>
<line x1="373.26" y1="380.8" x2="373.26" y2="379.2" stroke="#333333" stroke-width="0.7"/>
<text x="373.26" y="390.2" font-size="7.35" text-anchor="middle" fill="#333333">0.6</text>
<line x1="398.28" y1="380.8" x2="398.28" y2="379.2" stroke="#333333" stroke-width="0.7"/>
<text x="398.28" y="390.2" font-size="7.35" text-anchor="middle" fill="#333333">0.8</text>
<text x="282.8" y="339.1" font-size="8.2" text-anchor="middle" fill="#222" transform="rotate(-90 282.8 339.1)">ΔF/F<tspan font-size="6.0" dy="2.3">0</tspan><tspan dy="-2.3"> [%]</tspan></text>
<text x="348.24" y="400" font-size="8.1" text-anchor="middle" fill="#222">Time rel. stim. offset (s)</text>
<text x="374.4" y="309.7" font-size="5.9" font-weight="bold" fill="#7a1414">SOA100</text>
<text x="374.4" y="314.85" font-size="5.9" font-weight="bold" fill="#e03020">SOA200</text>
<text x="374.4" y="320" font-size="5.9" font-weight="bold" fill="#e86a28">SOA300</text>
<text x="374.4" y="325.15" font-size="5.9" font-weight="bold" fill="#f0a030">SOA400</text>
<text x="399.6" y="377" font-size="5.8" text-anchor="end" fill="#333">n=5</text>
<text x="415.9" y="291.2" font-size="8.6" fill="#222">O</text>
<line x1="440.6" y1="344.15" x2="501.2" y2="344.15" stroke="#d0d0d0" stroke-width="0.6"/>
<path d="M452.3 334.25 L464.6 317.76 L476.6 350.38 L488.8 358.44" fill="none" stroke="#a0a0a0" stroke-width="0.6"/>
<path d="M452.3 341.58 L464.6 332.79 L476.6 328.39 L488.8 372" fill="none" stroke="#a0a0a0" stroke-width="0.6"/>
<path d="M452.3 354.41 L464.6 299.44 L476.6 340.85 L488.8 347.08" fill="none" stroke="#a0a0a0" stroke-width="0.6"/>
<path d="M452.3 355.14 L464.6 333.89 L476.6 360.64 L488.8 362.84" fill="none" stroke="#a0a0a0" stroke-width="0.6"/>
<path d="M452.3 354.41 L464.6 333.16 L476.6 347.08 L488.8 347.81" fill="none" stroke="#a0a0a0" stroke-width="0.6"/>
<circle cx="452.3" cy="334.25" r="2.5" fill="#7a1414"/>
<circle cx="452.3" cy="341.58" r="2.5" fill="#7a1414"/>
<circle cx="452.3" cy="354.41" r="2.5" fill="#7a1414"/>
<circle cx="452.3" cy="355.14" r="2.5" fill="#7a1414"/>
<circle cx="452.3" cy="354.41" r="2.5" fill="#7a1414"/>
<circle cx="464.6" cy="317.76" r="2.5" fill="#e03020"/>
<circle cx="464.6" cy="332.79" r="2.5" fill="#e03020"/>
<circle cx="464.6" cy="299.44" r="2.5" fill="#e03020"/>
<circle cx="464.6" cy="333.89" r="2.5" fill="#e03020"/>
<circle cx="464.6" cy="333.16" r="2.5" fill="#e03020"/>
<circle cx="476.6" cy="350.38" r="2.5" fill="#e86a28"/>
<circle cx="476.6" cy="328.39" r="2.5" fill="#e86a28"/>
<circle cx="476.6" cy="340.85" r="2.5" fill="#e86a28"/>
<circle cx="476.6" cy="360.64" r="2.5" fill="#e86a28"/>
<circle cx="476.6" cy="347.08" r="2.5" fill="#e86a28"/>
<circle cx="488.8" cy="358.44" r="2.5" fill="#f0a030"/>
<circle cx="488.8" cy="372" r="2.5" fill="#f0a030"/>
<circle cx="488.8" cy="347.08" r="2.5" fill="#f0a030"/>
<circle cx="488.8" cy="362.84" r="2.5" fill="#f0a030"/>
<circle cx="488.8" cy="347.81" r="2.5" fill="#f0a030"/>
<line x1="440.6" y1="299.6" x2="440.6" y2="380.7" stroke="#333333" stroke-width="0.8"/>
<line x1="440.2" y1="380.3" x2="501.2" y2="380.3" stroke="#333333" stroke-width="0.8"/>
<line x1="440.6" y1="380.8" x2="442.2" y2="380.8" stroke="#333333" stroke-width="0.7"/>
<text x="438.4" y="383.45" font-size="7.35" text-anchor="end" fill="#333333">0</text>
<line x1="440.6" y1="362.48" x2="442.2" y2="362.48" stroke="#333333" stroke-width="0.7"/>
<text x="438.4" y="365.12" font-size="7.35" text-anchor="end" fill="#333333">50</text>
<line x1="440.6" y1="344.15" x2="442.2" y2="344.15" stroke="#333333" stroke-width="0.7"/>
<text x="438.4" y="346.8" font-size="7.35" text-anchor="end" fill="#333333">100</text>
<line x1="440.6" y1="325.82" x2="442.2" y2="325.82" stroke="#333333" stroke-width="0.7"/>
<text x="438.4" y="328.47" font-size="7.35" text-anchor="end" fill="#333333">150</text>
<line x1="440.6" y1="307.5" x2="442.2" y2="307.5" stroke="#333333" stroke-width="0.7"/>
<text x="438.4" y="310.15" font-size="7.35" text-anchor="end" fill="#333333">200</text>
<line x1="452.3" y1="380.3" x2="452.3" y2="378.9" stroke="#333333" stroke-width="0.7"/>
<text x="456.9" y="388.7" font-size="7.4" text-anchor="end" fill="#222" transform="rotate(-45 456.9 388.7)">100</text>
<line x1="464.6" y1="380.3" x2="464.6" y2="378.9" stroke="#333333" stroke-width="0.7"/>
<text x="469.2" y="388.7" font-size="7.4" text-anchor="end" fill="#222" transform="rotate(-45 469.2 388.7)">200</text>
<line x1="476.6" y1="380.3" x2="476.6" y2="378.9" stroke="#333333" stroke-width="0.7"/>
<text x="481.2" y="388.7" font-size="7.4" text-anchor="end" fill="#222" transform="rotate(-45 481.2 388.7)">300</text>
<line x1="488.8" y1="380.3" x2="488.8" y2="378.9" stroke="#333333" stroke-width="0.7"/>
<text x="493.4" y="388.7" font-size="7.4" text-anchor="end" fill="#222" transform="rotate(-45 493.4 388.7)">400</text>
<text x="501.5" y="300.9" font-size="5.8" text-anchor="end" fill="#222">p=0.009</text>
<text x="470.4" y="405" font-size="8.1" text-anchor="middle" fill="#222">SOA (ms)</text>
<text x="424.2" y="340" font-size="8.1" text-anchor="middle" fill="#222" transform="rotate(-90 424.2 340)">OR (Norm. %)</text>
<text x="509.9" y="290.9" font-size="8.6" fill="#222">P</text>
<line x1="531.7" y1="353.65" x2="592.5" y2="353.65" stroke="#d0d0d0" stroke-width="0.6"/>
<path d="M543.8 306.45 L555.8 352.57 L567.8 371.4 L580 370.97" fill="none" stroke="#a0a0a0" stroke-width="0.7"/>
<path d="M543.8 309.27 L555.8 353.65 L567.8 372.7 L580 373.13" fill="none" stroke="#a0a0a0" stroke-width="0.7"/>
<path d="M543.8 312.95 L555.8 358.41 L567.8 373.13 L580 374.22" fill="none" stroke="#a0a0a0" stroke-width="0.7"/>
<path d="M543.8 316.85 L555.8 359.71 L567.8 374.22 L580 372.05" fill="none" stroke="#a0a0a0" stroke-width="0.7"/>
<path d="M543.8 318.58 L555.8 360.15 L567.8 372.05 L580 374.87" fill="none" stroke="#a0a0a0" stroke-width="0.7"/>
<circle cx="543.8" cy="306.45" r="2.5" fill="#7a1414"/>
<circle cx="543.8" cy="309.27" r="2.5" fill="#7a1414"/>
<circle cx="543.8" cy="312.95" r="2.5" fill="#7a1414"/>
<circle cx="543.8" cy="316.85" r="2.5" fill="#7a1414"/>
<circle cx="543.8" cy="318.58" r="2.5" fill="#7a1414"/>
<circle cx="555.8" cy="352.57" r="2.5" fill="#e03020"/>
<circle cx="555.8" cy="353.65" r="2.5" fill="#e03020"/>
<circle cx="555.8" cy="358.41" r="2.5" fill="#e03020"/>
<circle cx="555.8" cy="359.71" r="2.5" fill="#e03020"/>
<circle cx="555.8" cy="360.15" r="2.5" fill="#e03020"/>
<circle cx="567.8" cy="371.4" r="2.5" fill="#e86a28"/>
<circle cx="567.8" cy="372.7" r="2.5" fill="#e86a28"/>
<circle cx="567.8" cy="373.13" r="2.5" fill="#e86a28"/>
<circle cx="567.8" cy="374.22" r="2.5" fill="#e86a28"/>
<circle cx="567.8" cy="372.05" r="2.5" fill="#e86a28"/>
<circle cx="580" cy="370.97" r="2.5" fill="#f0a030"/>
<circle cx="580" cy="373.13" r="2.5" fill="#f0a030"/>
<circle cx="580" cy="374.22" r="2.5" fill="#f0a030"/>
<circle cx="580" cy="372.05" r="2.5" fill="#f0a030"/>
<circle cx="580" cy="374.87" r="2.5" fill="#f0a030"/>
<line x1="531.7" y1="299.6" x2="531.7" y2="380.4" stroke="#333333" stroke-width="0.8"/>
<line x1="531.3" y1="380" x2="592.5" y2="380" stroke="#333333" stroke-width="0.8"/>
<line x1="531.7" y1="375.3" x2="533.3" y2="375.3" stroke="#333333" stroke-width="0.7"/>
<text x="529.5" y="377.95" font-size="7.35" text-anchor="end" fill="#333333">0</text>
<line x1="531.7" y1="353.65" x2="533.3" y2="353.65" stroke="#333333" stroke-width="0.7"/>
<text x="529.5" y="356.3" font-size="7.35" text-anchor="end" fill="#333333">100</text>
<line x1="531.7" y1="332" x2="533.3" y2="332" stroke="#333333" stroke-width="0.7"/>
<text x="529.5" y="334.65" font-size="7.35" text-anchor="end" fill="#333333">200</text>
<line x1="531.7" y1="310.35" x2="533.3" y2="310.35" stroke="#333333" stroke-width="0.7"/>
<text x="529.5" y="313" font-size="7.35" text-anchor="end" fill="#333333">300</text>
<line x1="543.8" y1="380" x2="543.8" y2="378.6" stroke="#333333" stroke-width="0.7"/>
<text x="548.4" y="388.4" font-size="7.4" text-anchor="end" fill="#222" transform="rotate(-45 548.4 388.4)">100</text>
<line x1="555.8" y1="380" x2="555.8" y2="378.6" stroke="#333333" stroke-width="0.7"/>
<text x="560.4" y="388.4" font-size="7.4" text-anchor="end" fill="#222" transform="rotate(-45 560.4 388.4)">200</text>
<line x1="567.8" y1="380" x2="567.8" y2="378.6" stroke="#333333" stroke-width="0.7"/>
<text x="572.4" y="388.4" font-size="7.4" text-anchor="end" fill="#222" transform="rotate(-45 572.4 388.4)">300</text>
<line x1="580" y1="380" x2="580" y2="378.6" stroke="#333333" stroke-width="0.7"/>
<text x="584.6" y="388.4" font-size="7.4" text-anchor="end" fill="#222" transform="rotate(-45 584.6 388.4)">400</text>
<text x="590.5" y="300.9" font-size="5.8" text-anchor="end" fill="#222">p=0.001</text>
<text x="561.7" y="405" font-size="8.1" text-anchor="middle" fill="#222">SOA (ms)</text>
<text x="513.6" y="341.5" font-size="8.1" text-anchor="middle" fill="#222" transform="rotate(-90 513.6 341.5)">Mean Slope (Norm. %)</text>
<text x="603.2" y="291.4" font-size="8.6" fill="#222">Q</text>
<line x1="623.4" y1="343.45" x2="683.9" y2="343.45" stroke="#d0d0d0" stroke-width="0.6"/>
<path d="M634.9 311 L647.2 343.45 L659.6 365.38 L671.8 327.23" fill="none" stroke="#a0a0a0" stroke-width="0.6"/>
<path d="M634.9 316.26 L647.2 347.84 L659.6 334.24 L671.8 347.84" fill="none" stroke="#a0a0a0" stroke-width="0.6"/>
<path d="M634.9 318.46 L647.2 350.03 L659.6 344.33 L671.8 358.36" fill="none" stroke="#a0a0a0" stroke-width="0.6"/>
<path d="M634.9 320.21 L647.2 351.34 L659.6 347.84 L671.8 365.38" fill="none" stroke="#a0a0a0" stroke-width="0.6"/>
<path d="M634.9 319.33 L647.2 360.11 L659.6 380.28 L671.8 358.36" fill="none" stroke="#a0a0a0" stroke-width="0.6"/>
<circle cx="634.9" cy="311" r="2.5" fill="#7a1414"/>
<circle cx="634.9" cy="316.26" r="2.5" fill="#7a1414"/>
<circle cx="634.9" cy="318.46" r="2.5" fill="#7a1414"/>
<circle cx="634.9" cy="320.21" r="2.5" fill="#7a1414"/>
<circle cx="634.9" cy="319.33" r="2.5" fill="#7a1414"/>
<circle cx="647.2" cy="343.45" r="2.5" fill="#e03020"/>
<circle cx="647.2" cy="347.84" r="2.5" fill="#e03020"/>
<circle cx="647.2" cy="350.03" r="2.5" fill="#e03020"/>
<circle cx="647.2" cy="351.34" r="2.5" fill="#e03020"/>
<circle cx="647.2" cy="360.11" r="2.5" fill="#e03020"/>
<circle cx="659.6" cy="365.38" r="2.5" fill="#e86a28"/>
<circle cx="659.6" cy="334.24" r="2.5" fill="#e86a28"/>
<circle cx="659.6" cy="344.33" r="2.5" fill="#e86a28"/>
<circle cx="659.6" cy="347.84" r="2.5" fill="#e86a28"/>
<circle cx="659.6" cy="380.28" r="2.5" fill="#e86a28"/>
<circle cx="671.8" cy="327.23" r="2.5" fill="#f0a030"/>
<circle cx="671.8" cy="347.84" r="2.5" fill="#f0a030"/>
<circle cx="671.8" cy="358.36" r="2.5" fill="#f0a030"/>
<circle cx="671.8" cy="365.38" r="2.5" fill="#f0a030"/>
<circle cx="671.8" cy="358.36" r="2.5" fill="#f0a030"/>
<line x1="623.4" y1="299.6" x2="623.4" y2="380.7" stroke="#333333" stroke-width="0.8"/>
<line x1="623" y1="380.3" x2="683.9" y2="380.3" stroke="#333333" stroke-width="0.8"/>
<line x1="623.4" y1="365.38" x2="625" y2="365.38" stroke="#333333" stroke-width="0.7"/>
<text x="621.2" y="368.02" font-size="7.35" text-anchor="end" fill="#333333">-150</text>
<line x1="623.4" y1="343.45" x2="625" y2="343.45" stroke="#333333" stroke-width="0.7"/>
<text x="621.2" y="346.1" font-size="7.35" text-anchor="end" fill="#333333">-100</text>
<line x1="623.4" y1="321.53" x2="625" y2="321.53" stroke="#333333" stroke-width="0.7"/>
<text x="621.2" y="324.17" font-size="7.35" text-anchor="end" fill="#333333">-50</text>
<line x1="623.4" y1="299.6" x2="625" y2="299.6" stroke="#333333" stroke-width="0.7"/>
<text x="621.2" y="302.25" font-size="7.35" text-anchor="end" fill="#333333">0</text>
<line x1="634.9" y1="380.3" x2="634.9" y2="378.9" stroke="#333333" stroke-width="0.7"/>
<text x="639.5" y="388.7" font-size="7.4" text-anchor="end" fill="#222" transform="rotate(-45 639.5 388.7)">100</text>
<line x1="647.2" y1="380.3" x2="647.2" y2="378.9" stroke="#333333" stroke-width="0.7"/>
<text x="651.8" y="388.7" font-size="7.4" text-anchor="end" fill="#222" transform="rotate(-45 651.8 388.7)">200</text>
<line x1="659.6" y1="380.3" x2="659.6" y2="378.9" stroke="#333333" stroke-width="0.7"/>
<text x="664.2" y="388.7" font-size="7.4" text-anchor="end" fill="#222" transform="rotate(-45 664.2 388.7)">300</text>
<line x1="671.8" y1="380.3" x2="671.8" y2="378.9" stroke="#333333" stroke-width="0.7"/>
<text x="676.4" y="388.7" font-size="7.4" text-anchor="end" fill="#222" transform="rotate(-45 676.4 388.7)">400</text>
<text x="683.4" y="300.9" font-size="5.8" text-anchor="end" fill="#222">p=0.001</text>
<text x="653.5" y="405" font-size="8.1" text-anchor="middle" fill="#222">SOA (ms)</text>
<text x="600.2" y="339.6" font-size="8.5" text-anchor="middle" fill="#222" transform="rotate(-90 600.2 339.6)">SR<tspan font-size="6.7" dy="2.4">min</tspan><tspan dy="-2.4"> (Norm. %)</tspan></text></svg></body></html>
